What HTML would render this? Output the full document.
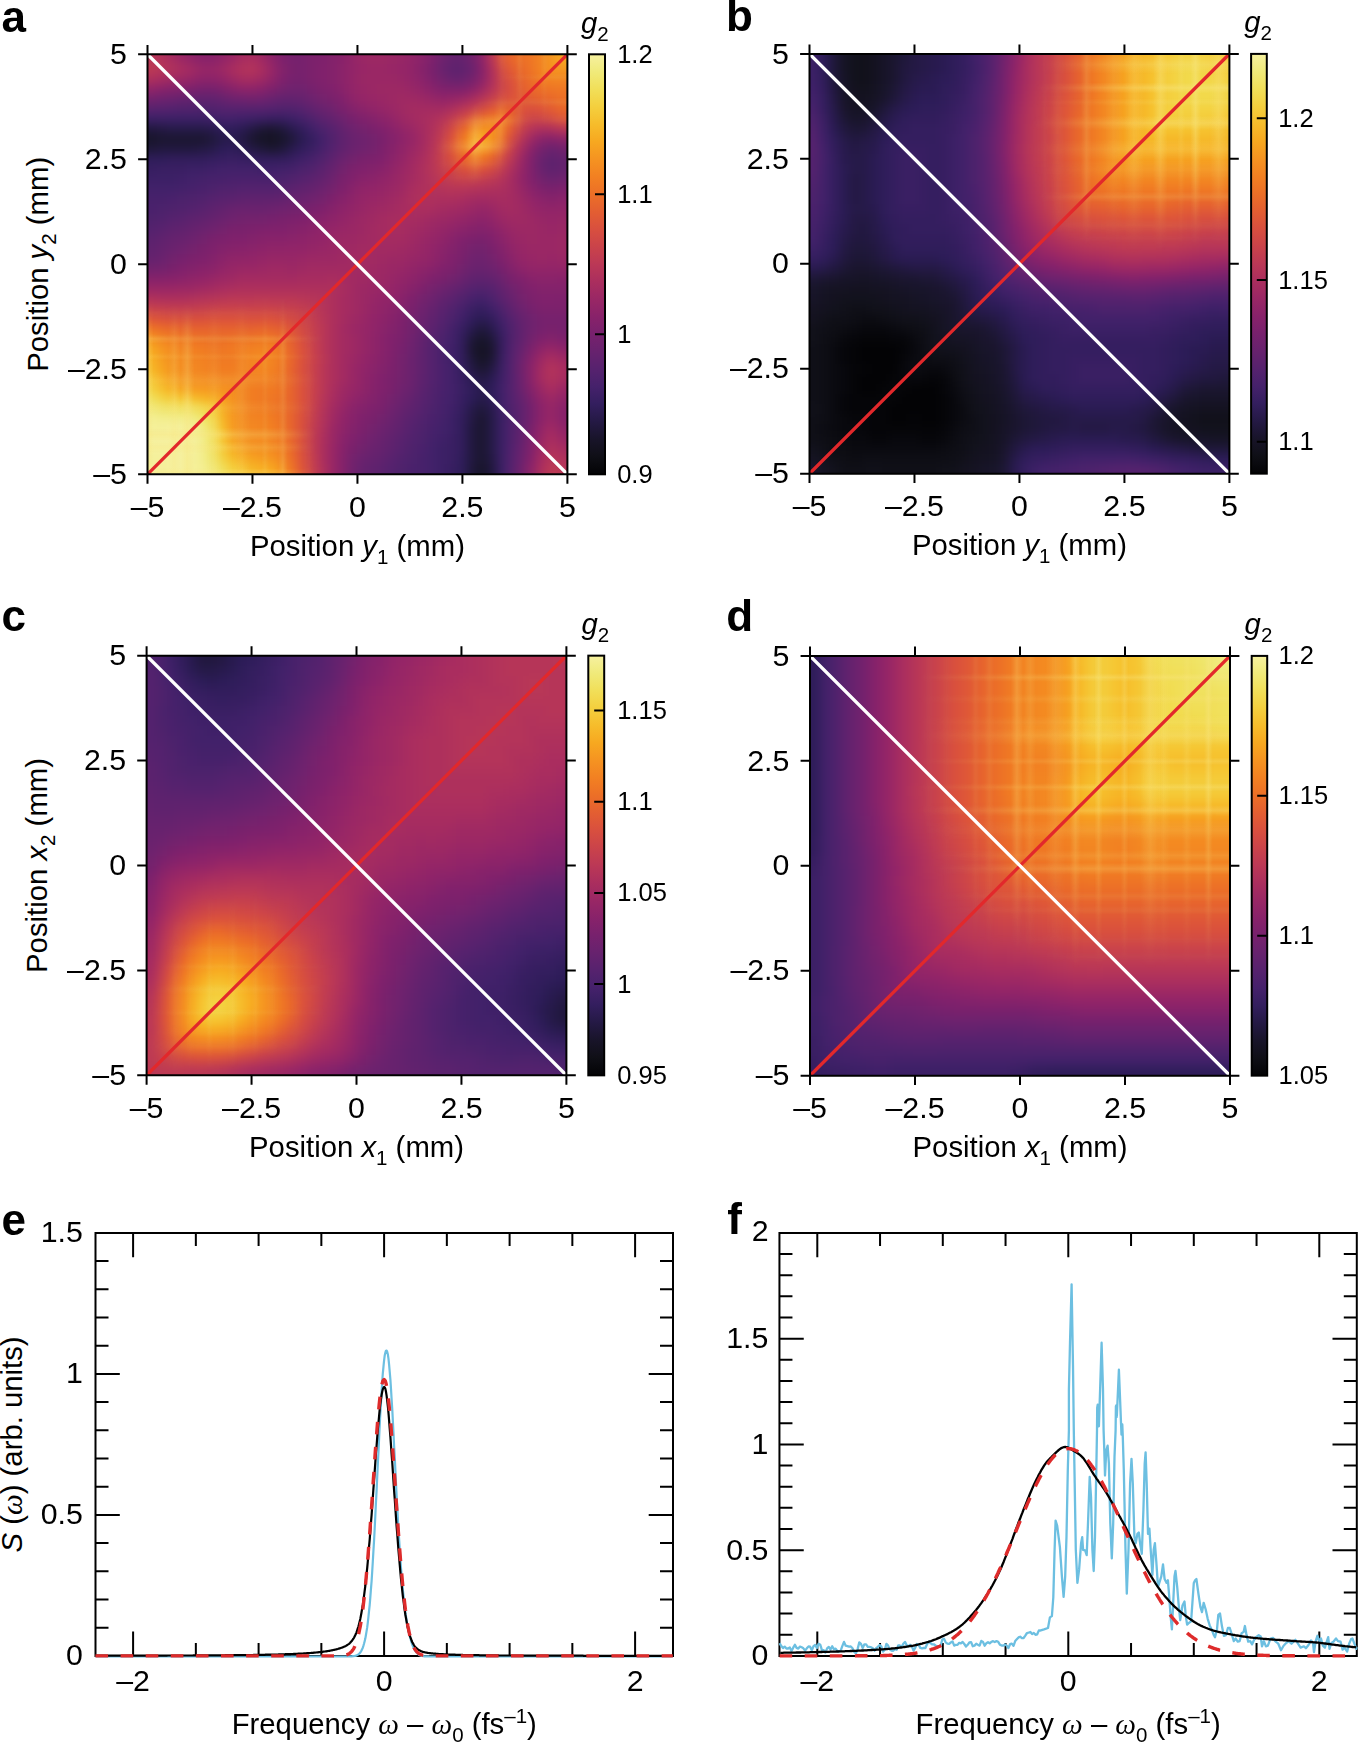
<!DOCTYPE html>
<html lang="en"><head><meta charset="utf-8"><title>Figure</title>
<style>html,body{margin:0;padding:0;background:#fff}body{width:1358px;height:1744px;overflow:hidden}svg{display:block}text{font-family:"Liberation Sans", Arial, Helvetica, sans-serif;fill:#000}.t{font-size:30.3px}.c{font-size:25.5px}.l{font-size:29.3px}.p{font-size:44px;font-weight:bold}.i{font-style:italic}.s{font-size:20.5px}.w{font-family:"Liberation Serif","DejaVu Serif",serif;font-style:italic}</style></head><body>
<svg width="1358" height="1744" viewBox="0 0 1358 1744">
<defs><filter id="bl" x="-10%" y="-10%" width="120%" height="120%" color-interpolation-filters="sRGB"><feGaussianBlur stdDeviation="0.5"/></filter><linearGradient id="cb" x1="0" y1="0" x2="0" y2="1"><stop offset="0.000" stop-color="#f6f1a0"/><stop offset="0.042" stop-color="#f0ea7a"/><stop offset="0.083" stop-color="#f1df59"/><stop offset="0.125" stop-color="#f4cf3e"/><stop offset="0.167" stop-color="#f6bc2b"/><stop offset="0.208" stop-color="#f7a820"/><stop offset="0.250" stop-color="#f59321"/><stop offset="0.292" stop-color="#f28022"/><stop offset="0.333" stop-color="#ec6f27"/><stop offset="0.375" stop-color="#e35e32"/><stop offset="0.417" stop-color="#d84f3f"/><stop offset="0.458" stop-color="#ca434a"/><stop offset="0.500" stop-color="#bb3856"/><stop offset="0.542" stop-color="#aa2e5e"/><stop offset="0.583" stop-color="#992765"/><stop offset="0.625" stop-color="#88226a"/><stop offset="0.667" stop-color="#77216d"/><stop offset="0.708" stop-color="#67226e"/><stop offset="0.750" stop-color="#56226e"/><stop offset="0.792" stop-color="#45216b"/><stop offset="0.833" stop-color="#331e5e"/><stop offset="0.875" stop-color="#241944"/><stop offset="0.917" stop-color="#181429"/><stop offset="0.958" stop-color="#0f0f16"/><stop offset="1.000" stop-color="#030305"/></linearGradient><filter id="mkf" x="0" y="0" width="100%" height="100%" color-interpolation-filters="sRGB"><feColorMatrix type="matrix" values="0 1.7 0 0 -0.36  0 1.7 0 0 -0.36  0 1.7 0 0 -0.36  0 0 0 1 0"/></filter><linearGradient id="bv" x1="0" y1="0" x2="1" y2="0"><stop offset="0" stop-color="#f8e682" stop-opacity="0"/><stop offset=".5" stop-color="#f8e682"/><stop offset="1" stop-color="#f8e682" stop-opacity="0"/></linearGradient><linearGradient id="bh" x1="0" y1="0" x2="0" y2="1"><stop offset="0" stop-color="#f8e682" stop-opacity="0"/><stop offset=".5" stop-color="#f8e682"/><stop offset="1" stop-color="#f8e682" stop-opacity="0"/></linearGradient><clipPath id="cpa"><rect x="147.5" y="54.3" width="419.9" height="420"/></clipPath><mask id="mka" maskUnits="userSpaceOnUse" x="147.5" y="54.3" width="419.9" height="420"><g filter="url(#mkf)"><use href="#hma"/></g></mask><clipPath id="cpb"><rect x="809.5" y="53.9" width="419.9" height="419.75"/></clipPath><mask id="mkb" maskUnits="userSpaceOnUse" x="809.5" y="53.9" width="419.9" height="419.75"><g filter="url(#mkf)"><use href="#hmb"/></g></mask><clipPath id="cpc"><rect x="146.6" y="655.65" width="419.8" height="419.7"/></clipPath><mask id="mkc" maskUnits="userSpaceOnUse" x="146.6" y="655.65" width="419.8" height="419.7"><g filter="url(#mkf)"><use href="#hmc"/></g></mask><clipPath id="cpd"><rect x="810" y="655.9" width="420" height="419.75"/></clipPath><mask id="mkd" maskUnits="userSpaceOnUse" x="810" y="655.9" width="420" height="419.75"><g filter="url(#mkf)"><use href="#hmd"/></g></mask><clipPath id="cpe"><rect x="94.7" y="1230.9" width="579.1" height="427"/></clipPath><clipPath id="cpf"><rect x="778.65" y="1230.9" width="578.95" height="427"/></clipPath></defs>
<rect width="1358" height="1744" fill="#fff"/>
<g clip-path="url(#cpa)"><g id="hma" filter="url(#bl)" shape-rendering="crispEdges" transform="translate(147.5,54.3) scale(9.9976,10.0000)">
<path fill="#151322" d="M12 8h1v1h-1zM33 29h1v1h-1z"/>
<path fill="#161425" d="M11 8h1v1h-1zM33 30h1v1h-1z"/>
<path fill="#18152a" d="M-2 8h3v1h-3zM13 8h1v1h-1zM33 28h1v1h-1zM33 41h1v1h-1zM33 42h1v1h-1zM33 43h1v1h-1z"/>
<path fill="#1b1630" d="M12 7h1v1h-1zM1 8h5v1h-5zM10 8h1v1h-1zM12 9h1v1h-1zM32 29h1v1h-1zM34 29h1v1h-1zM33 31h1v1h-1zM33 36h1v1h-1zM33 37h1v1h-1zM33 38h1v1h-1zM33 39h1v1h-1zM33 40h1v1h-1z"/>
<path fill="#1d1735" d="M11 7h1v1h-1zM34 30h1v1h-1z"/>
<path fill="#1f183a" d="M13 7h1v1h-1zM6 8h1v1h-1zM14 8h1v1h-1zM-2 9h3v1h-3zM11 9h1v1h-1zM13 9h1v1h-1zM33 27h1v1h-1zM32 28h1v1h-1zM34 28h1v1h-1zM32 30h1v1h-1zM33 35h1v1h-1zM32 41h1v1h-1zM32 42h1v1h-1zM32 43h1v1h-1z"/>
<path fill="#21183f" d="M-2 7h3v1h-3zM1 9h4v1h-4zM32 37h1v1h-1zM32 38h1v1h-1zM32 39h1v1h-1zM32 40h1v1h-1zM34 41h1v1h-1zM34 42h1v1h-1zM34 43h1v1h-1z"/>
<path fill="#241944" d="M1 7h1v1h-1zM10 7h1v1h-1zM9 8h1v1h-1zM5 9h1v1h-1zM10 9h1v1h-1zM32 31h1v1h-1zM34 31h1v1h-1zM33 32h1v1h-1zM32 36h1v1h-1zM34 40h1v1h-1z"/>
<path fill="#261a49" d="M2 7h4v1h-4zM7 8h1v1h-1zM6 9h1v1h-1zM33 34h1v1h-1zM32 35h1v1h-1zM34 36h1v1h-1zM34 37h1v1h-1zM34 38h1v1h-1zM34 39h1v1h-1z"/>
<path fill="#281a4e" d="M6 7h1v1h-1zM14 7h1v1h-1zM8 8h1v1h-1zM14 9h1v1h-1zM32 27h1v1h-1zM34 27h1v1h-1zM33 33h1v1h-1zM34 35h1v1h-1z"/>
<path fill="#2a1b53" d="M9 7h1v1h-1zM15 8h1v1h-1zM9 9h1v1h-1zM33 26h1v1h-1zM32 32h1v1h-1zM34 32h1v1h-1z"/>
<path fill="#2c1c58" d="M7 7h1v1h-1zM7 9h1v1h-1zM32 34h1v1h-1zM34 34h1v1h-1z"/>
<path fill="#2f1d5a" d="M8 7h1v1h-1zM8 9h1v1h-1zM-2 10h4v1h-4zM32 33h1v1h-1zM34 33h1v1h-1zM31 40h1v1h-1zM31 41h1v1h-1zM31 42h1v1h-1zM31 43h1v1h-1z"/>
<path fill="#321d5c" d="M15 7h1v1h-1zM15 9h1v1h-1zM2 10h4v1h-4zM11 10h3v1h-3zM32 26h1v1h-1zM34 26h1v1h-1zM31 28h1v1h-1zM31 29h1v1h-1zM31 30h1v1h-1zM31 36h1v1h-1zM31 37h1v1h-1zM31 38h1v1h-1zM31 39h1v1h-1z"/>
<path fill="#341e5f" d="M16 8h1v1h-1zM6 10h1v1h-1zM10 10h1v1h-1zM33 25h1v1h-1zM31 31h1v1h-1zM31 35h1v1h-1z"/>
<path fill="#371e61" d="M12 6h2v1h-2zM7 10h1v1h-1zM9 10h1v1h-1zM14 10h1v1h-1zM-2 11h3v1h-3zM31 27h1v1h-1zM35 28h1v1h-1zM35 29h1v1h-1zM31 32h1v1h-1zM31 34h1v1h-1zM30 41h1v1h-1zM30 42h1v1h-1zM30 43h1v1h-1z"/>
<path fill="#3a1f63" d="M11 6h1v1h-1zM16 9h1v1h-1zM8 10h1v1h-1zM1 11h3v1h-3zM32 25h1v1h-1zM35 30h1v1h-1zM31 33h1v1h-1zM30 38h1v1h-1zM30 39h1v1h-1zM30 40h1v1h-1z"/>
<path fill="#3c2066" d="M-2 6h8v1h-8zM10 6h1v1h-1zM14 6h1v1h-1zM4 11h2v1h-2zM-2 12h5v1h-5zM35 27h1v1h-1zM35 31h1v1h-1zM30 36h1v1h-1zM35 36h1v1h-1zM30 37h1v1h-1zM35 37h1v1h-1zM35 38h1v1h-1zM29 39h1v1h-1zM35 39h1v1h-1zM29 40h1v1h-1zM35 40h1v1h-1zM29 41h1v1h-1zM35 41h1v1h-1zM29 42h1v1h-1zM35 42h1v1h-1zM29 43h1v1h-1zM35 43h1v1h-1z"/>
<path fill="#3f2068" d="M6 6h1v1h-1zM9 6h1v1h-1zM16 7h1v1h-1zM15 10h1v1h-1zM6 11h1v1h-1zM11 11h2v1h-2zM3 12h1v1h-1zM34 25h1v1h-1zM31 26h1v1h-1zM30 29h1v1h-1zM30 30h1v1h-1zM35 32h1v1h-1zM30 35h1v1h-1zM35 35h1v1h-1zM29 38h1v1h-1z"/>
<path fill="#42216a" d="M7 6h2v1h-2zM17 8h1v1h-1zM7 11h4v1h-4zM13 11h1v1h-1zM4 12h1v1h-1zM-2 13h5v1h-5zM33 24h1v1h-1zM30 28h1v1h-1zM30 31h1v1h-1zM30 32h1v1h-1zM30 33h1v1h-1zM35 33h1v1h-1zM30 34h1v1h-1zM35 34h1v1h-1zM29 37h1v1h-1zM28 39h1v1h-1zM28 40h1v1h-1zM28 41h1v1h-1zM28 42h1v1h-1zM28 43h1v1h-1z"/>
<path fill="#44216a" d="M15 6h1v1h-1zM14 11h1v1h-1zM5 12h1v1h-1zM3 13h1v1h-1zM35 26h1v1h-1zM30 27h1v1h-1zM29 36h1v1h-1zM28 38h1v1h-1z"/>
<path fill="#47216b" d="M17 9h1v1h-1zM16 10h1v1h-1zM6 12h2v1h-2zM4 13h1v1h-1zM-2 14h4v1h-4zM32 24h1v1h-1zM31 25h1v1h-1zM29 34h1v1h-1zM29 35h1v1h-1zM28 37h1v1h-1zM27 40h1v1h-1zM27 41h1v1h-1zM27 42h1v1h-1zM27 43h1v1h-1z"/>
<path fill="#4a216c" d="M8 12h5v1h-5zM5 13h1v1h-1zM2 14h1v1h-1zM-2 15h3v1h-3zM29 29h1v1h-1zM29 30h1v1h-1zM29 31h1v1h-1zM29 32h1v1h-1zM29 33h1v1h-1zM28 36h1v1h-1zM27 39h1v1h-1zM26 41h1v1h-1zM26 42h1v1h-1zM26 43h1v1h-1z"/>
<path fill="#4c226c" d="M17 7h1v1h-1zM15 11h1v1h-1zM13 12h1v1h-1zM6 13h1v1h-1zM3 14h1v1h-1zM1 15h1v1h-1zM34 24h1v1h-1zM30 26h1v1h-1zM29 28h1v1h-1zM28 35h1v1h-1zM27 38h1v1h-1zM26 40h1v1h-1z"/>
<path fill="#4e226c" d="M5 5h1v1h-1zM16 6h1v1h-1zM4 14h1v1h-1zM2 15h1v1h-1zM-2 16h3v1h-3zM35 25h1v1h-1zM36 36h1v1h-1zM27 37h1v1h-1zM26 39h1v1h-1zM25 41h1v1h-1zM25 42h1v1h-1zM25 43h1v1h-1z"/>
<path fill="#51226d" d="M3 5h2v1h-2zM6 5h1v1h-1zM13 5h2v1h-2zM18 8h1v1h-1zM17 10h1v1h-1zM16 11h1v1h-1zM14 12h1v1h-1zM7 13h2v1h-2zM5 14h1v1h-1zM3 15h1v1h-1zM1 16h1v1h-1zM33 23h1v1h-1zM31 24h1v1h-1zM30 25h1v1h-1zM29 27h1v1h-1zM36 27h1v1h-1zM36 28h1v1h-1zM28 33h1v1h-1zM28 34h1v1h-1zM36 35h1v1h-1zM27 36h1v1h-1zM36 37h1v1h-1zM26 38h1v1h-1zM36 38h1v1h-1zM25 40h1v1h-1z"/>
<path fill="#54226e" d="M2 5h1v1h-1zM7 5h1v1h-1zM12 5h1v1h-1zM18 9h1v1h-1zM9 13h4v1h-4zM4 15h1v1h-1zM-2 17h3v1h-3zM32 23h1v1h-1zM28 29h1v1h-1zM36 29h1v1h-1zM28 30h1v1h-1zM28 31h1v1h-1zM28 32h1v1h-1zM36 34h1v1h-1zM26 37h1v1h-1zM36 39h1v1h-1zM24 41h1v1h-1zM24 42h1v1h-1zM24 43h1v1h-1z"/>
<path fill="#56226e" d="M1 5h1v1h-1zM8 5h4v1h-4zM15 5h1v1h-1zM18 7h1v1h-1zM15 12h1v1h-1zM13 13h1v1h-1zM6 14h1v1h-1zM2 16h1v1h-1zM34 23h1v1h-1zM29 26h1v1h-1zM36 26h1v1h-1zM28 28h1v1h-1zM36 30h1v1h-1zM36 31h1v1h-1zM36 32h1v1h-1zM36 33h1v1h-1zM27 35h1v1h-1zM25 39h1v1h-1zM36 40h1v1h-1z"/>
<path fill="#58226e" d="M-2 5h3v1h-3zM7 14h1v1h-1zM5 15h1v1h-1zM3 16h1v1h-1zM1 17h1v1h-1zM27 34h1v1h-1zM26 36h1v1h-1zM25 38h1v1h-1zM24 40h1v1h-1zM36 41h1v1h-1zM36 42h1v1h-1zM36 43h1v1h-1z"/>
<path fill="#5b226e" d="M17 6h1v1h-1zM17 11h1v1h-1zM16 12h1v1h-1zM14 13h1v1h-1zM8 14h1v1h-1zM-2 18h3v1h-3zM30 24h1v1h-1zM35 24h1v1h-1zM29 25h1v1h-1zM28 27h1v1h-1zM27 33h1v1h-1zM23 41h1v1h-1zM23 42h1v1h-1zM23 43h1v1h-1z"/>
<path fill="#5e226e" d="M30 1h2v1h-2zM19 8h1v1h-1zM18 10h1v1h-1zM40 10h1v1h-1zM40 11h1v1h-1zM9 14h1v1h-1zM6 15h1v1h-1zM4 16h1v1h-1zM2 17h1v1h-1zM33 22h1v1h-1zM31 23h1v1h-1zM27 32h1v1h-1zM26 35h1v1h-1zM25 37h1v1h-1zM24 39h1v1h-1z"/>
<path fill="#60226e" d="M5 4h2v1h-2zM16 5h1v1h-1zM19 9h1v1h-1zM15 13h1v1h-1zM10 14h3v1h-3zM5 16h1v1h-1zM3 17h1v1h-1zM1 18h1v1h-1zM-2 19h3v1h-3zM32 22h1v1h-1zM36 25h1v1h-1zM28 26h1v1h-1zM27 29h1v1h-1zM27 30h1v1h-1zM27 31h1v1h-1zM37 35h1v1h-1zM25 36h1v1h-1zM37 36h1v1h-1zM24 38h1v1h-1zM23 40h1v1h-1zM22 41h1v1h-1zM22 42h1v1h-1zM22 43h1v1h-1z"/>
<path fill="#62226e" d="M4 4h1v1h-1zM13 4h2v1h-2zM18 6h1v1h-1zM19 7h1v1h-1zM17 12h1v1h-1zM13 14h1v1h-1zM7 15h1v1h-1zM34 22h1v1h-1zM35 23h1v1h-1zM29 24h1v1h-1zM37 27h1v1h-1zM27 28h1v1h-1zM37 28h1v1h-1zM26 34h1v1h-1zM37 37h1v1h-1z"/>
<path fill="#65226e" d="M30 -2h2v1h-2zM30 -1h2v1h-2zM30 0h2v1h-2zM3 4h1v1h-1zM7 4h1v1h-1zM15 4h1v1h-1zM41 10h3v1h-3zM18 11h1v1h-1zM41 11h3v1h-3zM16 13h1v1h-1zM6 16h1v1h-1zM4 17h1v1h-1zM2 18h1v1h-1zM1 19h1v1h-1zM-2 20h3v1h-3zM30 23h1v1h-1zM28 25h1v1h-1zM37 26h1v1h-1zM37 34h1v1h-1zM25 35h1v1h-1zM24 37h1v1h-1zM37 38h1v1h-1zM23 39h1v1h-1zM22 40h1v1h-1zM21 41h1v1h-1zM21 42h1v1h-1zM21 43h1v1h-1z"/>
<path fill="#68226e" d="M30 2h2v1h-2zM12 4h1v1h-1zM17 5h1v1h-1zM20 8h1v1h-1zM39 10h1v1h-1zM39 11h1v1h-1zM14 14h1v1h-1zM8 15h1v1h-1zM3 18h1v1h-1zM33 21h1v1h-1zM36 24h1v1h-1zM27 27h1v1h-1zM37 29h1v1h-1zM26 33h1v1h-1zM23 38h1v1h-1z"/>
<path fill="#6a226e" d="M29 1h1v1h-1zM32 1h1v1h-1zM2 4h1v1h-1zM20 9h1v1h-1zM40 9h1v1h-1zM19 10h1v1h-1zM40 12h1v1h-1zM15 14h1v1h-1zM9 15h3v1h-3zM7 16h1v1h-1zM5 17h1v1h-1zM2 19h1v1h-1zM1 20h1v1h-1zM32 21h1v1h-1zM31 22h1v1h-1zM27 26h1v1h-1zM26 30h1v1h-1zM26 31h1v1h-1zM26 32h1v1h-1zM25 34h1v1h-1zM24 36h1v1h-1zM22 39h1v1h-1zM37 39h1v1h-1zM21 40h1v1h-1z"/>
<path fill="#6d226e" d="M1 4h1v1h-1zM8 4h1v1h-1zM16 4h1v1h-1zM19 6h1v1h-1zM20 7h1v1h-1zM21 8h1v1h-1zM18 12h1v1h-1zM17 13h1v1h-1zM12 15h1v1h-1zM4 18h1v1h-1zM33 20h1v1h-1zM34 21h1v1h-1zM35 22h1v1h-1zM29 23h1v1h-1zM28 24h1v1h-1zM37 25h1v1h-1zM26 29h1v1h-1zM37 33h1v1h-1zM23 37h1v1h-1zM37 40h1v1h-1z"/>
<path fill="#6f226e" d="M29 -2h1v1h-1zM29 -1h1v1h-1zM29 0h1v1h-1zM14 3h2v1h-2zM9 4h1v1h-1zM11 4h1v1h-1zM18 5h1v1h-1zM21 9h1v1h-1zM41 12h3v1h-3zM16 14h1v1h-1zM13 15h1v1h-1zM8 16h1v1h-1zM6 17h1v1h-1zM3 19h1v1h-1zM32 20h1v1h-1zM36 23h1v1h-1zM27 25h1v1h-1zM38 26h1v1h-1zM38 27h1v1h-1zM26 28h1v1h-1zM37 30h1v1h-1zM37 32h1v1h-1zM25 33h1v1h-1zM24 35h1v1h-1zM22 38h1v1h-1z"/>
<path fill="#72226d" d="M32 -2h1v1h-1zM32 -1h1v1h-1zM32 0h1v1h-1zM29 2h1v1h-1zM-2 4h3v1h-3zM10 4h1v1h-1zM22 8h1v1h-1zM41 9h3v1h-3zM20 10h1v1h-1zM19 11h1v1h-1zM39 12h1v1h-1zM14 15h1v1h-1zM9 16h1v1h-1zM5 18h1v1h-1zM33 19h1v1h-1zM2 20h1v1h-1zM-2 21h3v1h-3zM31 21h1v1h-1zM30 22h1v1h-1zM26 27h1v1h-1zM37 31h1v1h-1zM25 32h1v1h-1zM23 36h1v1h-1zM21 39h1v1h-1zM20 41h1v1h-1zM37 41h1v1h-1zM20 42h1v1h-1zM37 42h1v1h-1zM20 43h1v1h-1zM37 43h1v1h-1z"/>
<path fill="#74226d" d="M32 2h1v1h-1zM13 3h1v1h-1zM17 4h1v1h-1zM21 7h1v1h-1zM22 9h1v1h-1zM39 9h1v1h-1zM18 13h1v1h-1zM17 14h1v1h-1zM15 15h1v1h-1zM10 16h2v1h-2zM7 17h1v1h-1zM4 19h1v1h-1zM32 19h1v1h-1zM34 20h1v1h-1zM1 21h1v1h-1zM28 23h1v1h-1zM27 24h1v1h-1zM37 24h1v1h-1zM26 26h1v1h-1zM38 28h1v1h-1zM25 30h1v1h-1zM25 31h1v1h-1zM24 34h1v1h-1zM22 37h1v1h-1zM20 40h1v1h-1z"/>
<path fill="#76216d" d="M14 -2h2v1h-2zM14 -1h2v1h-2zM14 0h2v1h-2zM15 1h1v1h-1zM14 2h2v1h-2zM5 3h2v1h-2zM16 3h1v1h-1zM20 6h1v1h-1zM12 16h1v1h-1zM3 20h1v1h-1zM35 21h1v1h-1zM38 25h1v1h-1zM39 26h5v1h-5zM39 27h1v1h-1zM41 27h3v1h-3zM25 29h1v1h-1zM38 35h1v1h-1zM38 36h1v1h-1zM21 38h1v1h-1z"/>
<path fill="#79216c" d="M14 1h1v1h-1zM28 1h1v1h-1zM18 4h1v1h-1zM19 5h1v1h-1zM22 7h1v1h-1zM23 8h1v1h-1zM21 10h1v1h-1zM19 12h1v1h-1zM40 13h1v1h-1zM16 15h1v1h-1zM13 16h1v1h-1zM8 17h2v1h-2zM6 18h1v1h-1zM33 18h1v1h-1zM5 19h1v1h-1zM34 19h1v1h-1zM31 20h1v1h-1zM2 21h1v1h-1zM29 22h1v1h-1zM36 22h1v1h-1zM37 23h1v1h-1zM26 25h1v1h-1zM40 27h1v1h-1zM25 28h1v1h-1zM24 32h1v1h-1zM24 33h1v1h-1zM23 35h1v1h-1zM22 36h1v1h-1zM20 39h1v1h-1z"/>
<path fill="#7c216c" d="M16 -2h1v1h-1zM16 -1h1v1h-1zM16 0h1v1h-1zM16 1h1v1h-1zM16 2h1v1h-1zM4 3h1v1h-1zM7 3h1v1h-1zM17 3h1v1h-1zM23 9h1v1h-1zM22 10h1v1h-1zM20 11h1v1h-1zM14 16h1v1h-1zM10 17h1v1h-1zM7 18h1v1h-1zM32 18h1v1h-1zM31 19h1v1h-1zM4 20h1v1h-1zM30 21h1v1h-1zM38 24h1v1h-1zM39 25h5v1h-5zM25 27h1v1h-1zM24 31h1v1h-1zM23 34h1v1h-1zM38 34h1v1h-1zM21 37h1v1h-1zM38 37h1v1h-1z"/>
<path fill="#7e216c" d="M13 -2h1v1h-1zM17 -2h1v1h-1zM28 -2h1v1h-1zM13 -1h1v1h-1zM17 -1h1v1h-1zM28 -1h1v1h-1zM13 0h1v1h-1zM17 0h1v1h-1zM28 0h1v1h-1zM28 2h1v1h-1zM12 3h1v1h-1zM30 3h2v1h-2zM21 6h1v1h-1zM38 10h1v1h-1zM38 11h1v1h-1zM19 13h1v1h-1zM39 13h1v1h-1zM41 13h3v1h-3zM18 14h1v1h-1zM17 15h1v1h-1zM15 16h1v1h-1zM11 17h1v1h-1zM6 19h1v1h-1zM5 20h1v1h-1zM35 20h1v1h-1zM28 22h1v1h-1zM27 23h1v1h-1zM26 24h1v1h-1zM41 24h3v1h-3zM25 26h1v1h-1zM41 28h3v1h-3zM38 29h1v1h-1zM24 30h1v1h-1zM22 35h1v1h-1zM21 36h1v1h-1z"/>
<path fill="#80216c" d="M17 1h1v1h-1zM13 2h1v1h-1zM17 2h1v1h-1zM3 3h1v1h-1zM18 3h1v1h-1zM29 3h1v1h-1zM19 4h1v1h-1zM23 7h1v1h-1zM23 10h1v1h-1zM21 11h1v1h-1zM20 12h1v1h-1zM38 12h1v1h-1zM12 17h2v1h-2zM8 18h2v1h-2zM31 18h1v1h-1zM34 18h1v1h-1zM30 20h1v1h-1zM3 21h1v1h-1zM29 21h1v1h-1zM37 22h1v1h-1zM38 23h1v1h-1zM39 24h2v1h-2zM24 28h1v1h-1zM39 28h1v1h-1zM24 29h1v1h-1zM23 32h1v1h-1zM23 33h1v1h-1zM20 38h1v1h-1zM38 38h1v1h-1z"/>
<path fill="#83226b" d="M18 -2h1v1h-1zM18 -1h1v1h-1zM18 0h1v1h-1zM13 1h1v1h-1zM18 1h1v1h-1zM18 2h1v1h-1zM2 3h1v1h-1zM20 5h1v1h-1zM22 6h1v1h-1zM24 8h1v1h-1zM22 11h1v1h-1zM16 16h1v1h-1zM14 17h1v1h-1zM33 17h1v1h-1zM10 18h1v1h-1zM7 19h1v1h-1zM30 19h1v1h-1zM35 19h1v1h-1zM6 20h1v1h-1zM4 21h1v1h-1zM36 21h1v1h-1zM39 23h5v1h-5zM25 25h1v1h-1zM24 27h1v1h-1zM40 28h1v1h-1zM23 31h1v1h-1zM22 34h1v1h-1zM21 35h1v1h-1zM20 37h1v1h-1zM38 39h1v1h-1z"/>
<path fill="#86226a" d="M27 1h1v1h-1zM33 1h1v1h-1zM8 3h1v1h-1zM40 8h1v1h-1zM24 9h1v1h-1zM19 14h1v1h-1zM40 14h1v1h-1zM18 15h1v1h-1zM15 17h1v1h-1zM32 17h1v1h-1zM11 18h1v1h-1zM8 19h1v1h-1zM-2 22h4v1h-4zM27 22h1v1h-1zM26 23h1v1h-1zM24 26h1v1h-1zM23 30h1v1h-1zM22 33h1v1h-1zM38 33h1v1h-1zM19 40h1v1h-1zM19 41h1v1h-1zM19 42h1v1h-1zM19 43h1v1h-1z"/>
<path fill="#88226a" d="M5 -2h2v1h-2zM19 -2h1v1h-1zM5 -1h2v1h-2zM19 -1h1v1h-1zM5 0h2v1h-2zM19 0h1v1h-1zM1 3h1v1h-1zM11 3h1v1h-1zM19 3h1v1h-1zM28 3h1v1h-1zM32 3h1v1h-1zM24 7h1v1h-1zM38 9h1v1h-1zM23 11h1v1h-1zM21 12h1v1h-1zM20 13h1v1h-1zM38 13h1v1h-1zM17 16h1v1h-1zM34 17h1v1h-1zM12 18h2v1h-2zM30 18h1v1h-1zM9 19h1v1h-1zM29 20h1v1h-1zM5 21h1v1h-1zM28 21h1v1h-1zM2 22h1v1h-1zM38 22h1v1h-1zM41 22h3v1h-3zM25 24h1v1h-1zM23 28h1v1h-1zM23 29h1v1h-1zM38 30h1v1h-1zM22 32h1v1h-1zM41 35h3v1h-3zM20 36h1v1h-1zM41 36h3v1h-3zM19 39h1v1h-1zM38 40h1v1h-1z"/>
<path fill="#8a236a" d="M27 -2h1v1h-1zM27 -1h1v1h-1zM27 0h1v1h-1zM19 1h1v1h-1zM19 2h1v1h-1zM27 2h1v1h-1zM33 2h1v1h-1zM21 5h1v1h-1zM23 6h1v1h-1zM39 8h1v1h-1zM24 10h1v1h-1zM22 12h1v1h-1zM39 14h1v1h-1zM41 14h3v1h-3zM16 17h1v1h-1zM31 17h1v1h-1zM14 18h1v1h-1zM35 18h1v1h-1zM10 19h1v1h-1zM29 19h1v1h-1zM7 20h1v1h-1zM36 20h1v1h-1zM6 21h1v1h-1zM3 22h1v1h-1zM39 22h2v1h-2zM24 25h1v1h-1zM23 27h1v1h-1zM22 31h1v1h-1zM21 34h1v1h-1zM20 35h1v1h-1zM19 38h1v1h-1z"/>
<path fill="#8d2369" d="M12 -2h1v1h-1zM33 -2h1v1h-1zM12 -1h1v1h-1zM33 -1h1v1h-1zM12 0h1v1h-1zM33 0h1v1h-1zM5 2h2v1h-2zM9 3h2v1h-2zM20 4h1v1h-1zM25 8h1v1h-1zM41 8h3v1h-3zM20 14h1v1h-1zM19 15h1v1h-1zM18 16h1v1h-1zM33 16h1v1h-1zM15 18h1v1h-1zM11 19h1v1h-1zM27 21h1v1h-1zM37 21h1v1h-1zM26 22h1v1h-1zM25 23h1v1h-1zM23 26h1v1h-1zM41 29h3v1h-3zM22 30h1v1h-1zM38 31h1v1h-1zM38 32h1v1h-1zM39 35h1v1h-1zM39 36h1v1h-1z"/>
<path fill="#902468" d="M4 -2h1v1h-1zM7 -2h1v1h-1zM4 -1h1v1h-1zM7 -1h1v1h-1zM4 0h1v1h-1zM7 0h1v1h-1zM26 1h1v1h-1zM12 2h1v1h-1zM-2 3h3v1h-3zM22 5h1v1h-1zM25 9h1v1h-1zM24 11h1v1h-1zM23 12h1v1h-1zM21 13h1v1h-1zM40 15h1v1h-1zM32 16h1v1h-1zM17 17h1v1h-1zM30 17h1v1h-1zM16 18h1v1h-1zM29 18h1v1h-1zM12 19h2v1h-2zM36 19h1v1h-1zM8 20h2v1h-2zM28 20h1v1h-1zM4 22h1v1h-1zM24 24h1v1h-1zM23 25h1v1h-1zM22 28h1v1h-1zM22 29h1v1h-1zM39 29h1v1h-1zM21 32h1v1h-1zM21 33h1v1h-1zM41 34h3v1h-3zM19 37h1v1h-1zM41 37h3v1h-3zM38 41h1v1h-1zM38 42h1v1h-1zM38 43h1v1h-1z"/>
<path fill="#922468" d="M20 -2h1v1h-1zM26 -2h1v1h-1zM20 -1h1v1h-1zM26 -1h1v1h-1zM20 0h1v1h-1zM26 0h1v1h-1zM20 1h1v1h-1zM7 2h1v1h-1zM20 2h1v1h-1zM26 2h1v1h-1zM20 3h1v1h-1zM27 3h1v1h-1zM29 4h1v1h-1zM24 6h1v1h-1zM25 7h1v1h-1zM37 12h1v1h-1zM22 13h1v1h-1zM38 14h1v1h-1zM20 15h1v1h-1zM39 15h1v1h-1zM41 15h3v1h-3zM19 16h1v1h-1zM34 16h1v1h-1zM35 17h1v1h-1zM17 18h1v1h-1zM14 19h2v1h-2zM28 19h1v1h-1zM10 20h1v1h-1zM7 21h1v1h-1zM26 21h1v1h-1zM38 21h6v1h-6zM5 22h1v1h-1zM25 22h1v1h-1zM23 24h1v1h-1zM22 26h1v1h-1zM22 27h1v1h-1zM21 31h1v1h-1zM20 34h1v1h-1zM39 34h1v1h-1zM19 36h1v1h-1z"/>
<path fill="#952567" d="M25 1h1v1h-1zM4 2h1v1h-1zM21 4h1v1h-1zM30 4h1v1h-1zM23 5h1v1h-1zM26 8h1v1h-1zM25 10h1v1h-1zM37 11h1v1h-1zM24 12h1v1h-1zM23 13h1v1h-1zM21 14h1v1h-1zM33 15h1v1h-1zM31 16h1v1h-1zM40 16h1v1h-1zM18 17h1v1h-1zM29 17h1v1h-1zM28 18h1v1h-1zM36 18h1v1h-1zM16 19h1v1h-1zM11 20h1v1h-1zM27 20h1v1h-1zM37 20h1v1h-1zM24 23h1v1h-1zM22 25h1v1h-1zM21 30h1v1h-1zM39 37h1v1h-1z"/>
<path fill="#972666" d="M25 -2h1v1h-1zM25 -1h1v1h-1zM25 0h1v1h-1zM5 1h2v1h-2zM12 1h1v1h-1zM21 1h1v1h-1zM24 1h1v1h-1zM25 2h1v1h-1zM21 3h1v1h-1zM26 3h1v1h-1zM22 4h1v1h-1zM28 4h1v1h-1zM37 13h1v1h-1zM22 14h1v1h-1zM21 15h1v1h-1zM38 15h1v1h-1zM20 16h1v1h-1zM39 16h1v1h-1zM41 16h3v1h-3zM19 17h1v1h-1zM40 17h1v1h-1zM18 18h1v1h-1zM17 19h1v1h-1zM27 19h1v1h-1zM37 19h1v1h-1zM12 20h3v1h-3zM26 20h1v1h-1zM38 20h1v1h-1zM40 20h1v1h-1zM8 21h1v1h-1zM25 21h1v1h-1zM6 22h1v1h-1zM24 22h1v1h-1zM23 23h1v1h-1zM22 24h1v1h-1zM21 27h1v1h-1zM21 28h1v1h-1zM21 29h1v1h-1zM40 29h1v1h-1zM20 33h1v1h-1zM19 35h1v1h-1zM40 35h1v1h-1zM40 36h1v1h-1z"/>
<path fill="#9a2765" d="M3 -2h1v1h-1zM8 -2h1v1h-1zM21 -2h1v1h-1zM24 -2h1v1h-1zM3 -1h1v1h-1zM8 -1h1v1h-1zM21 -1h1v1h-1zM24 -1h1v1h-1zM3 0h1v1h-1zM8 0h1v1h-1zM21 0h1v1h-1zM24 0h1v1h-1zM22 1h2v1h-2zM21 2h4v1h-4zM22 3h1v1h-1zM23 4h1v1h-1zM31 4h1v1h-1zM24 5h1v1h-1zM26 7h1v1h-1zM26 9h1v1h-1zM37 10h1v1h-1zM25 11h1v1h-1zM24 13h1v1h-1zM23 14h1v1h-1zM32 15h1v1h-1zM34 15h1v1h-1zM30 16h1v1h-1zM20 17h1v1h-1zM28 17h1v1h-1zM36 17h1v1h-1zM39 17h1v1h-1zM41 17h3v1h-3zM27 18h1v1h-1zM37 18h1v1h-1zM39 18h2v1h-2zM18 19h1v1h-1zM38 19h3v1h-3zM15 20h1v1h-1zM39 20h1v1h-1zM41 20h3v1h-3zM9 21h2v1h-2zM24 21h1v1h-1zM-2 23h5v1h-5zM22 23h1v1h-1zM21 26h1v1h-1zM20 31h1v1h-1zM20 32h1v1h-1zM41 33h3v1h-3zM41 38h3v1h-3zM18 39h1v1h-1zM18 40h1v1h-1zM18 41h1v1h-1zM18 42h1v1h-1zM18 43h1v1h-1z"/>
<path fill="#9c2864" d="M22 -2h2v1h-2zM22 -1h2v1h-2zM22 0h2v1h-2zM7 1h1v1h-1zM3 2h1v1h-1zM8 2h1v1h-1zM23 3h3v1h-3zM33 3h1v1h-1zM24 4h1v1h-1zM27 4h1v1h-1zM25 6h1v1h-1zM38 8h1v1h-1zM25 12h1v1h-1zM37 14h1v1h-1zM22 15h1v1h-1zM21 16h1v1h-1zM29 16h1v1h-1zM35 16h1v1h-1zM38 16h1v1h-1zM21 17h1v1h-1zM37 17h2v1h-2zM19 18h2v1h-2zM38 18h1v1h-1zM41 18h3v1h-3zM19 19h1v1h-1zM26 19h1v1h-1zM41 19h3v1h-3zM16 20h3v1h-3zM24 20h2v1h-2zM11 21h1v1h-1zM14 21h1v1h-1zM23 21h1v1h-1zM7 22h1v1h-1zM22 22h2v1h-2zM3 23h2v1h-2zM21 23h1v1h-1zM21 24h1v1h-1zM21 25h1v1h-1zM20 27h1v1h-1zM20 30h1v1h-1zM39 33h1v1h-1zM19 34h1v1h-1zM40 34h1v1h-1zM18 37h1v1h-1zM18 38h1v1h-1zM39 38h1v1h-1z"/>
<path fill="#9f2963" d="M11 -2h1v1h-1zM11 -1h1v1h-1zM11 0h1v1h-1zM2 2h1v1h-1zM11 2h1v1h-1zM25 4h2v1h-2zM25 5h1v1h-1zM26 10h1v1h-1zM25 13h1v1h-1zM24 14h1v1h-1zM23 15h1v1h-1zM31 15h1v1h-1zM37 15h1v1h-1zM22 16h1v1h-1zM28 16h1v1h-1zM36 16h2v1h-2zM27 17h1v1h-1zM21 18h1v1h-1zM26 18h1v1h-1zM20 19h1v1h-1zM25 19h1v1h-1zM19 20h1v1h-1zM23 20h1v1h-1zM12 21h2v1h-2zM15 21h1v1h-1zM22 21h1v1h-1zM8 22h1v1h-1zM21 22h1v1h-1zM20 26h1v1h-1zM20 28h1v1h-1zM20 29h1v1h-1zM39 30h1v1h-1zM41 30h3v1h-3zM19 33h1v1h-1zM39 39h1v1h-1z"/>
<path fill="#a22a62" d="M4 1h1v1h-1zM26 6h1v1h-1zM27 8h1v1h-1zM26 11h1v1h-1zM33 14h1v1h-1zM24 15h1v1h-1zM30 15h1v1h-1zM35 15h1v1h-1zM22 17h1v1h-1zM26 17h1v1h-1zM22 18h1v1h-1zM21 19h4v1h-4zM20 20h3v1h-3zM16 21h6v1h-6zM20 22h1v1h-1zM5 23h1v1h-1zM20 23h1v1h-1zM20 24h1v1h-1zM20 25h1v1h-1zM18 36h1v1h-1zM40 37h1v1h-1z"/>
<path fill="#a42b61" d="M26 5h4v1h-4zM27 7h1v1h-1zM27 9h1v1h-1zM26 12h1v1h-1zM36 12h1v1h-1zM36 13h1v1h-1zM25 14h1v1h-1zM32 14h1v1h-1zM34 14h1v1h-1zM36 14h1v1h-1zM29 15h1v1h-1zM36 15h1v1h-1zM23 16h1v1h-1zM27 16h1v1h-1zM23 17h1v1h-1zM23 18h3v1h-3zM9 22h6v1h-6zM6 23h1v1h-1zM19 27h1v1h-1zM19 28h1v1h-1zM19 29h1v1h-1zM19 30h1v1h-1zM19 31h1v1h-1zM19 32h1v1h-1zM18 35h1v1h-1z"/>
<path fill="#a72c60" d="M2 -2h1v1h-1zM9 -2h1v1h-1zM2 -1h1v1h-1zM9 -1h1v1h-1zM2 0h1v1h-1zM9 0h1v1h-1zM1 2h1v1h-1zM9 2h2v1h-2zM32 4h1v1h-1zM27 6h1v1h-1zM37 9h1v1h-1zM35 14h1v1h-1zM25 15h1v1h-1zM24 16h3v1h-3zM24 17h2v1h-2zM15 22h3v1h-3zM19 22h1v1h-1zM19 24h1v1h-1zM19 25h1v1h-1zM19 26h1v1h-1zM39 31h1v1h-1zM39 32h1v1h-1zM41 32h3v1h-3zM41 39h3v1h-3zM39 40h1v1h-1z"/>
<path fill="#aa2d5f" d="M10 -2h1v1h-1zM10 -1h1v1h-1zM10 0h1v1h-1zM3 1h1v1h-1zM8 1h1v1h-1zM11 1h1v1h-1zM27 10h1v1h-1zM26 13h1v1h-1zM31 14h1v1h-1zM26 15h1v1h-1zM28 15h1v1h-1zM18 22h1v1h-1zM7 23h1v1h-1zM19 23h1v1h-1zM40 30h1v1h-1zM41 31h3v1h-3zM40 33h1v1h-1zM18 34h1v1h-1zM40 38h1v1h-1z"/>
<path fill="#ac2f5e" d="M34 2h1v1h-1zM30 5h1v1h-1zM28 6h1v1h-1zM39 7h1v1h-1zM27 11h1v1h-1zM36 11h1v1h-1zM27 12h1v1h-1zM35 13h1v1h-1zM26 14h1v1h-1zM29 14h2v1h-2zM27 15h1v1h-1zM8 23h1v1h-1zM18 33h1v1h-1z"/>
<path fill="#ae305c" d="M34 1h1v1h-1zM-2 2h3v1h-3zM28 7h1v1h-1zM40 7h1v1h-1zM27 13h1v1h-1zM34 13h1v1h-1zM27 14h2v1h-2zM9 23h10v1h-10zM1 24h3v1h-3zM18 24h1v1h-1zM18 25h1v1h-1zM18 26h1v1h-1zM18 27h1v1h-1zM18 28h1v1h-1zM18 29h1v1h-1zM18 30h1v1h-1zM18 31h1v1h-1zM18 32h1v1h-1zM17 38h1v1h-1zM17 39h1v1h-1zM17 40h1v1h-1zM39 41h1v1h-1zM39 42h1v1h-1zM39 43h1v1h-1z"/>
<path fill="#b1325b" d="M1 -2h1v1h-1zM1 -1h1v1h-1zM1 0h1v1h-1zM2 1h1v1h-1zM9 1h1v1h-1zM28 8h1v1h-1zM28 13h1v1h-1zM33 13h1v1h-1zM-2 24h3v1h-3zM4 24h1v1h-1zM40 32h1v1h-1zM17 37h1v1h-1zM40 39h1v1h-1zM41 40h3v1h-3zM17 41h1v1h-1zM17 42h1v1h-1zM17 43h1v1h-1z"/>
<path fill="#b4345a" d="M10 1h1v1h-1zM34 3h1v1h-1zM29 6h1v1h-1zM38 7h1v1h-1zM28 9h1v1h-1zM28 12h1v1h-1zM35 12h1v1h-1zM29 13h1v1h-1zM32 13h1v1h-1zM5 24h1v1h-1zM17 24h1v1h-1zM40 31h1v1h-1zM17 36h1v1h-1z"/>
<path fill="#b63558" d="M1 1h1v1h-1zM33 4h1v1h-1zM37 8h1v1h-1zM28 10h1v1h-1zM28 11h1v1h-1zM30 13h2v1h-2zM6 24h1v1h-1zM16 24h1v1h-1zM17 25h1v1h-1zM17 35h1v1h-1zM40 40h1v1h-1z"/>
<path fill="#b83757" d="M-2 -2h3v1h-3zM34 -2h1v1h-1zM-2 -1h3v1h-3zM34 -1h1v1h-1zM-2 0h3v1h-3zM34 0h1v1h-1zM31 5h1v1h-1zM41 7h3v1h-3zM36 10h1v1h-1zM7 24h1v1h-1zM15 24h1v1h-1zM17 26h1v1h-1zM17 34h1v1h-1zM41 41h3v1h-3zM41 42h3v1h-3zM41 43h3v1h-3z"/>
<path fill="#bb3856" d="M8 24h3v1h-3zM12 24h3v1h-3zM17 27h1v1h-1zM17 28h1v1h-1zM17 29h1v1h-1zM17 31h1v1h-1zM17 32h1v1h-1zM17 33h1v1h-1z"/>
<path fill="#bd3a54" d="M-2 1h3v1h-3zM29 7h1v1h-1zM29 12h1v1h-1zM34 12h1v1h-1zM11 24h1v1h-1zM17 30h1v1h-1zM40 41h1v1h-1zM40 42h1v1h-1zM40 43h1v1h-1z"/>
<path fill="#bf3b53" d="M16 25h1v1h-1z"/>
<path fill="#c23d51" d="M30 6h1v1h-1zM35 11h1v1h-1z"/>
<path fill="#c43e4f" d="M32 5h1v1h-1zM29 8h1v1h-1zM36 9h1v1h-1zM29 11h1v1h-1zM30 12h1v1h-1zM33 12h1v1h-1zM2 25h3v1h-3zM15 25h1v1h-1zM16 26h1v1h-1zM16 37h1v1h-1zM16 38h1v1h-1zM16 39h1v1h-1z"/>
<path fill="#c6404d" d="M34 4h1v1h-1zM37 7h1v1h-1zM1 25h1v1h-1zM5 25h1v1h-1zM14 25h1v1h-1zM16 27h1v1h-1zM16 36h1v1h-1zM16 40h1v1h-1z"/>
<path fill="#c8424c" d="M29 9h1v1h-1zM29 10h1v1h-1zM31 12h2v1h-2zM-2 25h3v1h-3zM6 25h1v1h-1zM13 25h1v1h-1zM16 28h1v1h-1zM16 35h1v1h-1zM16 41h1v1h-1zM16 42h1v1h-1zM16 43h1v1h-1z"/>
<path fill="#cb434a" d="M35 3h1v1h-1zM38 6h1v1h-1zM7 25h6v1h-6zM16 29h1v1h-1zM16 30h1v1h-1zM16 31h1v1h-1zM16 32h1v1h-1zM16 33h1v1h-1zM16 34h1v1h-1z"/>
<path fill="#cd4548" d="M35 2h1v1h-1zM39 6h1v1h-1zM15 26h1v1h-1z"/>
<path fill="#cf4746" d="M30 11h1v1h-1z"/>
<path fill="#d14945" d="M31 6h1v1h-1zM35 10h1v1h-1z"/>
<path fill="#d34b43" d="M35 1h1v1h-1zM33 5h1v1h-1zM40 6h1v1h-1zM30 7h1v1h-1zM36 8h1v1h-1zM34 11h1v1h-1zM14 26h1v1h-1zM15 27h1v1h-1z"/>
<path fill="#d54c41" d="M35 4h1v1h-1zM37 6h1v1h-1z"/>
<path fill="#d74e3f" d="M13 26h1v1h-1zM15 28h1v1h-1z"/>
<path fill="#d9503d" d="M36 3h1v1h-1zM38 5h1v1h-1zM30 10h1v1h-1zM31 11h1v1h-1zM2 26h4v1h-4zM10 26h1v1h-1zM15 31h1v1h-1zM15 36h1v1h-1zM15 37h1v1h-1zM15 38h1v1h-1zM15 39h1v1h-1z"/>
<path fill="#db523c" d="M1 26h1v1h-1zM6 26h4v1h-4zM11 26h2v1h-2zM15 29h1v1h-1zM15 30h1v1h-1zM15 32h1v1h-1zM15 33h1v1h-1zM15 34h1v1h-1zM15 35h1v1h-1zM15 40h1v1h-1z"/>
<path fill="#dd543a" d="M35 -2h1v1h-1zM35 -1h1v1h-1zM35 0h1v1h-1zM36 2h1v1h-1zM36 4h1v1h-1zM37 5h1v1h-1zM39 5h1v1h-1zM41 6h3v1h-3zM30 8h1v1h-1zM33 11h1v1h-1zM14 27h1v1h-1z"/>
<path fill="#de5638" d="M30 9h1v1h-1zM32 11h1v1h-1zM-2 26h3v1h-3zM15 41h1v1h-1zM15 42h1v1h-1zM15 43h1v1h-1z"/>
<path fill="#e05936" d="M37 4h1v1h-1zM34 5h1v1h-1zM36 7h1v1h-1z"/>
<path fill="#e25c34" d="M32 6h1v1h-1zM35 9h1v1h-1z"/>
<path fill="#e35e32" d="M36 1h1v1h-1zM37 3h1v1h-1zM38 4h1v1h-1zM40 5h1v1h-1zM13 27h1v1h-1zM14 28h1v1h-1z"/>
<path fill="#e46030" d="M36 5h1v1h-1z"/>
<path fill="#e6632e" d="M37 2h1v1h-1zM39 4h1v1h-1zM31 7h1v1h-1zM31 10h1v1h-1zM34 10h1v1h-1zM4 27h7v1h-7zM12 27h1v1h-1zM14 29h1v1h-1zM14 31h1v1h-1zM14 32h1v1h-1zM14 33h1v1h-1zM14 34h1v1h-1zM14 35h1v1h-1zM14 36h1v1h-1zM14 37h1v1h-1z"/>
<path fill="#e8662c" d="M35 5h1v1h-1zM36 6h1v1h-1zM3 27h1v1h-1zM11 27h1v1h-1zM14 30h1v1h-1zM14 38h1v1h-1z"/>
<path fill="#e9682a" d="M36 -2h1v1h-1zM36 -1h1v1h-1zM36 0h1v1h-1zM37 1h1v1h-1zM38 3h1v1h-1zM40 4h1v1h-1zM41 5h3v1h-3zM2 27h1v1h-1zM14 39h1v1h-1z"/>
<path fill="#eb6d28" d="M1 27h1v1h-1zM13 28h1v1h-1zM14 40h1v1h-1z"/>
<path fill="#ec6f27" d="M37 -2h1v1h-1zM37 -1h1v1h-1zM37 0h1v1h-1zM38 2h1v1h-1zM39 3h1v1h-1zM41 4h3v1h-3zM33 6h1v1h-1zM35 8h1v1h-1zM6 28h2v1h-2zM13 34h1v1h-1zM13 35h1v1h-1z"/>
<path fill="#ed7226" d="M31 9h1v1h-1zM32 10h1v1h-1zM5 28h1v1h-1zM8 28h2v1h-2zM13 32h1v1h-1zM13 33h1v1h-1zM13 36h1v1h-1z"/>
<path fill="#ee7525" d="M38 1h1v1h-1zM40 3h1v1h-1zM31 8h1v1h-1zM33 10h1v1h-1zM-2 27h3v1h-3zM4 28h1v1h-1zM10 28h1v1h-1zM13 31h1v1h-1zM13 37h1v1h-1zM14 41h1v1h-1zM14 42h1v1h-1zM14 43h1v1h-1z"/>
<path fill="#ef7724" d="M38 -2h1v1h-1zM38 -1h1v1h-1zM38 0h1v1h-1zM41 3h3v1h-3zM3 28h1v1h-1zM11 28h2v1h-2zM6 29h2v1h-2zM13 29h1v1h-1zM13 30h1v1h-1zM12 34h1v1h-1zM12 35h1v1h-1zM13 38h1v1h-1z"/>
<path fill="#f07a23" d="M34 6h2v1h-2zM35 7h1v1h-1zM8 29h1v1h-1zM7 30h2v1h-2zM11 33h2v1h-2zM11 34h1v1h-1z"/>
<path fill="#f17c22" d="M39 2h1v1h-1zM2 28h1v1h-1zM5 29h1v1h-1zM9 29h1v1h-1zM6 30h1v1h-1zM7 31h2v1h-2zM12 32h1v1h-1zM10 33h1v1h-1zM10 34h1v1h-1zM11 35h1v1h-1zM12 36h1v1h-1zM13 39h1v1h-1z"/>
<path fill="#f27f22" d="M4 29h1v1h-1zM9 30h1v1h-1zM6 31h1v1h-1zM11 32h1v1h-1zM10 35h1v1h-1zM12 37h1v1h-1z"/>
<path fill="#f28222" d="M32 7h1v1h-1zM34 9h1v1h-1zM10 29h1v1h-1zM12 29h1v1h-1zM5 30h1v1h-1zM9 31h1v1h-1zM12 31h1v1h-1zM9 32h2v1h-2zM11 36h1v1h-1z"/>
<path fill="#f28522" d="M39 -2h1v1h-1zM39 -1h1v1h-1zM39 0h1v1h-1zM39 1h1v1h-1zM40 2h4v1h-4zM1 28h1v1h-1zM3 29h1v1h-1zM11 29h1v1h-1zM4 30h1v1h-1zM12 30h1v1h-1zM5 31h1v1h-1zM10 31h1v1h-1zM7 32h2v1h-2zM9 33h1v1h-1zM9 34h1v1h-1zM10 36h1v1h-1zM11 37h1v1h-1zM12 38h1v1h-1zM13 40h1v1h-1z"/>
<path fill="#f38822" d="M10 30h1v1h-1zM4 31h1v1h-1zM11 31h1v1h-1zM6 32h1v1h-1zM9 35h1v1h-1zM10 37h1v1h-1z"/>
<path fill="#f48a21" d="M2 29h1v1h-1zM3 30h1v1h-1zM11 30h1v1h-1zM5 32h1v1h-1zM9 36h1v1h-1zM11 38h1v1h-1zM12 39h1v1h-1z"/>
<path fill="#f48d21" d="M3 31h1v1h-1zM4 32h1v1h-1zM8 33h1v1h-1zM9 37h1v1h-1zM10 38h1v1h-1z"/>
<path fill="#f49021" d="M32 9h1v1h-1zM2 30h1v1h-1zM11 39h1v1h-1z"/>
<path fill="#f59321" d="M40 1h1v1h-1zM34 7h1v1h-1zM-2 28h3v1h-3zM2 31h1v1h-1zM3 32h1v1h-1zM7 33h1v1h-1zM8 34h1v1h-1zM9 38h1v1h-1zM10 39h1v1h-1zM13 41h1v1h-1zM13 42h1v1h-1zM13 43h1v1h-1z"/>
<path fill="#f59621" d="M40 -2h1v1h-1zM40 -1h1v1h-1zM40 0h1v1h-1zM41 1h3v1h-3zM33 7h1v1h-1zM34 8h1v1h-1zM1 29h1v1h-1zM6 33h1v1h-1zM8 35h1v1h-1zM12 40h1v1h-1z"/>
<path fill="#f69921" d="M32 8h1v1h-1zM33 9h1v1h-1zM5 33h1v1h-1zM8 36h1v1h-1z"/>
<path fill="#f69c21" d="M1 30h1v1h-1zM2 32h1v1h-1zM4 33h1v1h-1zM8 37h1v1h-1zM9 39h1v1h-1zM11 40h1v1h-1z"/>
<path fill="#f6a020" d="M7 34h1v1h-1z"/>
<path fill="#f6a320" d="M1 31h1v1h-1zM3 33h1v1h-1zM8 38h1v1h-1zM10 40h1v1h-1z"/>
<path fill="#f7a920" d="M41 -2h3v1h-3zM41 -1h3v1h-3zM41 0h3v1h-3zM-2 29h3v1h-3zM12 41h1v1h-1zM12 42h1v1h-1zM12 43h1v1h-1z"/>
<path fill="#f7ac20" d="M33 8h1v1h-1zM1 32h1v1h-1zM9 40h1v1h-1z"/>
<path fill="#f7af22" d="M2 33h1v1h-1zM6 34h1v1h-1zM7 35h1v1h-1zM8 39h1v1h-1z"/>
<path fill="#f7b224" d="M-2 30h3v1h-3zM11 41h1v1h-1zM11 42h1v1h-1zM11 43h1v1h-1z"/>
<path fill="#f6b828" d="M-2 31h3v1h-3zM5 34h1v1h-1zM7 36h1v1h-1zM10 41h1v1h-1zM10 42h1v1h-1zM10 43h1v1h-1z"/>
<path fill="#f6be2c" d="M1 33h1v1h-1zM8 40h1v1h-1z"/>
<path fill="#f6c12e" d="M4 34h1v1h-1zM7 37h1v1h-1z"/>
<path fill="#f6c430" d="M-2 32h3v1h-3zM9 41h1v1h-1zM9 42h1v1h-1zM9 43h1v1h-1z"/>
<path fill="#f6c733" d="M3 34h1v1h-1zM7 38h1v1h-1z"/>
<path fill="#f5ca37" d="M6 35h1v1h-1z"/>
<path fill="#f4cc3b" d="M2 34h1v1h-1zM7 39h1v1h-1z"/>
<path fill="#f4d241" d="M-2 33h3v1h-3zM8 41h1v1h-1zM8 42h1v1h-1zM8 43h1v1h-1z"/>
<path fill="#f3d445" d="M1 34h1v1h-1zM7 40h1v1h-1z"/>
<path fill="#f2da4c" d="M5 35h1v1h-1zM6 36h1v1h-1z"/>
<path fill="#f0e15f" d="M-2 34h3v1h-3zM4 35h1v1h-1zM6 37h1v1h-1zM7 41h1v1h-1zM7 42h1v1h-1zM7 43h1v1h-1z"/>
<path fill="#f0e364" d="M3 35h1v1h-1zM6 38h1v1h-1z"/>
<path fill="#f0e469" d="M2 35h1v1h-1zM6 39h1v1h-1z"/>
<path fill="#efe66d" d="M1 35h1v1h-1zM6 40h1v1h-1z"/>
<path fill="#efe872" d="M5 36h1v1h-1z"/>
<path fill="#f1ea7e" d="M-2 35h3v1h-3zM6 41h1v1h-1zM6 42h1v1h-1zM6 43h1v1h-1z"/>
<path fill="#f2ec89" d="M4 36h1v1h-1zM5 37h1v1h-1z"/>
<path fill="#f3ee8f" d="M1 36h3v1h-3zM5 38h1v1h-1zM5 39h1v1h-1zM5 40h1v1h-1z"/>
<path fill="#f4ef95" d="M-2 36h3v1h-3zM5 41h1v1h-1zM5 42h1v1h-1zM5 43h1v1h-1z"/>
<path fill="#f5f09a" d="M-2 37h4v1h-4zM4 37h1v1h-1zM-2 40h4v1h-4zM4 40h1v1h-1zM1 41h1v1h-1zM4 41h1v1h-1zM1 42h1v1h-1zM4 42h1v1h-1zM1 43h1v1h-1zM4 43h1v1h-1z"/>
<path fill="#f6f1a0" d="M2 37h2v1h-2zM-2 38h7v1h-7zM-2 39h7v1h-7zM2 40h2v1h-2zM-2 41h3v1h-3zM2 41h2v1h-2zM-2 42h3v1h-3zM2 42h2v1h-2zM-2 43h3v1h-3zM2 43h2v1h-2z"/>
</g>
<g mask="url(#mka)">
<rect x="145.86" y="54.3" width="7.82" height="420" fill="url(#bv)" opacity="0.26"/>
<rect x="147.5" y="468.12" width="419.9" height="7.82" fill="url(#bh)" opacity="0.26"/>
<rect x="167.94" y="54.3" width="13.2" height="420" fill="url(#bv)" opacity="0.27"/>
<rect x="147.5" y="440.65" width="419.9" height="13.2" fill="url(#bh)" opacity="0.27"/>
<rect x="180.3" y="54.3" width="14.11" height="420" fill="url(#bv)" opacity="0.40"/>
<rect x="147.5" y="427.38" width="419.9" height="14.11" fill="url(#bh)" opacity="0.40"/>
<rect x="205.56" y="54.3" width="17.37" height="420" fill="url(#bv)" opacity="0.16"/>
<rect x="147.5" y="398.86" width="419.9" height="17.37" fill="url(#bh)" opacity="0.16"/>
<rect x="232.32" y="54.3" width="19.08" height="420" fill="url(#bv)" opacity="0.17"/>
<rect x="147.5" y="370.39" width="419.9" height="19.08" fill="url(#bh)" opacity="0.17"/>
<rect x="261.15" y="54.3" width="7.83" height="420" fill="url(#bv)" opacity="0.16"/>
<rect x="147.5" y="352.78" width="419.9" height="7.83" fill="url(#bh)" opacity="0.16"/>
<rect x="278.14" y="54.3" width="9.68" height="420" fill="url(#bv)" opacity="0.35"/>
<rect x="147.5" y="333.95" width="419.9" height="9.68" fill="url(#bh)" opacity="0.35"/>
<rect x="303.23" y="54.3" width="12.19" height="420" fill="url(#bv)" opacity="0.22"/>
<rect x="147.5" y="306.34" width="419.9" height="12.19" fill="url(#bh)" opacity="0.22"/>
<rect x="319.45" y="54.3" width="8.69" height="420" fill="url(#bv)" opacity="0.34"/>
<rect x="147.5" y="293.62" width="419.9" height="8.69" fill="url(#bh)" opacity="0.34"/>
<rect x="342.31" y="54.3" width="8.31" height="420" fill="url(#bv)" opacity="0.27"/>
<rect x="147.5" y="271.14" width="419.9" height="8.31" fill="url(#bh)" opacity="0.27"/>
<rect x="356.33" y="54.3" width="18.95" height="420" fill="url(#bv)" opacity="0.34"/>
<rect x="147.5" y="246.47" width="419.9" height="18.95" fill="url(#bh)" opacity="0.34"/>
<rect x="381.02" y="54.3" width="14.98" height="420" fill="url(#bv)" opacity="0.41"/>
<rect x="147.5" y="225.74" width="419.9" height="14.98" fill="url(#bh)" opacity="0.41"/>
<rect x="411.63" y="54.3" width="12.1" height="420" fill="url(#bv)" opacity="0.20"/>
<rect x="147.5" y="198" width="419.9" height="12.1" fill="url(#bh)" opacity="0.20"/>
<rect x="439.45" y="54.3" width="8.41" height="420" fill="url(#bv)" opacity="0.23"/>
<rect x="147.5" y="173.86" width="419.9" height="8.41" fill="url(#bh)" opacity="0.23"/>
<rect x="451.51" y="54.3" width="11.85" height="420" fill="url(#bv)" opacity="0.15"/>
<rect x="147.5" y="158.37" width="419.9" height="11.85" fill="url(#bh)" opacity="0.15"/>
<rect x="465.82" y="54.3" width="18.17" height="420" fill="url(#bv)" opacity="0.39"/>
<rect x="147.5" y="137.73" width="419.9" height="18.17" fill="url(#bh)" opacity="0.39"/>
<rect x="493.26" y="54.3" width="15.11" height="420" fill="url(#bv)" opacity="0.31"/>
<rect x="147.5" y="113.35" width="419.9" height="15.11" fill="url(#bh)" opacity="0.31"/>
<rect x="514.57" y="54.3" width="9.83" height="420" fill="url(#bv)" opacity="0.25"/>
<rect x="147.5" y="97.32" width="419.9" height="9.83" fill="url(#bh)" opacity="0.25"/>
<rect x="540.19" y="54.3" width="8.4" height="420" fill="url(#bv)" opacity="0.13"/>
<rect x="147.5" y="73.12" width="419.9" height="8.4" fill="url(#bh)" opacity="0.13"/>
</g>
</g>
<g clip-path="url(#cpa)" stroke-width="3.3" stroke-linecap="square"><line x1="147.5" y1="474.3" x2="567.4" y2="54.3" stroke="#e2282b"/><line x1="147.5" y1="54.3" x2="567.4" y2="474.3" stroke="#fff"/></g>
<path d="M147.5 54.3H567.4V474.3H147.5ZM147.5 474.3v9.4M147.5 54.3v-9.4M147.5 54.3h-9.4M567.4 54.3h9.4M252.47 474.3v9.4M252.47 54.3v-9.4M147.5 159.3h-9.4M567.4 159.3h9.4M357.45 474.3v9.4M357.45 54.3v-9.4M147.5 264.3h-9.4M567.4 264.3h9.4M462.42 474.3v9.4M462.42 54.3v-9.4M147.5 369.3h-9.4M567.4 369.3h9.4M567.4 474.3v9.4M567.4 54.3v-9.4M147.5 474.3h-9.4M567.4 474.3h9.4" fill="none" stroke="#000" stroke-width="2"/>
<text class="t" x="147.5" y="516.8" text-anchor="middle">–5</text>
<text class="t" x="126.9" y="484" text-anchor="end">–5</text>
<text class="t" x="252.47" y="516.8" text-anchor="middle">–2.5</text>
<text class="t" x="126.9" y="379" text-anchor="end">–2.5</text>
<text class="t" x="357.45" y="516.8" text-anchor="middle">0</text>
<text class="t" x="126.9" y="274" text-anchor="end">0</text>
<text class="t" x="462.42" y="516.8" text-anchor="middle">2.5</text>
<text class="t" x="126.9" y="169" text-anchor="end">2.5</text>
<text class="t" x="567.4" y="516.8" text-anchor="middle">5</text>
<text class="t" x="126.9" y="64" text-anchor="end">5</text>
<text class="l" x="357.45" y="555.9" text-anchor="middle">Position <tspan class="i">y</tspan><tspan class="s" dy="8">1</tspan><tspan dy="-8"> (mm)</tspan></text>
<text class="l" transform="translate(47.5,264.3) rotate(-90)" text-anchor="middle">Position <tspan class="i">y</tspan><tspan class="s" dy="8">2</tspan><tspan dy="-8"> (mm)</tspan></text>
<rect x="589" y="54.3" width="16" height="420" fill="url(#cb)" stroke="#000" stroke-width="2"/>
<text class="c" x="617.2" y="62.8">1.2</text>
<text class="c" x="617.2" y="202.8">1.1</text>
<text class="c" x="617.2" y="342.8">1</text>
<text class="c" x="617.2" y="482.8">0.9</text>
<path d="M605 194.3h-10M605 334.3h-10" fill="none" stroke="#000" stroke-width="2"/>
<text class="l i" x="581" y="32.8">g<tspan class="s" dy="8" font-style="normal">2</tspan></text>
<text class="p" x="1.5" y="31.6">a</text>
<g clip-path="url(#cpb)"><g id="hmb" filter="url(#bl)" shape-rendering="crispEdges" transform="translate(809.5,53.9) scale(9.9976,9.9940)">
<path fill="#030305" d="M5 29h4v1h-4zM5 30h4v1h-4zM6 31h3v1h-3zM5 32h3v1h-3zM5 33h2v1h-2zM10 33h3v1h-3zM9 34h4v1h-4zM8 35h5v1h-5zM8 36h2v1h-2zM11 36h2v1h-2z"/>
<path fill="#050508" d="M5 28h3v1h-3zM4 29h1v1h-1zM9 29h1v1h-1zM4 30h1v1h-1zM4 31h2v1h-2zM4 32h1v1h-1zM8 32h1v1h-1zM12 32h1v1h-1zM4 33h1v1h-1zM7 33h1v1h-1zM9 33h1v1h-1zM4 34h5v1h-5zM13 34h1v1h-1zM4 35h4v1h-4zM13 35h1v1h-1zM6 36h2v1h-2zM10 36h1v1h-1zM13 36h1v1h-1zM6 37h7v1h-7z"/>
<path fill="#06060a" d="M4 28h1v1h-1zM8 28h2v1h-2zM3 29h1v1h-1zM3 30h1v1h-1zM9 30h1v1h-1zM9 32h1v1h-1zM11 32h1v1h-1zM13 32h1v1h-1zM8 33h1v1h-1zM13 33h1v1h-1zM3 34h1v1h-1zM3 35h1v1h-1zM4 36h2v1h-2zM5 37h1v1h-1zM13 37h1v1h-1zM6 38h2v1h-2zM11 38h2v1h-2z"/>
<path fill="#08080d" d="M5 27h3v1h-3zM3 28h1v1h-1zM10 29h1v1h-1zM3 31h1v1h-1zM9 31h1v1h-1zM12 31h1v1h-1zM3 32h1v1h-1zM10 32h1v1h-1zM3 33h1v1h-1zM14 34h1v1h-1zM14 35h1v1h-1zM3 36h1v1h-1zM14 36h1v1h-1zM3 37h2v1h-2zM4 38h2v1h-2zM8 38h3v1h-3zM13 38h1v1h-1z"/>
<path fill="#0a0a10" d="M4 27h1v1h-1zM8 27h1v1h-1zM10 28h1v1h-1zM2 29h1v1h-1zM2 30h1v1h-1zM10 30h1v1h-1zM2 31h1v1h-1zM11 31h1v1h-1zM13 31h1v1h-1zM2 32h1v1h-1zM2 33h1v1h-1zM14 33h1v1h-1zM2 34h1v1h-1zM2 35h1v1h-1zM2 36h1v1h-1zM2 37h1v1h-1zM14 37h1v1h-1zM3 38h1v1h-1zM4 39h9v1h-9z"/>
<path fill="#0c0c12" d="M5 26h2v1h-2zM3 27h1v1h-1zM9 27h1v1h-1zM2 28h1v1h-1zM11 30h1v1h-1zM10 31h1v1h-1zM14 32h1v1h-1zM15 35h1v1h-1zM15 36h1v1h-1zM1 37h1v1h-1zM2 38h1v1h-1zM14 38h1v1h-1zM2 39h2v1h-2zM13 39h1v1h-1zM4 40h1v1h-1z"/>
<path fill="#0e0e15" d="M4 26h1v1h-1zM7 26h1v1h-1zM2 27h1v1h-1zM10 27h1v1h-1zM1 28h1v1h-1zM11 28h1v1h-1zM1 29h1v1h-1zM11 29h1v1h-1zM1 30h1v1h-1zM12 30h2v1h-2zM1 31h1v1h-1zM14 31h1v1h-1zM1 32h1v1h-1zM1 33h1v1h-1zM1 34h1v1h-1zM15 34h1v1h-1zM1 35h1v1h-1zM1 36h1v1h-1zM15 37h1v1h-1zM1 38h1v1h-1zM14 39h1v1h-1zM3 40h1v1h-1zM5 40h9v1h-9z"/>
<path fill="#0f0f17" d="M4 25h2v1h-2zM2 26h2v1h-2zM8 26h1v1h-1zM1 27h1v1h-1zM11 27h1v1h-1zM-2 29h3v1h-3zM-2 30h3v1h-3zM14 30h1v1h-1zM-2 31h3v1h-3zM-2 32h3v1h-3zM-2 33h3v1h-3zM15 33h1v1h-1zM-2 34h3v1h-3zM-2 36h3v1h-3zM16 36h1v1h-1zM-2 37h3v1h-3zM16 37h1v1h-1zM-2 38h3v1h-3zM15 38h1v1h-1zM1 39h1v1h-1zM15 39h1v1h-1zM2 40h1v1h-1zM14 40h1v1h-1zM3 41h3v1h-3zM7 41h6v1h-6zM3 42h3v1h-3zM7 42h6v1h-6zM3 43h3v1h-3zM7 43h6v1h-6z"/>
<path fill="#11111a" d="M5 -2h1v1h-1zM5 -1h1v1h-1zM5 0h1v1h-1zM5 1h1v1h-1zM5 2h1v1h-1zM3 25h1v1h-1zM6 25h2v1h-2zM1 26h1v1h-1zM9 26h2v1h-2zM-2 27h3v1h-3zM-2 28h3v1h-3zM12 29h1v1h-1zM15 31h1v1h-1zM15 32h1v1h-1zM16 34h1v1h-1zM-2 35h3v1h-3zM16 35h1v1h-1zM39 36h5v1h-5zM16 38h1v1h-1zM15 40h1v1h-1zM6 41h1v1h-1zM13 41h2v1h-2zM6 42h1v1h-1zM13 42h2v1h-2zM6 43h1v1h-1zM13 43h2v1h-2z"/>
<path fill="#12121d" d="M4 -2h1v1h-1zM4 -1h1v1h-1zM4 0h1v1h-1zM4 1h1v1h-1zM4 2h1v1h-1zM5 3h1v1h-1zM3 24h4v1h-4zM2 25h1v1h-1zM8 25h1v1h-1zM11 26h1v1h-1zM12 27h1v1h-1zM12 28h1v1h-1zM13 29h2v1h-2zM15 30h1v1h-1zM16 33h1v1h-1zM17 35h1v1h-1zM17 36h1v1h-1zM38 36h1v1h-1zM17 37h1v1h-1zM39 37h5v1h-5zM17 38h1v1h-1zM-2 39h3v1h-3zM16 39h1v1h-1zM1 40h1v1h-1zM2 41h1v1h-1zM2 42h1v1h-1zM2 43h1v1h-1z"/>
<path fill="#141220" d="M6 -2h1v1h-1zM6 -1h1v1h-1zM6 0h1v1h-1zM6 1h1v1h-1zM6 2h1v1h-1zM4 3h1v1h-1zM5 4h1v1h-1zM4 23h2v1h-2zM2 24h1v1h-1zM7 24h1v1h-1zM1 25h1v1h-1zM9 25h1v1h-1zM-2 26h3v1h-3zM12 26h1v1h-1zM13 28h1v1h-1zM15 29h1v1h-1zM16 32h1v1h-1zM17 34h1v1h-1zM39 35h5v1h-5zM18 36h1v1h-1zM37 36h1v1h-1zM18 37h1v1h-1zM38 37h1v1h-1zM17 39h1v1h-1zM16 40h1v1h-1zM15 41h1v1h-1zM15 42h1v1h-1zM15 43h1v1h-1z"/>
<path fill="#151322" d="M6 3h1v1h-1zM4 4h1v1h-1zM2 23h2v1h-2zM6 23h2v1h-2zM1 24h1v1h-1zM8 24h2v1h-2zM-2 25h3v1h-3zM10 25h2v1h-2zM16 30h1v1h-1zM16 31h1v1h-1zM17 32h1v1h-1zM17 33h1v1h-1zM18 34h1v1h-1zM18 35h1v1h-1zM38 35h1v1h-1zM37 37h1v1h-1zM18 38h1v1h-1zM18 39h1v1h-1zM-2 40h3v1h-3zM17 40h1v1h-1zM1 41h1v1h-1zM16 41h1v1h-1zM1 42h1v1h-1zM16 42h1v1h-1zM1 43h1v1h-1zM16 43h1v1h-1z"/>
<path fill="#161425" d="M3 -2h1v1h-1zM3 -1h1v1h-1zM3 0h1v1h-1zM3 1h1v1h-1zM6 4h1v1h-1zM4 5h2v1h-2zM5 22h1v1h-1zM1 23h1v1h-1zM8 23h1v1h-1zM10 24h1v1h-1zM12 25h1v1h-1zM13 26h1v1h-1zM13 27h1v1h-1zM14 28h2v1h-2zM16 29h1v1h-1zM17 31h1v1h-1zM18 33h1v1h-1zM37 35h1v1h-1zM19 36h1v1h-1zM36 36h1v1h-1zM36 37h1v1h-1zM40 38h4v1h-4zM18 40h1v1h-1z"/>
<path fill="#171428" d="M7 -2h1v1h-1zM7 -1h1v1h-1zM7 0h1v1h-1zM7 1h1v1h-1zM3 2h1v1h-1zM7 2h1v1h-1zM3 3h1v1h-1zM3 22h2v1h-2zM6 22h1v1h-1zM9 23h1v1h-1zM-2 24h3v1h-3zM11 24h1v1h-1zM13 25h1v1h-1zM16 28h1v1h-1zM17 30h1v1h-1zM18 32h1v1h-1zM39 34h5v1h-5zM19 35h1v1h-1zM19 37h1v1h-1zM19 38h1v1h-1zM38 38h2v1h-2zM17 41h1v1h-1zM17 42h1v1h-1zM17 43h1v1h-1z"/>
<path fill="#18152a" d="M7 3h1v1h-1zM3 4h1v1h-1zM6 5h1v1h-1zM4 6h1v1h-1zM7 22h1v1h-1zM-2 23h3v1h-3zM10 23h2v1h-2zM12 24h1v1h-1zM14 27h1v1h-1zM17 29h1v1h-1zM18 30h1v1h-1zM18 31h1v1h-1zM19 34h1v1h-1zM38 34h1v1h-1zM36 35h1v1h-1zM35 37h1v1h-1zM37 38h1v1h-1zM18 41h1v1h-1zM18 42h1v1h-1zM18 43h1v1h-1z"/>
<path fill="#1a152d" d="M7 4h1v1h-1zM3 5h1v1h-1zM5 6h1v1h-1zM4 21h2v1h-2zM2 22h1v1h-1zM8 22h1v1h-1zM12 23h1v1h-1zM13 24h1v1h-1zM14 25h1v1h-1zM14 26h1v1h-1zM15 27h2v1h-2zM17 28h1v1h-1zM18 29h1v1h-1zM19 33h1v1h-1zM37 34h1v1h-1zM20 36h1v1h-1zM35 36h1v1h-1zM20 37h1v1h-1zM36 38h1v1h-1zM19 39h1v1h-1zM-2 41h3v1h-3zM-2 42h3v1h-3zM-2 43h3v1h-3z"/>
<path fill="#1b1630" d="M8 -2h1v1h-1zM8 -1h1v1h-1zM8 0h1v1h-1zM8 1h1v1h-1zM8 2h1v1h-1zM6 21h1v1h-1zM1 22h1v1h-1zM9 22h2v1h-2zM13 23h1v1h-1zM14 24h1v1h-1zM17 27h1v1h-1zM18 28h1v1h-1zM19 31h1v1h-1zM19 32h1v1h-1zM39 33h5v1h-5zM20 35h1v1h-1zM19 40h1v1h-1z"/>
<path fill="#1d1735" d="M8 3h1v1h-1zM3 6h1v1h-1zM6 6h1v1h-1zM4 7h2v1h-2zM4 20h2v1h-2zM3 21h1v1h-1zM7 21h1v1h-1zM-2 22h3v1h-3zM11 22h2v1h-2zM15 26h1v1h-1zM19 29h1v1h-1zM19 30h1v1h-1zM38 33h1v1h-1zM20 34h1v1h-1zM35 35h1v1h-1zM21 36h1v1h-1zM34 36h1v1h-1zM21 37h1v1h-1zM34 37h1v1h-1zM20 38h1v1h-1zM35 38h1v1h-1zM19 41h1v1h-1zM19 42h1v1h-1zM19 43h1v1h-1z"/>
<path fill="#1f183a" d="M2 -2h1v1h-1zM9 -2h1v1h-1zM2 -1h1v1h-1zM9 -1h1v1h-1zM2 0h1v1h-1zM9 0h1v1h-1zM2 1h1v1h-1zM2 2h1v1h-1zM8 4h1v1h-1zM7 5h1v1h-1zM4 19h2v1h-2zM6 20h1v1h-1zM8 21h1v1h-1zM14 23h1v1h-1zM15 25h1v1h-1zM16 26h1v1h-1zM18 27h1v1h-1zM41 32h3v1h-3zM20 33h1v1h-1zM37 33h1v1h-1zM36 34h1v1h-1zM21 35h1v1h-1zM22 36h1v1h-1zM22 37h1v1h-1zM39 39h5v1h-5z"/>
<path fill="#21183f" d="M9 1h1v1h-1zM9 2h1v1h-1zM2 3h1v1h-1zM3 7h1v1h-1zM4 8h1v1h-1zM5 17h1v1h-1zM4 18h2v1h-2zM6 19h1v1h-1zM3 20h1v1h-1zM2 21h1v1h-1zM9 21h1v1h-1zM13 22h1v1h-1zM15 24h1v1h-1zM17 26h1v1h-1zM19 28h1v1h-1zM20 32h1v1h-1zM39 32h2v1h-2zM22 35h1v1h-1zM23 36h2v1h-2zM23 37h1v1h-1zM33 37h1v1h-1zM21 38h1v1h-1zM34 38h1v1h-1zM20 39h1v1h-1zM38 39h1v1h-1z"/>
<path fill="#241944" d="M10 -2h1v1h-1zM10 -1h1v1h-1zM10 0h1v1h-1zM10 1h1v1h-1zM9 3h1v1h-1zM2 4h1v1h-1zM7 6h1v1h-1zM6 7h1v1h-1zM5 8h1v1h-1zM4 9h1v1h-1zM4 12h1v1h-1zM4 13h1v1h-1zM4 14h1v1h-1zM4 16h2v1h-2zM4 17h1v1h-1zM6 18h1v1h-1zM3 19h1v1h-1zM7 20h1v1h-1zM10 21h3v1h-3zM14 22h1v1h-1zM15 23h1v1h-1zM18 26h1v1h-1zM19 27h1v1h-1zM20 29h1v1h-1zM20 30h1v1h-1zM20 31h1v1h-1zM40 31h4v1h-4zM38 32h1v1h-1zM21 34h1v1h-1zM35 34h1v1h-1zM23 35h1v1h-1zM34 35h1v1h-1zM25 36h1v1h-1zM33 36h1v1h-1zM24 37h2v1h-2zM27 37h3v1h-3zM32 37h1v1h-1zM22 38h1v1h-1zM37 39h1v1h-1z"/>
<path fill="#261a49" d="M11 -2h1v1h-1zM11 -1h1v1h-1zM11 0h1v1h-1zM11 1h1v1h-1zM10 2h1v1h-1zM9 4h1v1h-1zM2 5h1v1h-1zM8 5h1v1h-1zM3 8h1v1h-1zM6 8h1v1h-1zM5 9h1v1h-1zM4 10h2v1h-2zM4 11h2v1h-2zM5 12h1v1h-1zM5 13h1v1h-1zM5 14h1v1h-1zM4 15h2v1h-2zM6 16h1v1h-1zM6 17h1v1h-1zM3 18h1v1h-1zM7 19h1v1h-1zM1 21h1v1h-1zM13 21h1v1h-1zM16 25h1v1h-1zM20 28h1v1h-1zM40 30h4v1h-4zM39 31h1v1h-1zM37 32h1v1h-1zM36 33h1v1h-1zM22 34h1v1h-1zM24 35h2v1h-2zM33 35h1v1h-1zM26 36h7v1h-7zM26 37h1v1h-1zM30 37h2v1h-2zM23 38h1v1h-1zM33 38h1v1h-1zM36 39h1v1h-1zM20 40h1v1h-1z"/>
<path fill="#281a4e" d="M12 -2h1v1h-1zM12 -1h1v1h-1zM12 0h1v1h-1zM12 1h1v1h-1zM11 2h1v1h-1zM10 3h1v1h-1zM2 6h1v1h-1zM7 7h1v1h-1zM3 9h1v1h-1zM6 9h1v1h-1zM3 10h1v1h-1zM6 15h1v1h-1zM3 17h1v1h-1zM7 18h1v1h-1zM2 20h1v1h-1zM8 20h1v1h-1zM-2 21h3v1h-3zM15 22h1v1h-1zM16 24h1v1h-1zM17 25h1v1h-1zM19 26h1v1h-1zM40 29h4v1h-4zM39 30h1v1h-1zM38 31h1v1h-1zM21 33h1v1h-1zM23 34h1v1h-1zM34 34h1v1h-1zM26 35h1v1h-1zM32 35h1v1h-1zM24 38h1v1h-1zM31 38h2v1h-2zM21 39h1v1h-1zM35 39h1v1h-1zM20 41h1v1h-1zM20 42h1v1h-1zM20 43h1v1h-1z"/>
<path fill="#2a1b53" d="M13 -2h1v1h-1zM13 -1h1v1h-1zM13 0h1v1h-1zM13 1h1v1h-1zM12 2h1v1h-1zM11 3h2v1h-2zM10 4h1v1h-1zM9 5h1v1h-1zM8 6h1v1h-1zM2 7h1v1h-1zM6 10h1v1h-1zM3 11h1v1h-1zM6 11h1v1h-1zM3 12h1v1h-1zM6 12h1v1h-1zM3 13h1v1h-1zM6 13h1v1h-1zM3 14h1v1h-1zM6 14h1v1h-1zM3 15h1v1h-1zM3 16h1v1h-1zM7 17h1v1h-1zM8 19h1v1h-1zM9 20h4v1h-4zM14 21h1v1h-1zM16 23h1v1h-1zM18 25h1v1h-1zM20 27h1v1h-1zM40 28h4v1h-4zM21 29h1v1h-1zM38 29h2v1h-2zM21 30h1v1h-1zM38 30h1v1h-1zM21 31h1v1h-1zM37 31h1v1h-1zM21 32h1v1h-1zM36 32h1v1h-1zM22 33h1v1h-1zM35 33h1v1h-1zM24 34h1v1h-1zM27 35h5v1h-5zM25 38h6v1h-6zM34 39h1v1h-1z"/>
<path fill="#2c1c58" d="M1 -2h1v1h-1zM1 -1h1v1h-1zM1 0h1v1h-1zM1 1h1v1h-1zM13 2h1v1h-1zM11 4h2v1h-2zM10 5h1v1h-1zM7 8h1v1h-1zM7 16h1v1h-1zM2 18h1v1h-1zM2 19h1v1h-1zM13 20h1v1h-1zM16 22h1v1h-1zM19 25h1v1h-1zM21 28h1v1h-1zM39 28h1v1h-1zM37 29h1v1h-1zM37 30h1v1h-1zM36 31h1v1h-1zM25 34h1v1h-1zM33 34h1v1h-1zM22 39h2v1h-2zM40 40h4v1h-4z"/>
<path fill="#2f1d5a" d="M14 -2h1v1h-1zM14 -1h1v1h-1zM14 0h1v1h-1zM14 1h1v1h-1zM1 2h1v1h-1zM14 2h1v1h-1zM13 3h1v1h-1zM13 4h1v1h-1zM11 5h2v1h-2zM9 6h1v1h-1zM8 7h1v1h-1zM2 8h1v1h-1zM7 9h1v1h-1zM7 10h1v1h-1zM7 11h1v1h-1zM7 12h1v1h-1zM7 13h1v1h-1zM7 14h1v1h-1zM7 15h1v1h-1zM2 17h1v1h-1zM8 17h1v1h-1zM8 18h1v1h-1zM9 19h5v1h-5zM1 20h1v1h-1zM14 20h1v1h-1zM15 21h1v1h-1zM17 24h1v1h-1zM20 26h1v1h-1zM21 27h1v1h-1zM39 27h5v1h-5zM22 28h1v1h-1zM37 28h2v1h-2zM22 29h1v1h-1zM36 29h1v1h-1zM22 30h1v1h-1zM36 30h1v1h-1zM22 31h1v1h-1zM22 32h1v1h-1zM35 32h1v1h-1zM23 33h2v1h-2zM34 33h1v1h-1zM26 34h7v1h-7zM24 39h1v1h-1zM33 39h1v1h-1zM21 40h1v1h-1zM39 40h1v1h-1z"/>
<path fill="#321d5c" d="M1 3h1v1h-1zM14 3h1v1h-1zM13 5h1v1h-1zM10 6h3v1h-3zM9 7h1v1h-1zM8 8h1v1h-1zM2 9h1v1h-1zM2 16h1v1h-1zM8 16h1v1h-1zM9 17h1v1h-1zM9 18h5v1h-5zM14 19h1v1h-1zM17 23h1v1h-1zM18 24h1v1h-1zM22 27h1v1h-1zM38 27h1v1h-1zM23 28h1v1h-1zM36 28h1v1h-1zM23 29h1v1h-1zM35 29h1v1h-1zM23 30h1v1h-1zM35 30h1v1h-1zM23 31h1v1h-1zM35 31h1v1h-1zM23 32h2v1h-2zM34 32h1v1h-1zM25 33h1v1h-1zM33 33h1v1h-1zM25 39h1v1h-1zM32 39h1v1h-1zM38 40h1v1h-1z"/>
<path fill="#341e5f" d="M15 -2h1v1h-1zM15 -1h1v1h-1zM15 0h1v1h-1zM15 1h1v1h-1zM1 4h1v1h-1zM14 4h1v1h-1zM1 5h1v1h-1zM13 6h1v1h-1zM10 7h3v1h-3zM9 8h4v1h-4zM8 9h1v1h-1zM12 9h1v1h-1zM2 10h1v1h-1zM8 10h1v1h-1zM12 10h1v1h-1zM2 11h1v1h-1zM8 11h1v1h-1zM12 11h1v1h-1zM2 12h1v1h-1zM8 12h1v1h-1zM12 12h1v1h-1zM2 13h1v1h-1zM8 13h1v1h-1zM12 13h1v1h-1zM2 14h1v1h-1zM8 14h1v1h-1zM12 14h1v1h-1zM2 15h1v1h-1zM8 15h1v1h-1zM12 15h1v1h-1zM9 16h4v1h-4zM10 17h4v1h-4zM14 18h1v1h-1zM1 19h1v1h-1zM-2 20h3v1h-3zM15 20h1v1h-1zM16 21h1v1h-1zM20 25h1v1h-1zM21 26h1v1h-1zM40 26h4v1h-4zM23 27h1v1h-1zM37 27h1v1h-1zM24 28h1v1h-1zM35 28h1v1h-1zM24 29h11v1h-11zM24 30h2v1h-2zM33 30h2v1h-2zM24 31h2v1h-2zM33 31h2v1h-2zM25 32h1v1h-1zM33 32h1v1h-1zM26 33h7v1h-7zM26 39h6v1h-6zM22 40h1v1h-1zM36 40h2v1h-2zM21 41h1v1h-1zM21 42h1v1h-1zM21 43h1v1h-1z"/>
<path fill="#371e61" d="M15 2h1v1h-1zM15 3h1v1h-1zM14 5h1v1h-1zM13 7h1v1h-1zM13 8h1v1h-1zM9 9h3v1h-3zM13 9h1v1h-1zM11 10h1v1h-1zM13 10h1v1h-1zM11 11h1v1h-1zM13 11h1v1h-1zM11 12h1v1h-1zM13 12h1v1h-1zM11 13h1v1h-1zM13 13h1v1h-1zM11 14h1v1h-1zM13 14h1v1h-1zM9 15h3v1h-3zM13 15h1v1h-1zM13 16h1v1h-1zM14 17h1v1h-1zM1 18h1v1h-1zM15 19h1v1h-1zM17 22h1v1h-1zM19 24h1v1h-1zM22 26h1v1h-1zM38 26h2v1h-2zM24 27h1v1h-1zM36 27h1v1h-1zM25 28h10v1h-10zM26 30h7v1h-7zM26 31h1v1h-1zM32 31h1v1h-1zM26 32h1v1h-1zM32 32h1v1h-1zM23 40h1v1h-1z"/>
<path fill="#3a1f63" d="M15 4h1v1h-1zM1 6h1v1h-1zM14 6h1v1h-1zM14 7h1v1h-1zM9 10h2v1h-2zM9 11h2v1h-2zM9 12h2v1h-2zM9 13h2v1h-2zM9 14h2v1h-2zM14 16h1v1h-1zM1 17h1v1h-1zM15 18h1v1h-1zM16 20h1v1h-1zM18 23h1v1h-1zM21 25h1v1h-1zM23 26h1v1h-1zM37 26h1v1h-1zM25 27h1v1h-1zM34 27h2v1h-2zM27 31h5v1h-5zM27 32h5v1h-5zM24 40h1v1h-1zM35 40h1v1h-1z"/>
<path fill="#3c2066" d="M-2 -2h3v1h-3zM-2 -1h3v1h-3zM-2 0h3v1h-3zM-2 1h3v1h-3zM16 1h1v1h-1zM-2 2h3v1h-3zM15 5h1v1h-1zM1 7h1v1h-1zM14 8h1v1h-1zM14 9h1v1h-1zM14 10h1v1h-1zM14 11h1v1h-1zM14 12h1v1h-1zM14 13h1v1h-1zM14 14h1v1h-1zM14 15h1v1h-1zM1 16h1v1h-1zM15 16h1v1h-1zM15 17h1v1h-1zM-2 19h3v1h-3zM17 21h1v1h-1zM20 24h1v1h-1zM40 25h1v1h-1zM24 26h2v1h-2zM36 26h1v1h-1zM26 27h8v1h-8zM25 40h1v1h-1zM34 40h1v1h-1zM22 41h1v1h-1zM39 41h5v1h-5zM22 42h1v1h-1zM39 42h5v1h-5zM22 43h1v1h-1zM39 43h5v1h-5z"/>
<path fill="#3f2068" d="M16 -2h1v1h-1zM16 -1h1v1h-1zM16 0h1v1h-1zM16 2h1v1h-1zM-2 3h3v1h-3zM15 6h1v1h-1zM1 8h1v1h-1zM1 15h1v1h-1zM15 15h1v1h-1zM16 18h1v1h-1zM16 19h1v1h-1zM22 25h2v1h-2zM39 25h1v1h-1zM41 25h3v1h-3zM26 26h1v1h-1zM35 26h1v1h-1zM26 40h1v1h-1zM33 40h1v1h-1zM38 41h1v1h-1zM38 42h1v1h-1zM38 43h1v1h-1z"/>
<path fill="#42216a" d="M16 3h1v1h-1zM-2 4h3v1h-3zM15 7h1v1h-1zM15 8h1v1h-1zM1 9h1v1h-1zM15 9h1v1h-1zM15 10h1v1h-1zM1 11h1v1h-1zM15 11h1v1h-1zM1 12h1v1h-1zM15 12h1v1h-1zM1 13h1v1h-1zM15 13h1v1h-1zM1 14h1v1h-1zM15 14h1v1h-1zM16 17h1v1h-1zM-2 18h3v1h-3zM17 20h1v1h-1zM18 22h1v1h-1zM19 23h1v1h-1zM21 24h1v1h-1zM24 25h1v1h-1zM38 25h1v1h-1zM27 26h8v1h-8zM27 40h4v1h-4zM32 40h1v1h-1zM23 41h1v1h-1zM37 41h1v1h-1zM23 42h1v1h-1zM37 42h1v1h-1zM23 43h1v1h-1zM37 43h1v1h-1z"/>
<path fill="#44216a" d="M16 4h1v1h-1zM16 5h1v1h-1zM1 10h1v1h-1zM16 16h1v1h-1zM-2 17h3v1h-3zM25 25h1v1h-1zM36 25h2v1h-2zM31 40h1v1h-1zM24 41h1v1h-1zM24 42h1v1h-1zM24 43h1v1h-1z"/>
<path fill="#47216b" d="M-2 5h3v1h-3zM16 6h1v1h-1zM16 14h1v1h-1zM16 15h1v1h-1zM-2 16h3v1h-3zM17 19h1v1h-1zM18 21h1v1h-1zM20 23h1v1h-1zM22 24h1v1h-1zM26 25h2v1h-2zM35 25h1v1h-1zM25 41h1v1h-1zM36 41h1v1h-1zM25 42h1v1h-1zM36 42h1v1h-1zM25 43h1v1h-1zM36 43h1v1h-1z"/>
<path fill="#4a216c" d="M17 -2h1v1h-1zM17 -1h1v1h-1zM17 0h1v1h-1zM17 1h1v1h-1zM16 7h1v1h-1zM16 13h1v1h-1zM-2 15h3v1h-3zM17 18h1v1h-1zM23 24h1v1h-1zM40 24h4v1h-4zM28 25h1v1h-1zM34 25h1v1h-1zM26 41h1v1h-1zM26 42h1v1h-1zM26 43h1v1h-1z"/>
<path fill="#4c226c" d="M17 2h1v1h-1zM-2 6h3v1h-3zM16 8h1v1h-1zM16 9h1v1h-1zM16 10h1v1h-1zM16 11h1v1h-1zM16 12h1v1h-1zM-2 14h3v1h-3zM17 17h1v1h-1zM18 20h1v1h-1zM19 22h1v1h-1zM21 23h1v1h-1zM24 24h1v1h-1zM39 24h1v1h-1zM29 25h5v1h-5zM27 41h1v1h-1zM35 41h1v1h-1zM27 42h1v1h-1zM35 42h1v1h-1zM27 43h1v1h-1zM35 43h1v1h-1z"/>
<path fill="#4e226c" d="M17 3h1v1h-1zM-2 13h3v1h-3zM17 16h1v1h-1zM25 24h1v1h-1zM38 24h1v1h-1zM28 41h1v1h-1zM28 42h1v1h-1zM28 43h1v1h-1z"/>
<path fill="#51226d" d="M17 4h1v1h-1zM17 5h1v1h-1zM-2 7h3v1h-3zM-2 12h3v1h-3zM17 15h1v1h-1zM18 19h1v1h-1zM22 23h1v1h-1zM26 24h1v1h-1zM36 24h2v1h-2zM29 41h1v1h-1zM34 41h1v1h-1zM29 42h1v1h-1zM34 42h1v1h-1zM29 43h1v1h-1zM34 43h1v1h-1z"/>
<path fill="#54226e" d="M17 6h1v1h-1zM-2 8h3v1h-3zM-2 10h3v1h-3zM-2 11h3v1h-3zM17 13h1v1h-1zM17 14h1v1h-1zM19 21h1v1h-1zM20 22h1v1h-1zM27 24h2v1h-2zM35 24h1v1h-1zM30 41h2v1h-2zM33 41h1v1h-1zM30 42h2v1h-2zM33 42h1v1h-1zM30 43h2v1h-2zM33 43h1v1h-1z"/>
<path fill="#56226e" d="M17 7h1v1h-1zM-2 9h3v1h-3zM17 10h1v1h-1zM17 11h1v1h-1zM17 12h1v1h-1zM18 18h1v1h-1zM23 23h1v1h-1zM29 24h3v1h-3zM34 24h1v1h-1zM32 41h1v1h-1zM32 42h1v1h-1zM32 43h1v1h-1z"/>
<path fill="#58226e" d="M17 8h1v1h-1zM17 9h1v1h-1zM18 17h1v1h-1zM24 23h1v1h-1zM32 24h2v1h-2z"/>
<path fill="#5b226e" d="M18 -2h1v1h-1zM18 -1h1v1h-1zM18 0h1v1h-1zM18 1h1v1h-1zM18 16h1v1h-1zM19 20h1v1h-1zM21 22h1v1h-1zM25 23h1v1h-1zM40 23h4v1h-4z"/>
<path fill="#5e226e" d="M18 2h1v1h-1zM39 23h1v1h-1z"/>
<path fill="#60226e" d="M18 3h1v1h-1zM18 15h1v1h-1zM19 19h1v1h-1zM20 21h1v1h-1zM22 22h1v1h-1zM26 23h1v1h-1zM38 23h1v1h-1z"/>
<path fill="#62226e" d="M18 4h1v1h-1zM18 5h1v1h-1zM18 14h1v1h-1zM27 23h1v1h-1zM36 23h2v1h-2z"/>
<path fill="#65226e" d="M18 6h1v1h-1zM18 12h1v1h-1zM18 13h1v1h-1zM28 23h2v1h-2zM35 23h1v1h-1z"/>
<path fill="#68226e" d="M18 7h1v1h-1zM18 11h1v1h-1zM19 18h1v1h-1zM23 22h1v1h-1zM30 23h1v1h-1zM34 23h1v1h-1z"/>
<path fill="#6a226e" d="M18 8h1v1h-1zM18 9h1v1h-1zM18 10h1v1h-1zM31 23h3v1h-3z"/>
<path fill="#6d226e" d="M19 17h1v1h-1zM20 20h1v1h-1zM21 21h1v1h-1zM24 22h1v1h-1z"/>
<path fill="#6f226e" d="M19 16h1v1h-1zM25 22h1v1h-1z"/>
<path fill="#72226d" d="M19 -2h1v1h-1zM19 -1h1v1h-1zM19 0h1v1h-1zM41 22h3v1h-3z"/>
<path fill="#74226d" d="M19 1h1v1h-1zM19 15h1v1h-1zM20 19h1v1h-1zM22 21h1v1h-1zM26 22h1v1h-1zM40 22h1v1h-1z"/>
<path fill="#76216d" d="M19 2h1v1h-1zM19 3h1v1h-1zM19 14h1v1h-1zM27 22h1v1h-1zM38 22h2v1h-2z"/>
<path fill="#79216c" d="M19 4h1v1h-1zM19 13h1v1h-1zM28 22h1v1h-1zM37 22h1v1h-1z"/>
<path fill="#7c216c" d="M19 5h1v1h-1zM19 12h1v1h-1zM20 18h1v1h-1zM21 20h1v1h-1zM23 21h1v1h-1zM29 22h1v1h-1zM36 22h1v1h-1z"/>
<path fill="#7e216c" d="M19 6h1v1h-1zM19 11h1v1h-1zM30 22h1v1h-1zM35 22h1v1h-1z"/>
<path fill="#80216c" d="M19 7h1v1h-1zM19 8h1v1h-1zM19 10h1v1h-1zM20 17h1v1h-1zM24 21h1v1h-1zM31 22h1v1h-1zM33 22h2v1h-2z"/>
<path fill="#83226b" d="M19 9h1v1h-1zM32 22h1v1h-1z"/>
<path fill="#86226a" d="M20 16h1v1h-1zM21 19h1v1h-1zM22 20h1v1h-1zM25 21h1v1h-1z"/>
<path fill="#8a236a" d="M20 -2h1v1h-1zM20 -1h1v1h-1zM20 0h1v1h-1zM20 15h1v1h-1zM26 21h1v1h-1zM41 21h3v1h-3z"/>
<path fill="#8d2369" d="M20 1h1v1h-1zM21 18h1v1h-1zM23 20h1v1h-1zM40 21h1v1h-1z"/>
<path fill="#902468" d="M20 2h1v1h-1zM20 14h1v1h-1zM27 21h1v1h-1zM39 21h1v1h-1z"/>
<path fill="#922468" d="M20 3h1v1h-1zM20 13h1v1h-1zM21 17h1v1h-1zM22 19h1v1h-1zM24 20h1v1h-1zM28 21h1v1h-1zM38 21h1v1h-1z"/>
<path fill="#952567" d="M20 4h1v1h-1zM20 12h1v1h-1zM29 21h1v1h-1zM37 21h1v1h-1z"/>
<path fill="#972666" d="M20 5h1v1h-1zM36 21h1v1h-1z"/>
<path fill="#9a2765" d="M20 6h1v1h-1zM20 7h1v1h-1zM20 11h1v1h-1zM21 16h1v1h-1zM25 20h1v1h-1zM30 21h1v1h-1zM34 21h2v1h-2z"/>
<path fill="#9c2864" d="M20 8h1v1h-1zM20 9h1v1h-1zM20 10h1v1h-1zM22 18h1v1h-1zM23 19h1v1h-1zM31 21h3v1h-3z"/>
<path fill="#9f2963" d="M21 15h1v1h-1zM26 20h1v1h-1z"/>
<path fill="#a22a62" d="M21 -2h1v1h-1zM21 -1h1v1h-1zM21 0h1v1h-1zM22 17h1v1h-1zM24 19h1v1h-1zM41 20h3v1h-3z"/>
<path fill="#a42b61" d="M21 1h1v1h-1zM21 2h1v1h-1zM21 14h1v1h-1zM27 20h1v1h-1zM39 20h2v1h-2z"/>
<path fill="#a72c60" d="M21 3h1v1h-1zM21 13h1v1h-1zM23 18h1v1h-1zM28 20h1v1h-1zM38 20h1v1h-1z"/>
<path fill="#aa2d5f" d="M21 4h1v1h-1zM21 12h1v1h-1zM22 16h1v1h-1zM25 19h1v1h-1zM29 20h1v1h-1zM37 20h1v1h-1z"/>
<path fill="#ac2f5e" d="M21 5h1v1h-1zM36 20h1v1h-1z"/>
<path fill="#ae305c" d="M21 6h1v1h-1zM21 7h1v1h-1zM21 8h1v1h-1zM21 10h1v1h-1zM21 11h1v1h-1zM22 15h1v1h-1zM23 17h1v1h-1zM24 18h1v1h-1zM26 19h1v1h-1zM30 20h2v1h-2zM33 20h3v1h-3z"/>
<path fill="#b1325b" d="M21 9h1v1h-1zM32 20h1v1h-1z"/>
<path fill="#b4345a" d="M22 -2h1v1h-1zM22 -1h1v1h-1zM22 0h1v1h-1zM22 1h1v1h-1zM22 2h1v1h-1zM22 14h1v1h-1zM27 19h1v1h-1zM39 19h5v1h-5z"/>
<path fill="#b63558" d="M22 3h1v1h-1zM22 13h1v1h-1zM23 16h1v1h-1zM25 18h1v1h-1zM28 19h1v1h-1zM38 19h1v1h-1z"/>
<path fill="#b83757" d="M22 4h1v1h-1zM22 12h1v1h-1zM29 19h1v1h-1zM37 19h1v1h-1z"/>
<path fill="#bb3856" d="M22 5h1v1h-1zM22 6h1v1h-1zM22 11h1v1h-1zM24 17h1v1h-1zM30 19h1v1h-1zM35 19h2v1h-2z"/>
<path fill="#bd3a54" d="M22 7h1v1h-1zM22 8h1v1h-1zM22 9h1v1h-1zM22 10h1v1h-1zM23 15h1v1h-1zM26 18h1v1h-1zM31 19h4v1h-4z"/>
<path fill="#bf3b53" d="M23 -2h1v1h-1zM23 -1h1v1h-1zM23 0h1v1h-1zM23 1h1v1h-1zM23 2h1v1h-1zM23 14h1v1h-1zM27 18h1v1h-1zM39 18h5v1h-5z"/>
<path fill="#c23d51" d="M23 3h1v1h-1zM23 13h1v1h-1zM28 18h1v1h-1zM38 18h1v1h-1z"/>
<path fill="#c43e4f" d="M23 4h1v1h-1zM23 11h1v1h-1zM23 12h1v1h-1zM24 16h1v1h-1zM25 17h1v1h-1zM29 18h2v1h-2zM37 18h1v1h-1z"/>
<path fill="#c6404d" d="M23 5h1v1h-1zM23 6h1v1h-1zM23 7h1v1h-1zM23 8h1v1h-1zM23 9h1v1h-1zM23 10h1v1h-1zM31 18h6v1h-6z"/>
<path fill="#c8424c" d="M24 15h1v1h-1zM26 17h1v1h-1z"/>
<path fill="#cb434a" d="M24 -2h1v1h-1zM24 -1h1v1h-1zM24 0h1v1h-1zM24 1h1v1h-1zM40 17h4v1h-4z"/>
<path fill="#cd4548" d="M24 2h1v1h-1zM24 3h1v1h-1zM24 13h1v1h-1zM24 14h1v1h-1zM27 17h2v1h-2zM38 17h2v1h-2z"/>
<path fill="#cf4746" d="M24 4h1v1h-1zM24 12h1v1h-1zM25 16h1v1h-1zM29 17h1v1h-1zM37 17h1v1h-1z"/>
<path fill="#d14945" d="M24 5h1v1h-1zM24 8h1v1h-1zM24 10h1v1h-1zM24 11h1v1h-1zM30 17h2v1h-2zM33 17h1v1h-1zM36 17h1v1h-1z"/>
<path fill="#d34b43" d="M24 6h1v1h-1zM24 7h1v1h-1zM24 9h1v1h-1zM25 15h1v1h-1zM26 16h1v1h-1zM32 17h1v1h-1zM34 17h2v1h-2z"/>
<path fill="#d74e3f" d="M25 -2h1v1h-1zM25 -1h1v1h-1zM25 0h1v1h-1zM25 1h1v1h-1zM25 2h1v1h-1zM25 14h1v1h-1zM27 16h1v1h-1zM39 16h5v1h-5z"/>
<path fill="#d9503d" d="M25 3h1v1h-1zM25 13h1v1h-1zM28 16h1v1h-1zM38 16h1v1h-1z"/>
<path fill="#db523c" d="M25 4h1v1h-1zM25 11h1v1h-1zM25 12h1v1h-1zM29 16h2v1h-2zM37 16h1v1h-1z"/>
<path fill="#dd543a" d="M25 5h1v1h-1zM25 6h1v1h-1zM25 7h1v1h-1zM25 8h1v1h-1zM25 9h1v1h-1zM25 10h1v1h-1zM26 15h1v1h-1zM31 16h6v1h-6z"/>
<path fill="#e05936" d="M26 14h1v1h-1zM27 15h1v1h-1z"/>
<path fill="#e25c34" d="M26 -2h1v1h-1zM26 -1h1v1h-1zM26 0h1v1h-1zM26 1h1v1h-1zM26 2h1v1h-1zM26 3h1v1h-1zM26 13h1v1h-1zM28 15h1v1h-1zM38 15h6v1h-6z"/>
<path fill="#e35e32" d="M26 4h1v1h-1zM26 12h1v1h-1zM29 15h1v1h-1zM37 15h1v1h-1z"/>
<path fill="#e46030" d="M26 5h1v1h-1zM26 11h1v1h-1zM30 15h1v1h-1zM36 15h1v1h-1z"/>
<path fill="#e6632e" d="M26 6h1v1h-1zM26 7h1v1h-1zM26 8h1v1h-1zM26 9h1v1h-1zM26 10h1v1h-1zM27 14h1v1h-1zM31 15h5v1h-5z"/>
<path fill="#e9682a" d="M27 13h1v1h-1zM28 14h1v1h-1z"/>
<path fill="#ea6a29" d="M27 -2h1v1h-1zM27 -1h1v1h-1zM27 0h1v1h-1zM27 1h1v1h-1zM27 2h1v1h-1zM27 3h1v1h-1zM27 4h1v1h-1zM27 12h1v1h-1zM29 14h1v1h-1zM37 14h7v1h-7z"/>
<path fill="#eb6d28" d="M27 5h1v1h-1zM27 11h1v1h-1zM30 14h1v1h-1zM36 14h1v1h-1z"/>
<path fill="#ec6f27" d="M27 6h1v1h-1zM27 7h1v1h-1zM27 8h1v1h-1zM27 9h1v1h-1zM27 10h1v1h-1zM28 13h1v1h-1zM31 14h5v1h-5z"/>
<path fill="#ee7525" d="M28 12h1v1h-1zM29 13h1v1h-1z"/>
<path fill="#ef7724" d="M28 3h1v1h-1zM38 13h1v1h-1z"/>
<path fill="#f07a23" d="M28 -2h1v1h-1zM28 -1h1v1h-1zM28 0h1v1h-1zM28 1h1v1h-1zM28 2h1v1h-1zM28 4h1v1h-1zM28 5h1v1h-1zM28 6h1v1h-1zM28 7h1v1h-1zM28 8h1v1h-1zM28 9h1v1h-1zM28 10h1v1h-1zM28 11h1v1h-1zM30 13h8v1h-8zM39 13h5v1h-5z"/>
<path fill="#f27f22" d="M29 12h1v1h-1z"/>
<path fill="#f28522" d="M29 11h1v1h-1zM30 12h1v1h-1z"/>
<path fill="#f38822" d="M29 -2h1v1h-1zM29 -1h1v1h-1zM29 0h1v1h-1zM29 1h1v1h-1zM29 2h1v1h-1zM29 3h1v1h-1zM29 4h1v1h-1zM29 5h1v1h-1zM29 6h1v1h-1zM29 7h1v1h-1zM29 8h1v1h-1zM29 9h1v1h-1zM29 10h1v1h-1zM31 12h13v1h-13z"/>
<path fill="#f48d21" d="M30 11h1v1h-1z"/>
<path fill="#f59321" d="M30 -2h1v1h-1zM30 -1h1v1h-1zM30 0h1v1h-1zM30 1h1v1h-1zM30 2h1v1h-1zM30 3h1v1h-1zM30 4h1v1h-1zM30 5h1v1h-1zM30 6h1v1h-1zM30 7h1v1h-1zM30 8h1v1h-1zM30 10h1v1h-1zM31 11h1v1h-1zM33 11h11v1h-11z"/>
<path fill="#f59621" d="M30 9h1v1h-1zM32 11h1v1h-1z"/>
<path fill="#f69c21" d="M31 10h1v1h-1z"/>
<path fill="#f6a320" d="M31 -2h1v1h-1zM31 -1h1v1h-1zM31 0h1v1h-1zM31 1h1v1h-1zM31 2h1v1h-1zM31 3h1v1h-1zM31 4h1v1h-1zM31 5h1v1h-1zM31 6h1v1h-1zM31 7h1v1h-1zM31 8h1v1h-1zM31 9h1v1h-1zM32 10h12v1h-12z"/>
<path fill="#f7a920" d="M32 9h1v1h-1z"/>
<path fill="#f7ac20" d="M32 -2h1v1h-1zM32 -1h1v1h-1zM32 0h1v1h-1zM32 8h1v1h-1zM33 9h1v1h-1zM41 9h3v1h-3z"/>
<path fill="#f7af22" d="M32 1h1v1h-1zM32 2h1v1h-1zM32 3h1v1h-1zM32 4h1v1h-1zM32 5h1v1h-1zM32 6h1v1h-1zM32 7h1v1h-1zM34 9h7v1h-7z"/>
<path fill="#f7b526" d="M33 8h1v1h-1z"/>
<path fill="#f6b828" d="M33 -2h1v1h-1zM33 -1h1v1h-1zM33 0h1v1h-1zM33 1h1v1h-1zM33 3h1v1h-1zM33 4h1v1h-1zM33 5h1v1h-1zM33 6h1v1h-1zM33 7h1v1h-1zM34 8h5v1h-5zM40 8h4v1h-4z"/>
<path fill="#f6bb2a" d="M33 2h1v1h-1zM39 8h1v1h-1z"/>
<path fill="#f6be2c" d="M34 -2h1v1h-1zM34 -1h1v1h-1zM34 0h1v1h-1zM41 7h3v1h-3z"/>
<path fill="#f6c12e" d="M34 1h1v1h-1zM34 7h1v1h-1zM40 7h1v1h-1z"/>
<path fill="#f6c430" d="M34 2h1v1h-1zM34 3h1v1h-1zM34 4h1v1h-1zM34 5h1v1h-1zM34 6h1v1h-1zM35 7h5v1h-5z"/>
<path fill="#f6c733" d="M35 -2h1v1h-1zM35 -1h1v1h-1zM35 0h1v1h-1zM41 6h3v1h-3z"/>
<path fill="#f5ca37" d="M41 -2h3v1h-3zM41 -1h3v1h-3zM41 0h3v1h-3zM35 1h1v1h-1zM40 6h1v1h-1z"/>
<path fill="#f4cc3b" d="M35 2h1v1h-1zM35 3h1v1h-1zM35 4h1v1h-1zM35 5h1v1h-1zM35 6h5v1h-5z"/>
<path fill="#f4cf3e" d="M36 -2h1v1h-1zM40 -2h1v1h-1zM36 -1h1v1h-1zM40 -1h1v1h-1zM36 0h1v1h-1zM40 0h1v1h-1zM40 1h4v1h-4zM41 5h3v1h-3z"/>
<path fill="#f4d241" d="M39 -2h1v1h-1zM39 -1h1v1h-1zM39 0h1v1h-1zM36 1h1v1h-1zM36 2h1v1h-1zM41 2h3v1h-3zM36 3h1v1h-1zM36 4h1v1h-1zM36 5h5v1h-5z"/>
<path fill="#f3d445" d="M37 -2h2v1h-2zM37 -1h2v1h-2zM37 0h2v1h-2zM39 1h1v1h-1zM40 2h1v1h-1zM41 3h3v1h-3zM37 4h1v1h-1zM41 4h3v1h-3z"/>
<path fill="#f2d749" d="M37 1h1v1h-1zM39 2h1v1h-1zM37 3h1v1h-1zM38 4h1v1h-1zM40 4h1v1h-1z"/>
<path fill="#f2da4c" d="M38 1h1v1h-1zM37 2h2v1h-2zM38 3h3v1h-3zM39 4h1v1h-1z"/>
</g>
<g mask="url(#mkb)">
<rect x="802.67" y="53.9" width="19.26" height="419.75" fill="url(#bv)" opacity="0.20"/>
<rect x="809.5" y="461.23" width="419.9" height="19.26" fill="url(#bh)" opacity="0.20"/>
<rect x="833.26" y="53.9" width="14.12" height="419.75" fill="url(#bv)" opacity="0.33"/>
<rect x="809.5" y="435.78" width="419.9" height="14.12" fill="url(#bh)" opacity="0.33"/>
<rect x="858.52" y="53.9" width="14.52" height="419.75" fill="url(#bv)" opacity="0.23"/>
<rect x="809.5" y="410.12" width="419.9" height="14.52" fill="url(#bh)" opacity="0.23"/>
<rect x="877.21" y="53.9" width="8.64" height="419.75" fill="url(#bv)" opacity="0.38"/>
<rect x="809.5" y="397.32" width="419.9" height="8.64" fill="url(#bh)" opacity="0.38"/>
<rect x="896.7" y="53.9" width="9.69" height="419.75" fill="url(#bv)" opacity="0.42"/>
<rect x="809.5" y="376.8" width="419.9" height="9.69" fill="url(#bh)" opacity="0.42"/>
<rect x="912.18" y="53.9" width="13.12" height="419.75" fill="url(#bv)" opacity="0.23"/>
<rect x="809.5" y="357.88" width="419.9" height="13.12" fill="url(#bh)" opacity="0.23"/>
<rect x="934.23" y="53.9" width="15.35" height="419.75" fill="url(#bv)" opacity="0.33"/>
<rect x="809.5" y="333.62" width="419.9" height="15.35" fill="url(#bh)" opacity="0.33"/>
<rect x="953.27" y="53.9" width="11.38" height="419.75" fill="url(#bv)" opacity="0.22"/>
<rect x="809.5" y="318.55" width="419.9" height="11.38" fill="url(#bh)" opacity="0.22"/>
<rect x="972.31" y="53.9" width="9.5" height="419.75" fill="url(#bv)" opacity="0.19"/>
<rect x="809.5" y="301.4" width="419.9" height="9.5" fill="url(#bh)" opacity="0.19"/>
<rect x="995.62" y="53.9" width="20.46" height="419.75" fill="url(#bv)" opacity="0.20"/>
<rect x="809.5" y="267.14" width="419.9" height="20.46" fill="url(#bh)" opacity="0.20"/>
<rect x="1013.7" y="53.9" width="10.31" height="419.75" fill="url(#bv)" opacity="0.36"/>
<rect x="809.5" y="259.22" width="419.9" height="10.31" fill="url(#bh)" opacity="0.36"/>
<rect x="1040.61" y="53.9" width="7.87" height="419.75" fill="url(#bv)" opacity="0.32"/>
<rect x="809.5" y="234.76" width="419.9" height="7.87" fill="url(#bh)" opacity="0.32"/>
<rect x="1049.93" y="53.9" width="14.48" height="419.75" fill="url(#bv)" opacity="0.34"/>
<rect x="809.5" y="218.83" width="419.9" height="14.48" fill="url(#bh)" opacity="0.34"/>
<rect x="1080.8" y="53.9" width="11.04" height="419.75" fill="url(#bv)" opacity="0.40"/>
<rect x="809.5" y="191.41" width="419.9" height="11.04" fill="url(#bh)" opacity="0.40"/>
<rect x="1103.56" y="53.9" width="19.96" height="419.75" fill="url(#bv)" opacity="0.14"/>
<rect x="809.5" y="159.74" width="419.9" height="19.96" fill="url(#bh)" opacity="0.14"/>
<rect x="1123.65" y="53.9" width="20.75" height="419.75" fill="url(#bv)" opacity="0.27"/>
<rect x="809.5" y="138.87" width="419.9" height="20.75" fill="url(#bh)" opacity="0.27"/>
<rect x="1152.83" y="53.9" width="14.9" height="419.75" fill="url(#bv)" opacity="0.39"/>
<rect x="809.5" y="115.54" width="419.9" height="14.9" fill="url(#bh)" opacity="0.39"/>
<rect x="1177.05" y="53.9" width="7.95" height="419.75" fill="url(#bv)" opacity="0.17"/>
<rect x="809.5" y="98.28" width="419.9" height="7.95" fill="url(#bh)" opacity="0.17"/>
<rect x="1190.03" y="53.9" width="10.93" height="419.75" fill="url(#bv)" opacity="0.45"/>
<rect x="809.5" y="82.33" width="419.9" height="10.93" fill="url(#bh)" opacity="0.45"/>
<rect x="1209.44" y="53.9" width="18.53" height="419.75" fill="url(#bv)" opacity="0.32"/>
<rect x="809.5" y="55.33" width="419.9" height="18.53" fill="url(#bh)" opacity="0.32"/>
</g>
</g>
<g clip-path="url(#cpb)" stroke-width="3.3" stroke-linecap="square"><line x1="809.5" y1="473.65" x2="1229.4" y2="53.9" stroke="#e2282b"/><line x1="809.5" y1="53.9" x2="1229.4" y2="473.65" stroke="#fff"/></g>
<path d="M809.5 53.9H1229.4V473.65H809.5ZM809.5 473.65v9.4M809.5 53.9v-9.4M809.5 53.9h-9.4M1229.4 53.9h9.4M914.48 473.65v9.4M914.48 53.9v-9.4M809.5 158.84h-9.4M1229.4 158.84h9.4M1019.45 473.65v9.4M1019.45 53.9v-9.4M809.5 263.77h-9.4M1229.4 263.77h9.4M1124.43 473.65v9.4M1124.43 53.9v-9.4M809.5 368.71h-9.4M1229.4 368.71h9.4M1229.4 473.65v9.4M1229.4 53.9v-9.4M809.5 473.65h-9.4M1229.4 473.65h9.4" fill="none" stroke="#000" stroke-width="2"/>
<text class="t" x="809.5" y="516.15" text-anchor="middle">–5</text>
<text class="t" x="788.9" y="483.35" text-anchor="end">–5</text>
<text class="t" x="914.48" y="516.15" text-anchor="middle">–2.5</text>
<text class="t" x="788.9" y="378.41" text-anchor="end">–2.5</text>
<text class="t" x="1019.45" y="516.15" text-anchor="middle">0</text>
<text class="t" x="788.9" y="273.47" text-anchor="end">0</text>
<text class="t" x="1124.43" y="516.15" text-anchor="middle">2.5</text>
<text class="t" x="788.9" y="168.54" text-anchor="end">2.5</text>
<text class="t" x="1229.4" y="516.15" text-anchor="middle">5</text>
<text class="t" x="788.9" y="63.6" text-anchor="end">5</text>
<text class="l" x="1019.45" y="555.25" text-anchor="middle">Position <tspan class="i">y</tspan><tspan class="s" dy="8">1</tspan><tspan dy="-8"> (mm)</tspan></text>
<rect x="1251.1" y="53.9" width="15.7" height="419.75" fill="url(#cb)" stroke="#000" stroke-width="2"/>
<text class="c" x="1278.2" y="126.7">1.2</text>
<text class="c" x="1278.2" y="288.5">1.15</text>
<text class="c" x="1278.2" y="450.3">1.1</text>
<path d="M1266.8 118.2h-10M1266.8 280h-10M1266.8 441.8h-10" fill="none" stroke="#000" stroke-width="2"/>
<text class="l i" x="1244.2" y="32.4">g<tspan class="s" dy="8" font-style="normal">2</tspan></text>
<text class="p" x="726" y="31.4">b</text>
<g clip-path="url(#cpc)"><g id="hmc" filter="url(#bl)" shape-rendering="crispEdges" transform="translate(146.6,655.65) scale(9.9952,9.9929)">
<path fill="#21183f" d="M5 -2h2v1h-2zM5 -1h2v1h-2zM5 0h2v1h-2zM41 35h3v1h-3zM41 36h3v1h-3z"/>
<path fill="#241944" d="M7 -2h1v1h-1zM7 -1h1v1h-1zM7 0h1v1h-1zM41 34h3v1h-3z"/>
<path fill="#261a49" d="M5 1h2v1h-2zM40 35h1v1h-1zM40 36h1v1h-1z"/>
<path fill="#281a4e" d="M4 -2h1v1h-1zM8 -2h1v1h-1zM4 -1h1v1h-1zM8 -1h1v1h-1zM4 0h1v1h-1zM8 0h1v1h-1zM7 1h1v1h-1zM41 33h3v1h-3zM40 34h1v1h-1zM41 37h3v1h-3z"/>
<path fill="#2a1b53" d="M4 1h1v1h-1zM8 1h1v1h-1zM6 2h1v1h-1zM40 33h1v1h-1zM39 35h1v1h-1zM40 37h1v1h-1z"/>
<path fill="#2c1c58" d="M9 -2h1v1h-1zM9 -1h1v1h-1zM9 0h1v1h-1zM5 2h1v1h-1zM7 2h1v1h-1zM41 32h3v1h-3zM39 34h1v1h-1zM39 36h1v1h-1z"/>
<path fill="#2f1d5a" d="M10 -2h1v1h-1zM10 -1h1v1h-1zM10 0h1v1h-1zM9 1h1v1h-1zM8 2h1v1h-1zM41 31h3v1h-3zM40 32h1v1h-1zM39 33h1v1h-1z"/>
<path fill="#321d5c" d="M3 -2h1v1h-1zM3 -1h1v1h-1zM3 0h1v1h-1zM4 2h1v1h-1zM9 2h1v1h-1zM6 3h3v1h-3zM39 32h1v1h-1zM38 33h1v1h-1zM38 34h1v1h-1zM38 35h1v1h-1zM39 37h1v1h-1zM41 38h3v1h-3z"/>
<path fill="#341e5f" d="M11 -2h1v1h-1zM11 -1h1v1h-1zM11 0h1v1h-1zM3 1h1v1h-1zM10 1h1v1h-1zM10 2h1v1h-1zM5 3h1v1h-1zM9 3h1v1h-1zM7 4h1v1h-1zM41 30h3v1h-3zM39 31h2v1h-2zM38 32h1v1h-1zM37 34h1v1h-1zM38 36h1v1h-1zM40 38h1v1h-1z"/>
<path fill="#371e61" d="M11 1h1v1h-1zM4 3h1v1h-1zM10 3h1v1h-1zM6 4h1v1h-1zM8 4h2v1h-2zM40 30h1v1h-1zM38 31h1v1h-1zM37 32h1v1h-1zM37 33h1v1h-1zM37 35h1v1h-1zM38 37h1v1h-1z"/>
<path fill="#3a1f63" d="M12 -2h1v1h-1zM12 -1h1v1h-1zM12 0h1v1h-1zM3 2h1v1h-1zM11 2h1v1h-1zM11 3h1v1h-1zM5 4h1v1h-1zM10 4h1v1h-1zM6 5h3v1h-3zM41 29h3v1h-3zM38 30h2v1h-2zM37 31h1v1h-1zM36 33h1v1h-1zM36 34h1v1h-1zM36 35h1v1h-1zM37 36h1v1h-1zM39 38h1v1h-1z"/>
<path fill="#3c2066" d="M2 -2h1v1h-1zM2 -1h1v1h-1zM2 0h1v1h-1zM12 1h1v1h-1zM12 2h1v1h-1zM4 4h1v1h-1zM5 5h1v1h-1zM9 5h1v1h-1zM7 6h1v1h-1zM39 29h2v1h-2zM36 32h1v1h-1zM35 34h1v1h-1zM36 36h1v1h-1zM37 37h1v1h-1zM41 39h3v1h-3z"/>
<path fill="#3f2068" d="M13 -2h1v1h-1zM13 -1h1v1h-1zM13 0h1v1h-1zM2 1h1v1h-1zM3 3h1v1h-1zM12 3h1v1h-1zM11 4h1v1h-1zM4 5h1v1h-1zM10 5h1v1h-1zM5 6h2v1h-2zM8 6h2v1h-2zM6 7h3v1h-3zM41 28h3v1h-3zM38 29h1v1h-1zM37 30h1v1h-1zM36 31h1v1h-1zM35 32h1v1h-1zM34 33h2v1h-2zM34 34h1v1h-1zM34 35h2v1h-2zM35 36h1v1h-1zM36 37h1v1h-1zM38 38h1v1h-1zM40 39h1v1h-1z"/>
<path fill="#42216a" d="M13 1h1v1h-1zM2 2h1v1h-1zM3 4h1v1h-1zM12 4h1v1h-1zM11 5h1v1h-1zM4 6h1v1h-1zM10 6h1v1h-1zM5 7h1v1h-1zM9 7h1v1h-1zM5 8h4v1h-4zM40 28h1v1h-1zM37 29h1v1h-1zM36 30h1v1h-1zM35 31h1v1h-1zM34 32h1v1h-1zM33 33h1v1h-1zM33 34h1v1h-1zM33 35h1v1h-1zM33 36h2v1h-2zM35 37h1v1h-1zM37 38h1v1h-1zM39 39h1v1h-1z"/>
<path fill="#44216a" d="M13 2h1v1h-1zM13 3h1v1h-1zM3 5h1v1h-1zM3 6h1v1h-1zM4 7h1v1h-1zM10 7h1v1h-1zM4 8h1v1h-1zM9 8h1v1h-1zM5 9h4v1h-4zM38 28h2v1h-2zM34 31h1v1h-1zM33 32h1v1h-1zM32 33h1v1h-1zM32 34h1v1h-1zM32 35h1v1h-1zM32 36h1v1h-1zM33 37h2v1h-2zM35 38h2v1h-2z"/>
<path fill="#47216b" d="M14 -2h1v1h-1zM14 -1h1v1h-1zM14 0h1v1h-1zM14 1h1v1h-1zM2 3h1v1h-1zM2 4h1v1h-1zM13 4h1v1h-1zM2 5h1v1h-1zM12 5h1v1h-1zM11 6h1v1h-1zM3 7h1v1h-1zM10 8h1v1h-1zM4 9h1v1h-1zM9 9h1v1h-1zM5 10h3v1h-3zM40 27h4v1h-4zM37 28h1v1h-1zM36 29h1v1h-1zM35 30h1v1h-1zM33 31h1v1h-1zM32 32h1v1h-1zM31 34h1v1h-1zM31 35h1v1h-1zM31 36h1v1h-1zM32 37h1v1h-1zM34 38h1v1h-1zM36 39h3v1h-3z"/>
<path fill="#4a216c" d="M1 -2h1v1h-1zM1 -1h1v1h-1zM1 0h1v1h-1zM1 1h1v1h-1zM14 2h1v1h-1zM2 6h1v1h-1zM12 6h1v1h-1zM2 7h1v1h-1zM11 7h1v1h-1zM3 8h1v1h-1zM3 9h1v1h-1zM10 9h1v1h-1zM4 10h1v1h-1zM8 10h1v1h-1zM39 27h1v1h-1zM35 29h1v1h-1zM34 30h1v1h-1zM32 31h1v1h-1zM31 33h1v1h-1zM31 37h1v1h-1zM32 38h2v1h-2zM34 39h2v1h-2zM40 40h4v1h-4z"/>
<path fill="#4c226c" d="M15 -2h1v1h-1zM15 -1h1v1h-1zM15 0h1v1h-1zM1 2h1v1h-1zM14 3h1v1h-1zM1 5h1v1h-1zM13 5h1v1h-1zM1 6h1v1h-1zM2 8h1v1h-1zM11 8h1v1h-1zM3 10h1v1h-1zM9 10h1v1h-1zM4 11h3v1h-3zM41 26h3v1h-3zM38 27h1v1h-1zM36 28h1v1h-1zM33 30h1v1h-1zM31 32h1v1h-1zM30 35h1v1h-1zM30 36h1v1h-1zM30 37h1v1h-1zM31 38h1v1h-1zM33 39h1v1h-1zM35 40h2v1h-2zM39 40h1v1h-1z"/>
<path fill="#4e226c" d="M-2 -2h3v1h-3zM-2 -1h3v1h-3zM-2 0h3v1h-3zM15 1h1v1h-1zM15 2h1v1h-1zM1 3h1v1h-1zM1 4h1v1h-1zM14 4h1v1h-1zM13 6h1v1h-1zM1 7h1v1h-1zM12 7h1v1h-1zM2 9h1v1h-1zM11 9h1v1h-1zM10 10h1v1h-1zM3 11h1v1h-1zM7 11h1v1h-1zM39 26h2v1h-2zM37 27h1v1h-1zM35 28h1v1h-1zM34 29h1v1h-1zM32 30h1v1h-1zM31 31h1v1h-1zM30 34h1v1h-1zM30 38h1v1h-1zM32 39h1v1h-1zM34 40h1v1h-1zM37 40h2v1h-2zM41 41h3v1h-3zM41 42h3v1h-3zM41 43h3v1h-3z"/>
<path fill="#51226d" d="M16 -2h1v1h-1zM16 -1h1v1h-1zM16 0h1v1h-1zM15 3h1v1h-1zM14 5h1v1h-1zM1 8h1v1h-1zM12 8h1v1h-1zM2 10h1v1h-1zM2 11h1v1h-1zM8 11h2v1h-2zM4 12h3v1h-3zM41 25h3v1h-3zM38 26h1v1h-1zM36 27h1v1h-1zM33 29h1v1h-1zM30 32h1v1h-1zM30 33h1v1h-1zM29 35h1v1h-1zM29 36h1v1h-1zM29 37h1v1h-1zM30 39h2v1h-2zM33 40h1v1h-1z"/>
<path fill="#54226e" d="M-2 1h3v1h-3zM16 1h1v1h-1zM-2 2h3v1h-3zM-2 3h3v1h-3zM-2 4h3v1h-3zM-2 5h3v1h-3zM-2 6h3v1h-3zM-2 7h3v1h-3zM13 7h1v1h-1zM-2 8h3v1h-3zM1 9h1v1h-1zM1 10h1v1h-1zM11 10h1v1h-1zM10 11h1v1h-1zM2 12h2v1h-2zM7 12h1v1h-1zM40 25h1v1h-1zM34 28h1v1h-1zM31 30h1v1h-1zM30 31h1v1h-1zM29 34h1v1h-1zM29 38h1v1h-1zM29 39h1v1h-1zM31 40h2v1h-2zM33 41h8v1h-8zM33 42h8v1h-8zM33 43h8v1h-8z"/>
<path fill="#56226e" d="M17 -2h1v1h-1zM17 -1h1v1h-1zM17 0h1v1h-1zM16 2h1v1h-1zM15 4h1v1h-1zM14 6h1v1h-1zM-2 9h3v1h-3zM12 9h1v1h-1zM1 11h1v1h-1zM8 12h1v1h-1zM4 13h3v1h-3zM41 24h3v1h-3zM39 25h1v1h-1zM37 26h1v1h-1zM35 27h1v1h-1zM32 29h1v1h-1zM29 33h1v1h-1zM28 35h1v1h-1zM28 36h1v1h-1zM28 37h1v1h-1zM30 40h1v1h-1zM32 41h1v1h-1zM32 42h1v1h-1zM32 43h1v1h-1z"/>
<path fill="#58226e" d="M17 1h1v1h-1zM16 3h1v1h-1zM15 5h1v1h-1zM14 7h1v1h-1zM13 8h1v1h-1zM-2 10h3v1h-3zM12 10h1v1h-1zM11 11h1v1h-1zM1 12h1v1h-1zM9 12h2v1h-2zM2 13h2v1h-2zM7 13h1v1h-1zM40 24h1v1h-1zM38 25h1v1h-1zM36 26h1v1h-1zM34 27h1v1h-1zM33 28h1v1h-1zM31 29h1v1h-1zM30 30h1v1h-1zM29 31h1v1h-1zM29 32h1v1h-1zM28 34h1v1h-1zM28 38h1v1h-1zM28 39h1v1h-1zM29 40h1v1h-1zM31 41h1v1h-1zM31 42h1v1h-1zM31 43h1v1h-1z"/>
<path fill="#5b226e" d="M17 2h1v1h-1zM13 9h1v1h-1zM-2 11h3v1h-3zM-2 12h3v1h-3zM1 13h1v1h-1zM8 13h1v1h-1zM39 24h1v1h-1zM32 28h1v1h-1zM28 33h1v1h-1zM28 40h1v1h-1zM29 41h2v1h-2zM29 42h2v1h-2zM29 43h2v1h-2z"/>
<path fill="#5e226e" d="M16 4h1v1h-1zM15 6h1v1h-1zM14 8h1v1h-1zM12 11h1v1h-1zM11 12h1v1h-1zM-2 13h3v1h-3zM9 13h1v1h-1zM1 14h6v1h-6zM37 25h1v1h-1zM35 26h1v1h-1zM33 27h1v1h-1zM30 29h1v1h-1zM29 30h1v1h-1zM28 32h1v1h-1zM27 35h1v1h-1zM27 36h1v1h-1zM27 37h1v1h-1zM27 38h1v1h-1zM27 39h1v1h-1zM27 40h1v1h-1zM28 41h1v1h-1zM28 42h1v1h-1zM28 43h1v1h-1z"/>
<path fill="#60226e" d="M18 -2h1v1h-1zM18 -1h1v1h-1zM18 0h1v1h-1zM18 1h1v1h-1zM17 3h1v1h-1zM16 5h1v1h-1zM15 7h1v1h-1zM14 9h1v1h-1zM13 10h1v1h-1zM12 12h1v1h-1zM10 13h1v1h-1zM-2 14h3v1h-3zM7 14h2v1h-2zM1 15h2v1h-2zM40 23h4v1h-4zM38 24h1v1h-1zM36 25h1v1h-1zM34 26h1v1h-1zM32 27h1v1h-1zM31 28h1v1h-1zM29 29h1v1h-1zM28 31h1v1h-1zM27 33h1v1h-1zM27 34h1v1h-1zM26 39h1v1h-1zM26 40h1v1h-1zM27 41h1v1h-1zM27 42h1v1h-1zM27 43h1v1h-1z"/>
<path fill="#62226e" d="M18 2h1v1h-1zM13 11h1v1h-1zM11 13h1v1h-1zM9 14h1v1h-1zM-2 15h3v1h-3zM3 15h3v1h-3zM39 23h1v1h-1zM30 28h1v1h-1zM28 30h1v1h-1zM27 32h1v1h-1zM26 36h1v1h-1zM26 37h1v1h-1zM26 38h1v1h-1zM26 41h1v1h-1zM26 42h1v1h-1zM26 43h1v1h-1z"/>
<path fill="#65226e" d="M17 4h1v1h-1zM16 6h1v1h-1zM15 8h1v1h-1zM14 10h1v1h-1zM10 14h1v1h-1zM6 15h2v1h-2zM-2 16h5v1h-5zM37 24h1v1h-1zM35 25h1v1h-1zM33 26h1v1h-1zM31 27h1v1h-1zM27 31h1v1h-1zM26 34h1v1h-1zM26 35h1v1h-1zM25 39h1v1h-1zM25 40h1v1h-1zM25 41h1v1h-1zM25 42h1v1h-1zM25 43h1v1h-1z"/>
<path fill="#68226e" d="M19 -2h1v1h-1zM19 -1h1v1h-1zM19 0h1v1h-1zM18 3h1v1h-1zM17 5h1v1h-1zM16 7h1v1h-1zM15 9h1v1h-1zM14 11h1v1h-1zM13 12h1v1h-1zM12 13h1v1h-1zM11 14h1v1h-1zM8 15h1v1h-1zM3 16h2v1h-2zM-2 17h4v1h-4zM41 22h3v1h-3zM38 23h1v1h-1zM36 24h1v1h-1zM34 25h1v1h-1zM32 26h1v1h-1zM30 27h1v1h-1zM29 28h1v1h-1zM28 29h1v1h-1zM27 30h1v1h-1zM26 33h1v1h-1zM25 37h1v1h-1zM25 38h1v1h-1zM24 40h1v1h-1zM24 41h1v1h-1zM24 42h1v1h-1zM24 43h1v1h-1z"/>
<path fill="#6a226e" d="M19 1h1v1h-1zM13 13h1v1h-1zM9 15h1v1h-1zM5 16h1v1h-1zM2 17h1v1h-1zM-2 18h3v1h-3zM40 22h1v1h-1zM28 28h1v1h-1zM26 32h1v1h-1zM25 36h1v1h-1zM24 39h1v1h-1zM23 41h1v1h-1zM23 42h1v1h-1zM23 43h1v1h-1z"/>
<path fill="#6d226e" d="M19 2h1v1h-1zM18 4h1v1h-1zM17 6h1v1h-1zM16 8h1v1h-1zM15 10h1v1h-1zM14 12h1v1h-1zM12 14h1v1h-1zM10 15h1v1h-1zM6 16h1v1h-1zM3 17h1v1h-1zM1 18h1v1h-1zM-2 19h3v1h-3zM39 22h1v1h-1zM37 23h1v1h-1zM35 24h1v1h-1zM33 25h1v1h-1zM31 26h1v1h-1zM29 27h1v1h-1zM27 29h1v1h-1zM26 31h1v1h-1zM25 35h1v1h-1zM24 38h1v1h-1zM23 40h1v1h-1zM22 41h1v1h-1zM22 42h1v1h-1zM22 43h1v1h-1z"/>
<path fill="#6f226e" d="M18 5h1v1h-1zM17 7h1v1h-1zM15 11h1v1h-1zM14 13h1v1h-1zM13 14h1v1h-1zM11 15h1v1h-1zM7 16h2v1h-2zM4 17h1v1h-1zM36 23h1v1h-1zM34 24h1v1h-1zM30 26h1v1h-1zM28 27h1v1h-1zM27 28h1v1h-1zM26 30h1v1h-1zM25 33h1v1h-1zM25 34h1v1h-1zM24 37h1v1h-1z"/>
<path fill="#72226d" d="M20 -2h1v1h-1zM20 -1h1v1h-1zM20 0h1v1h-1zM19 3h1v1h-1zM16 9h1v1h-1zM15 12h1v1h-1zM12 15h1v1h-1zM9 16h1v1h-1zM5 17h1v1h-1zM2 18h1v1h-1zM-2 20h3v1h-3zM41 21h3v1h-3zM38 22h1v1h-1zM32 25h1v1h-1zM29 26h1v1h-1zM26 29h1v1h-1zM25 32h1v1h-1zM24 36h1v1h-1zM23 39h1v1h-1zM21 41h1v1h-1zM21 42h1v1h-1zM21 43h1v1h-1z"/>
<path fill="#74226d" d="M19 4h1v1h-1zM18 6h1v1h-1zM17 8h1v1h-1zM16 10h1v1h-1zM14 14h1v1h-1zM10 16h1v1h-1zM6 17h2v1h-2zM3 18h1v1h-1zM1 19h1v1h-1zM37 22h1v1h-1zM35 23h1v1h-1zM33 24h1v1h-1zM31 25h1v1h-1zM27 27h1v1h-1zM25 31h1v1h-1zM24 34h1v1h-1zM24 35h1v1h-1zM23 38h1v1h-1zM22 40h1v1h-1z"/>
<path fill="#76216d" d="M20 1h1v1h-1zM17 9h1v1h-1zM16 11h1v1h-1zM15 13h1v1h-1zM13 15h1v1h-1zM11 16h1v1h-1zM8 17h1v1h-1zM4 18h1v1h-1zM-2 21h3v1h-3zM40 21h1v1h-1zM32 24h1v1h-1zM30 25h1v1h-1zM28 26h1v1h-1zM26 28h1v1h-1zM25 30h1v1h-1zM24 33h1v1h-1zM23 37h1v1h-1zM20 41h1v1h-1zM20 42h1v1h-1zM20 43h1v1h-1z"/>
<path fill="#79216c" d="M20 2h1v1h-1zM19 5h1v1h-1zM18 7h1v1h-1zM16 12h1v1h-1zM15 14h1v1h-1zM14 15h1v1h-1zM12 16h1v1h-1zM9 17h1v1h-1zM5 18h1v1h-1zM2 19h1v1h-1zM39 21h1v1h-1zM36 22h1v1h-1zM34 23h1v1h-1zM29 25h1v1h-1zM27 26h1v1h-1zM26 27h1v1h-1zM25 29h1v1h-1zM24 32h1v1h-1zM23 36h1v1h-1zM22 39h1v1h-1z"/>
<path fill="#7c216c" d="M21 -2h1v1h-1zM21 -1h1v1h-1zM21 0h1v1h-1zM20 3h1v1h-1zM19 6h1v1h-1zM18 8h1v1h-1zM17 10h1v1h-1zM17 11h1v1h-1zM16 13h1v1h-1zM13 16h1v1h-1zM10 17h2v1h-2zM6 18h2v1h-2zM1 20h1v1h-1zM41 20h3v1h-3zM38 21h1v1h-1zM35 22h1v1h-1zM33 23h1v1h-1zM30 24h2v1h-2zM28 25h1v1h-1zM25 28h1v1h-1zM24 30h1v1h-1zM24 31h1v1h-1zM23 34h1v1h-1zM23 35h1v1h-1zM21 40h1v1h-1z"/>
<path fill="#7e216c" d="M21 1h1v1h-1zM20 4h1v1h-1zM18 9h1v1h-1zM17 12h1v1h-1zM15 15h1v1h-1zM12 17h1v1h-1zM8 18h1v1h-1zM3 19h1v1h-1zM40 20h1v1h-1zM37 21h1v1h-1zM-2 22h3v1h-3zM32 23h1v1h-1zM29 24h1v1h-1zM26 26h1v1h-1zM24 29h1v1h-1zM23 33h1v1h-1zM22 38h1v1h-1zM19 41h1v1h-1zM19 42h1v1h-1zM19 43h1v1h-1z"/>
<path fill="#80216c" d="M21 2h1v1h-1zM20 5h1v1h-1zM19 7h1v1h-1zM18 10h1v1h-1zM18 11h1v1h-1zM17 13h1v1h-1zM16 14h1v1h-1zM14 16h1v1h-1zM13 17h1v1h-1zM9 18h1v1h-1zM4 19h1v1h-1zM39 20h1v1h-1zM36 21h1v1h-1zM34 22h1v1h-1zM30 23h2v1h-2zM28 24h1v1h-1zM27 25h1v1h-1zM25 27h1v1h-1zM24 28h1v1h-1zM23 32h1v1h-1zM22 37h1v1h-1z"/>
<path fill="#83226b" d="M22 -2h1v1h-1zM22 -1h1v1h-1zM22 0h1v1h-1zM19 8h1v1h-1zM18 12h1v1h-1zM16 15h1v1h-1zM15 16h1v1h-1zM10 18h1v1h-1zM5 19h1v1h-1zM41 19h3v1h-3zM2 20h1v1h-1zM33 22h1v1h-1zM-2 23h3v1h-3zM29 23h1v1h-1zM26 25h1v1h-1zM25 26h1v1h-1zM23 31h1v1h-1zM22 36h1v1h-1zM21 39h1v1h-1zM18 41h1v1h-1zM18 42h1v1h-1zM18 43h1v1h-1z"/>
<path fill="#86226a" d="M22 1h1v1h-1zM21 3h1v1h-1zM20 6h1v1h-1zM20 7h1v1h-1zM19 9h1v1h-1zM19 10h1v1h-1zM17 14h1v1h-1zM14 17h1v1h-1zM11 18h2v1h-2zM6 19h2v1h-2zM40 19h1v1h-1zM38 20h1v1h-1zM1 21h1v1h-1zM34 21h2v1h-2zM31 22h2v1h-2zM27 24h1v1h-1zM24 27h1v1h-1zM23 29h1v1h-1zM23 30h1v1h-1zM22 34h1v1h-1zM22 35h1v1h-1zM20 40h1v1h-1z"/>
<path fill="#88226a" d="M23 -2h1v1h-1zM23 -1h1v1h-1zM23 0h1v1h-1zM22 2h1v1h-1zM21 4h1v1h-1zM20 8h1v1h-1zM19 11h1v1h-1zM18 13h1v1h-1zM17 15h1v1h-1zM16 16h1v1h-1zM15 17h1v1h-1zM13 18h1v1h-1zM41 18h3v1h-3zM8 19h1v1h-1zM39 19h1v1h-1zM3 20h1v1h-1zM37 20h1v1h-1zM33 21h1v1h-1zM30 22h1v1h-1zM28 23h1v1h-1zM-2 24h3v1h-3zM26 24h1v1h-1zM25 25h1v1h-1zM24 26h1v1h-1zM23 28h1v1h-1zM22 33h1v1h-1zM21 38h1v1h-1zM17 41h1v1h-1zM17 42h1v1h-1zM17 43h1v1h-1z"/>
<path fill="#8a236a" d="M23 1h1v1h-1zM21 5h1v1h-1zM20 9h1v1h-1zM19 12h1v1h-1zM18 14h1v1h-1zM17 16h1v1h-1zM16 17h1v1h-1zM14 18h1v1h-1zM40 18h1v1h-1zM9 19h1v1h-1zM4 20h1v1h-1zM36 20h1v1h-1zM32 21h1v1h-1zM29 22h1v1h-1zM27 23h1v1h-1zM25 24h1v1h-1zM-2 25h3v1h-3zM24 25h1v1h-1zM23 27h1v1h-1zM22 32h1v1h-1zM21 37h1v1h-1zM16 41h1v1h-1zM16 42h1v1h-1zM16 43h1v1h-1z"/>
<path fill="#8d2369" d="M23 2h1v1h-1zM22 3h1v1h-1zM21 6h1v1h-1zM21 7h1v1h-1zM20 10h1v1h-1zM19 13h1v1h-1zM18 15h1v1h-1zM15 18h1v1h-1zM39 18h1v1h-1zM10 19h2v1h-2zM38 19h1v1h-1zM5 20h1v1h-1zM34 20h2v1h-2zM31 21h1v1h-1zM28 22h1v1h-1zM26 23h1v1h-1zM23 26h1v1h-1zM22 30h1v1h-1zM22 31h1v1h-1zM21 36h1v1h-1z"/>
<path fill="#902468" d="M24 -2h1v1h-1zM24 -1h1v1h-1zM24 0h1v1h-1zM22 4h1v1h-1zM21 8h1v1h-1zM20 11h1v1h-1zM20 12h1v1h-1zM19 14h1v1h-1zM18 16h1v1h-1zM17 17h1v1h-1zM41 17h3v1h-3zM16 18h1v1h-1zM12 19h1v1h-1zM37 19h1v1h-1zM6 20h1v1h-1zM33 20h1v1h-1zM2 21h1v1h-1zM29 21h2v1h-2zM1 22h1v1h-1zM27 22h1v1h-1zM25 23h1v1h-1zM24 24h1v1h-1zM23 25h1v1h-1zM22 29h1v1h-1zM21 35h1v1h-1zM20 39h1v1h-1zM19 40h1v1h-1z"/>
<path fill="#922468" d="M24 1h1v1h-1zM23 3h1v1h-1zM22 5h1v1h-1zM22 6h1v1h-1zM21 9h1v1h-1zM21 10h1v1h-1zM20 13h1v1h-1zM19 15h1v1h-1zM18 17h1v1h-1zM40 17h1v1h-1zM17 18h1v1h-1zM38 18h1v1h-1zM13 19h2v1h-2zM35 19h2v1h-2zM31 20h2v1h-2zM28 21h1v1h-1zM26 22h1v1h-1zM24 23h1v1h-1zM23 24h1v1h-1zM-2 26h3v1h-3zM22 27h1v1h-1zM22 28h1v1h-1zM15 41h1v1h-1zM15 42h1v1h-1zM15 43h1v1h-1z"/>
<path fill="#952567" d="M25 -2h1v1h-1zM25 -1h1v1h-1zM25 0h1v1h-1zM24 2h1v1h-1zM23 4h1v1h-1zM22 7h1v1h-1zM21 11h1v1h-1zM20 14h1v1h-1zM19 16h1v1h-1zM41 16h3v1h-3zM39 17h1v1h-1zM37 18h1v1h-1zM15 19h2v1h-2zM34 19h1v1h-1zM7 20h2v1h-2zM30 20h1v1h-1zM3 21h1v1h-1zM27 21h1v1h-1zM25 22h1v1h-1zM1 23h1v1h-1zM22 25h1v1h-1zM22 26h1v1h-1zM21 33h1v1h-1zM21 34h1v1h-1zM20 38h1v1h-1zM18 40h1v1h-1z"/>
<path fill="#972666" d="M26 -2h1v1h-1zM26 -1h1v1h-1zM26 0h1v1h-1zM25 1h1v1h-1zM25 2h1v1h-1zM24 3h1v1h-1zM23 5h1v1h-1zM22 8h1v1h-1zM22 9h1v1h-1zM22 10h1v1h-1zM21 12h1v1h-1zM21 13h1v1h-1zM20 15h1v1h-1zM41 15h3v1h-3zM39 16h2v1h-2zM19 17h1v1h-1zM38 17h1v1h-1zM18 18h1v1h-1zM36 18h1v1h-1zM17 19h1v1h-1zM31 19h3v1h-3zM9 20h2v1h-2zM28 20h2v1h-2zM4 21h1v1h-1zM26 21h1v1h-1zM24 22h1v1h-1zM23 23h1v1h-1zM22 24h1v1h-1zM-2 27h3v1h-3zM21 31h1v1h-1zM21 32h1v1h-1zM20 37h1v1h-1zM14 41h1v1h-1zM14 42h1v1h-1zM14 43h1v1h-1z"/>
<path fill="#9a2765" d="M26 1h1v1h-1zM25 3h1v1h-1zM24 4h1v1h-1zM24 5h1v1h-1zM23 6h1v1h-1zM23 7h1v1h-1zM22 11h1v1h-1zM21 14h1v1h-1zM40 15h1v1h-1zM20 16h1v1h-1zM38 16h1v1h-1zM36 17h2v1h-2zM19 18h1v1h-1zM34 18h2v1h-2zM30 19h1v1h-1zM11 20h2v1h-2zM27 20h1v1h-1zM5 21h1v1h-1zM25 21h1v1h-1zM2 22h1v1h-1zM23 22h1v1h-1zM1 24h1v1h-1zM21 29h1v1h-1zM21 30h1v1h-1zM20 36h1v1h-1zM19 39h1v1h-1zM17 40h1v1h-1z"/>
<path fill="#9c2864" d="M27 -2h1v1h-1zM27 -1h1v1h-1zM27 0h1v1h-1zM26 2h1v1h-1zM25 4h1v1h-1zM24 6h1v1h-1zM23 8h1v1h-1zM23 9h1v1h-1zM23 10h1v1h-1zM22 12h1v1h-1zM22 13h1v1h-1zM22 14h1v1h-1zM41 14h3v1h-3zM21 15h1v1h-1zM39 15h1v1h-1zM21 16h1v1h-1zM37 16h1v1h-1zM20 17h1v1h-1zM35 17h1v1h-1zM20 18h1v1h-1zM31 18h3v1h-3zM18 19h1v1h-1zM27 19h3v1h-3zM13 20h3v1h-3zM25 20h2v1h-2zM6 21h1v1h-1zM23 21h2v1h-2zM22 23h1v1h-1zM21 26h1v1h-1zM21 27h1v1h-1zM-2 28h3v1h-3zM21 28h1v1h-1zM20 35h1v1h-1zM13 41h1v1h-1zM13 42h1v1h-1zM13 43h1v1h-1z"/>
<path fill="#9f2963" d="M28 -2h1v1h-1zM28 -1h1v1h-1zM28 0h1v1h-1zM27 1h1v1h-1zM27 2h1v1h-1zM26 3h1v1h-1zM26 4h1v1h-1zM25 5h1v1h-1zM25 6h1v1h-1zM24 7h1v1h-1zM24 8h1v1h-1zM24 9h1v1h-1zM24 10h1v1h-1zM23 11h1v1h-1zM23 12h1v1h-1zM41 13h3v1h-3zM23 14h1v1h-1zM39 14h2v1h-2zM22 15h1v1h-1zM37 15h2v1h-2zM22 16h1v1h-1zM35 16h2v1h-2zM21 17h1v1h-1zM31 17h4v1h-4zM27 18h1v1h-1zM29 18h2v1h-2zM19 19h1v1h-1zM25 19h2v1h-2zM16 20h2v1h-2zM24 20h1v1h-1zM3 22h1v1h-1zM22 22h1v1h-1zM21 24h1v1h-1zM1 25h1v1h-1zM21 25h1v1h-1zM-2 29h3v1h-3zM19 38h1v1h-1zM16 40h1v1h-1zM12 41h1v1h-1zM12 42h1v1h-1zM12 43h1v1h-1z"/>
<path fill="#a22a62" d="M28 1h1v1h-1zM27 3h1v1h-1zM26 5h1v1h-1zM25 7h1v1h-1zM24 11h1v1h-1zM23 13h1v1h-1zM40 13h1v1h-1zM38 14h1v1h-1zM23 15h1v1h-1zM36 15h1v1h-1zM23 16h1v1h-1zM34 16h1v1h-1zM30 17h1v1h-1zM21 18h1v1h-1zM25 18h2v1h-2zM28 18h1v1h-1zM20 19h1v1h-1zM18 20h1v1h-1zM23 20h1v1h-1zM7 21h1v1h-1zM22 21h1v1h-1zM2 23h1v1h-1zM21 23h1v1h-1zM20 34h1v1h-1zM18 39h1v1h-1z"/>
<path fill="#a42b61" d="M29 -2h1v1h-1zM29 -1h1v1h-1zM29 0h1v1h-1zM28 2h1v1h-1zM27 4h1v1h-1zM26 6h1v1h-1zM25 8h1v1h-1zM25 9h1v1h-1zM25 10h1v1h-1zM24 12h1v1h-1zM41 12h3v1h-3zM24 13h1v1h-1zM39 13h1v1h-1zM24 14h1v1h-1zM37 14h1v1h-1zM24 15h1v1h-1zM35 15h1v1h-1zM31 16h3v1h-3zM22 17h2v1h-2zM26 17h4v1h-4zM22 18h1v1h-1zM24 18h1v1h-1zM21 19h1v1h-1zM23 19h2v1h-2zM19 20h1v1h-1zM22 20h1v1h-1zM8 21h4v1h-4zM13 21h3v1h-3zM4 22h1v1h-1zM21 22h1v1h-1zM20 26h1v1h-1zM20 27h1v1h-1zM20 28h1v1h-1zM-2 30h3v1h-3zM20 30h1v1h-1zM20 31h1v1h-1zM20 32h1v1h-1zM20 33h1v1h-1zM19 37h1v1h-1zM11 41h1v1h-1zM11 42h1v1h-1zM11 43h1v1h-1z"/>
<path fill="#a72c60" d="M30 -2h1v1h-1zM30 -1h1v1h-1zM30 0h1v1h-1zM29 1h1v1h-1zM29 2h1v1h-1zM28 3h1v1h-1zM27 5h1v1h-1zM27 6h1v1h-1zM26 7h1v1h-1zM25 11h1v1h-1zM41 11h3v1h-3zM25 12h1v1h-1zM39 12h2v1h-2zM25 13h1v1h-1zM38 13h1v1h-1zM25 14h1v1h-1zM35 14h2v1h-2zM25 15h1v1h-1zM34 15h1v1h-1zM24 16h7v1h-7zM24 17h2v1h-2zM23 18h1v1h-1zM22 19h1v1h-1zM20 20h2v1h-2zM12 21h1v1h-1zM16 21h6v1h-6zM5 22h1v1h-1zM20 22h1v1h-1zM20 23h1v1h-1zM2 24h1v1h-1zM20 24h1v1h-1zM20 25h1v1h-1zM1 26h1v1h-1zM20 29h1v1h-1zM-2 31h3v1h-3zM19 36h1v1h-1zM17 39h1v1h-1zM15 40h1v1h-1zM10 41h1v1h-1zM10 42h1v1h-1zM10 43h1v1h-1z"/>
<path fill="#aa2d5f" d="M31 -2h1v1h-1zM31 -1h1v1h-1zM31 0h1v1h-1zM30 1h2v1h-2zM30 2h1v1h-1zM29 3h1v1h-1zM28 4h1v1h-1zM28 5h1v1h-1zM27 7h1v1h-1zM26 8h1v1h-1zM26 9h1v1h-1zM26 10h1v1h-1zM40 10h4v1h-4zM26 11h1v1h-1zM39 11h2v1h-2zM26 12h1v1h-1zM38 12h1v1h-1zM26 13h1v1h-1zM36 13h2v1h-2zM26 14h1v1h-1zM34 14h1v1h-1zM26 15h8v1h-8zM19 22h1v1h-1zM3 23h1v1h-1zM18 38h1v1h-1z"/>
<path fill="#ac2f5e" d="M32 -2h1v1h-1zM32 -1h1v1h-1zM32 0h1v1h-1zM32 1h1v1h-1zM31 2h1v1h-1zM30 3h1v1h-1zM29 4h1v1h-1zM28 6h1v1h-1zM28 7h1v1h-1zM27 8h1v1h-1zM27 9h1v1h-1zM40 9h4v1h-4zM27 10h1v1h-1zM39 10h1v1h-1zM27 11h1v1h-1zM38 11h1v1h-1zM27 12h1v1h-1zM37 12h1v1h-1zM27 13h2v1h-2zM34 13h2v1h-2zM27 14h7v1h-7zM6 22h2v1h-2zM14 22h5v1h-5zM19 23h1v1h-1zM19 24h1v1h-1zM19 25h1v1h-1zM19 26h1v1h-1zM19 27h1v1h-1zM-2 32h3v1h-3zM19 34h1v1h-1zM19 35h1v1h-1zM9 41h1v1h-1zM9 42h1v1h-1zM9 43h1v1h-1z"/>
<path fill="#ae305c" d="M33 -2h1v1h-1zM33 -1h1v1h-1zM33 0h1v1h-1zM33 1h1v1h-1zM32 2h2v1h-2zM31 3h1v1h-1zM30 4h2v1h-2zM29 5h1v1h-1zM29 6h1v1h-1zM29 7h1v1h-1zM28 8h2v1h-2zM39 8h5v1h-5zM28 9h2v1h-2zM39 9h1v1h-1zM28 10h2v1h-2zM37 10h2v1h-2zM28 11h2v1h-2zM37 11h1v1h-1zM28 12h9v1h-9zM29 13h5v1h-5zM8 22h1v1h-1zM12 22h2v1h-2zM4 23h1v1h-1zM18 23h1v1h-1zM2 25h1v1h-1zM1 27h1v1h-1zM19 28h1v1h-1zM19 29h1v1h-1zM19 33h1v1h-1zM18 37h1v1h-1zM16 39h1v1h-1zM14 40h1v1h-1z"/>
<path fill="#b1325b" d="M34 -2h1v1h-1zM34 -1h1v1h-1zM34 0h1v1h-1zM34 1h1v1h-1zM34 2h1v1h-1zM32 3h4v1h-4zM32 4h1v1h-1zM30 5h3v1h-3zM30 6h1v1h-1zM38 6h1v1h-1zM30 7h1v1h-1zM38 7h6v1h-6zM30 8h1v1h-1zM38 8h1v1h-1zM30 9h1v1h-1zM36 9h3v1h-3zM30 10h1v1h-1zM36 10h1v1h-1zM30 11h7v1h-7zM9 22h3v1h-3zM15 23h3v1h-3zM3 24h1v1h-1zM17 24h2v1h-2zM18 25h1v1h-1zM18 26h1v1h-1zM19 30h1v1h-1zM19 31h1v1h-1zM19 32h1v1h-1zM-2 33h3v1h-3zM17 38h1v1h-1zM8 41h1v1h-1zM8 42h1v1h-1zM8 43h1v1h-1z"/>
<path fill="#b4345a" d="M35 -2h1v1h-1zM35 -1h1v1h-1zM35 0h1v1h-1zM35 1h1v1h-1zM35 2h2v1h-2zM36 3h1v1h-1zM33 4h4v1h-4zM33 5h2v1h-2zM37 5h3v1h-3zM31 6h3v1h-3zM37 6h1v1h-1zM39 6h5v1h-5zM31 7h2v1h-2zM36 7h2v1h-2zM31 8h1v1h-1zM35 8h3v1h-3zM31 9h1v1h-1zM34 9h2v1h-2zM31 10h5v1h-5zM5 23h1v1h-1zM13 23h2v1h-2zM16 24h1v1h-1zM17 25h1v1h-1zM18 27h1v1h-1zM1 28h1v1h-1zM18 28h1v1h-1zM18 36h1v1h-1zM13 40h1v1h-1z"/>
<path fill="#b63558" d="M36 -2h5v1h-5zM36 -1h5v1h-5zM36 0h5v1h-5zM36 1h8v1h-8zM37 2h1v1h-1zM40 2h4v1h-4zM37 3h1v1h-1zM40 3h4v1h-4zM37 4h7v1h-7zM35 5h2v1h-2zM40 5h4v1h-4zM34 6h3v1h-3zM33 7h3v1h-3zM32 8h3v1h-3zM32 9h2v1h-2zM6 23h1v1h-1zM12 23h1v1h-1zM15 24h1v1h-1zM16 25h1v1h-1zM17 26h1v1h-1zM18 29h1v1h-1zM-2 34h3v1h-3zM18 35h1v1h-1zM7 41h1v1h-1zM7 42h1v1h-1zM7 43h1v1h-1z"/>
<path fill="#b83757" d="M41 -2h3v1h-3zM41 -1h3v1h-3zM41 0h3v1h-3zM38 2h2v1h-2zM38 3h2v1h-2zM7 23h1v1h-1zM11 23h1v1h-1zM4 24h1v1h-1zM2 26h1v1h-1zM1 29h1v1h-1zM18 30h1v1h-1zM18 34h1v1h-1zM-2 35h3v1h-3zM17 37h1v1h-1zM15 39h1v1h-1zM12 40h1v1h-1zM6 41h1v1h-1zM6 42h1v1h-1zM6 43h1v1h-1z"/>
<path fill="#bb3856" d="M8 23h3v1h-3zM14 24h1v1h-1zM3 25h1v1h-1zM15 25h1v1h-1zM16 26h1v1h-1zM17 27h1v1h-1zM18 31h1v1h-1zM18 32h1v1h-1zM18 33h1v1h-1zM-2 36h3v1h-3zM-2 37h3v1h-3zM16 38h1v1h-1zM-2 41h3v1h-3zM4 41h2v1h-2zM-2 42h3v1h-3zM4 42h2v1h-2zM-2 43h3v1h-3zM4 43h2v1h-2z"/>
<path fill="#bd3a54" d="M12 24h2v1h-2zM17 28h1v1h-1zM17 29h1v1h-1zM1 30h1v1h-1zM-2 38h3v1h-3zM-2 39h3v1h-3zM-2 40h3v1h-3zM11 40h1v1h-1zM1 41h3v1h-3zM1 42h3v1h-3zM1 43h3v1h-3z"/>
<path fill="#bf3b53" d="M5 24h1v1h-1zM14 25h1v1h-1zM15 26h1v1h-1zM16 27h1v1h-1zM17 36h1v1h-1z"/>
<path fill="#c23d51" d="M6 24h1v1h-1zM11 24h1v1h-1zM2 27h1v1h-1zM17 30h1v1h-1zM17 35h1v1h-1zM14 39h1v1h-1z"/>
<path fill="#c43e4f" d="M7 24h2v1h-2zM10 24h1v1h-1zM4 25h1v1h-1zM13 25h1v1h-1zM14 26h1v1h-1zM15 27h1v1h-1zM16 28h1v1h-1zM1 31h1v1h-1zM17 31h1v1h-1zM17 33h1v1h-1zM17 34h1v1h-1zM16 37h1v1h-1zM10 40h1v1h-1z"/>
<path fill="#c6404d" d="M9 24h1v1h-1zM12 25h1v1h-1zM3 26h1v1h-1zM16 29h1v1h-1zM17 32h1v1h-1zM15 38h1v1h-1zM1 40h1v1h-1z"/>
<path fill="#c8424c" d="M2 28h1v1h-1zM1 32h1v1h-1zM13 39h1v1h-1zM9 40h1v1h-1z"/>
<path fill="#cb434a" d="M5 25h1v1h-1zM11 25h1v1h-1zM13 26h1v1h-1zM14 27h1v1h-1zM15 28h1v1h-1zM16 30h1v1h-1zM16 36h1v1h-1z"/>
<path fill="#cd4548" d="M10 25h1v1h-1zM16 31h1v1h-1zM1 39h1v1h-1zM2 40h1v1h-1z"/>
<path fill="#cf4746" d="M6 25h1v1h-1zM9 25h1v1h-1zM2 29h1v1h-1zM16 32h1v1h-1zM1 33h1v1h-1zM16 35h1v1h-1zM12 39h1v1h-1zM8 40h1v1h-1z"/>
<path fill="#d14945" d="M7 25h2v1h-2zM4 26h1v1h-1zM12 26h1v1h-1zM3 27h1v1h-1zM13 27h1v1h-1zM14 28h1v1h-1zM15 29h1v1h-1zM16 33h1v1h-1zM16 34h1v1h-1zM15 37h1v1h-1zM1 38h1v1h-1zM14 38h1v1h-1zM3 40h1v1h-1z"/>
<path fill="#d34b43" d="M1 34h1v1h-1zM1 37h1v1h-1zM4 40h1v1h-1zM7 40h1v1h-1z"/>
<path fill="#d54c41" d="M11 26h1v1h-1zM2 30h1v1h-1zM15 30h1v1h-1zM1 35h1v1h-1zM1 36h1v1h-1zM11 39h1v1h-1zM5 40h2v1h-2z"/>
<path fill="#d74e3f" d="M5 26h1v1h-1zM10 26h1v1h-1zM15 31h1v1h-1zM15 36h1v1h-1z"/>
<path fill="#d9503d" d="M9 26h1v1h-1zM12 27h1v1h-1zM3 28h1v1h-1zM13 28h1v1h-1zM14 29h1v1h-1zM15 32h1v1h-1zM13 38h1v1h-1zM2 39h1v1h-1z"/>
<path fill="#db523c" d="M6 26h1v1h-1zM8 26h1v1h-1zM4 27h1v1h-1zM15 33h1v1h-1zM15 35h1v1h-1zM14 37h1v1h-1z"/>
<path fill="#dd543a" d="M7 26h1v1h-1zM2 31h1v1h-1zM15 34h1v1h-1zM10 39h1v1h-1z"/>
<path fill="#de5638" d="M11 27h1v1h-1zM14 30h1v1h-1z"/>
<path fill="#e05936" d="M10 27h1v1h-1zM12 28h1v1h-1zM3 29h1v1h-1zM13 29h1v1h-1zM14 31h1v1h-1zM12 38h1v1h-1z"/>
<path fill="#e25c34" d="M2 32h1v1h-1zM2 38h1v1h-1zM3 39h1v1h-1zM9 39h1v1h-1z"/>
<path fill="#e35e32" d="M5 27h1v1h-1zM9 27h1v1h-1zM14 32h1v1h-1zM14 36h1v1h-1z"/>
<path fill="#e46030" d="M8 27h1v1h-1zM4 28h1v1h-1zM11 28h1v1h-1zM12 29h1v1h-1zM13 30h1v1h-1zM14 33h1v1h-1zM13 37h1v1h-1z"/>
<path fill="#e6632e" d="M2 33h1v1h-1zM8 39h1v1h-1z"/>
<path fill="#e8662c" d="M6 27h2v1h-2zM3 30h1v1h-1zM14 34h1v1h-1zM14 35h1v1h-1zM2 37h1v1h-1zM11 38h1v1h-1zM4 39h1v1h-1z"/>
<path fill="#e9682a" d="M10 28h1v1h-1zM13 31h1v1h-1zM2 34h1v1h-1zM2 35h1v1h-1zM2 36h1v1h-1zM5 39h3v1h-3z"/>
<path fill="#ea6a29" d="M11 29h1v1h-1zM12 30h1v1h-1z"/>
<path fill="#eb6d28" d="M9 28h1v1h-1zM13 32h1v1h-1z"/>
<path fill="#ec6f27" d="M5 28h1v1h-1zM4 29h1v1h-1zM3 31h1v1h-1zM13 36h1v1h-1zM12 37h1v1h-1zM10 38h1v1h-1z"/>
<path fill="#ed7226" d="M8 28h1v1h-1zM13 33h1v1h-1zM3 38h1v1h-1z"/>
<path fill="#ef7724" d="M6 28h2v1h-2zM10 29h1v1h-1zM11 30h1v1h-1zM12 31h1v1h-1zM13 34h1v1h-1zM13 35h1v1h-1z"/>
<path fill="#f07a23" d="M3 32h1v1h-1zM9 38h1v1h-1z"/>
<path fill="#f17c22" d="M9 29h1v1h-1zM4 30h1v1h-1zM12 32h1v1h-1zM11 37h1v1h-1z"/>
<path fill="#f27f22" d="M5 29h1v1h-1zM12 36h1v1h-1z"/>
<path fill="#f28222" d="M10 30h1v1h-1zM11 31h1v1h-1zM3 33h1v1h-1zM3 37h1v1h-1zM4 38h1v1h-1zM8 38h1v1h-1z"/>
<path fill="#f28522" d="M8 29h1v1h-1zM12 33h1v1h-1z"/>
<path fill="#f38822" d="M6 29h2v1h-2zM3 34h1v1h-1zM12 34h1v1h-1zM12 35h1v1h-1zM3 36h1v1h-1zM5 38h1v1h-1zM7 38h1v1h-1z"/>
<path fill="#f48a21" d="M4 31h1v1h-1zM3 35h1v1h-1zM10 37h1v1h-1zM6 38h1v1h-1z"/>
<path fill="#f48d21" d="M5 30h1v1h-1zM9 30h1v1h-1zM10 31h1v1h-1zM11 32h1v1h-1zM11 36h1v1h-1z"/>
<path fill="#f59621" d="M8 30h1v1h-1zM4 32h1v1h-1zM11 33h1v1h-1zM9 37h1v1h-1z"/>
<path fill="#f69921" d="M6 30h2v1h-2zM11 34h1v1h-1zM11 35h1v1h-1zM4 37h1v1h-1z"/>
<path fill="#f69c21" d="M5 31h1v1h-1zM9 31h1v1h-1zM10 32h1v1h-1zM10 36h1v1h-1z"/>
<path fill="#f6a320" d="M4 33h1v1h-1zM8 37h1v1h-1z"/>
<path fill="#f6a620" d="M8 31h1v1h-1zM10 33h1v1h-1z"/>
<path fill="#f7a920" d="M6 31h1v1h-1zM4 34h1v1h-1zM10 35h1v1h-1zM4 36h1v1h-1zM5 37h1v1h-1zM7 37h1v1h-1z"/>
<path fill="#f7ac20" d="M7 31h1v1h-1zM5 32h1v1h-1zM9 32h1v1h-1zM10 34h1v1h-1zM4 35h1v1h-1zM9 36h1v1h-1zM6 37h1v1h-1z"/>
<path fill="#f7b526" d="M8 32h1v1h-1zM9 33h1v1h-1z"/>
<path fill="#f6bb2a" d="M6 32h2v1h-2zM5 33h1v1h-1zM9 34h1v1h-1zM9 35h1v1h-1zM8 36h1v1h-1z"/>
<path fill="#f6be2c" d="M5 36h1v1h-1z"/>
<path fill="#f6c430" d="M8 33h1v1h-1zM5 34h1v1h-1zM7 36h1v1h-1z"/>
<path fill="#f6c733" d="M5 35h1v1h-1zM6 36h1v1h-1z"/>
<path fill="#f5ca37" d="M6 33h2v1h-2zM8 34h1v1h-1zM8 35h1v1h-1z"/>
<path fill="#f4d241" d="M6 34h2v1h-2zM7 35h1v1h-1z"/>
<path fill="#f3d445" d="M6 35h1v1h-1z"/>
</g>
<g mask="url(#mkc)">
<rect x="145" y="655.65" width="17.07" height="419.7" fill="url(#bv)" opacity="0.08"/>
<rect x="146.6" y="1059.88" width="419.8" height="17.07" fill="url(#bh)" opacity="0.08"/>
<rect x="164.93" y="655.65" width="19.55" height="419.7" fill="url(#bv)" opacity="0.15"/>
<rect x="146.6" y="1037.47" width="419.8" height="19.55" fill="url(#bh)" opacity="0.15"/>
<rect x="184.24" y="655.65" width="10.34" height="419.7" fill="url(#bv)" opacity="0.05"/>
<rect x="146.6" y="1027.38" width="419.8" height="10.34" fill="url(#bh)" opacity="0.05"/>
<rect x="205.43" y="655.65" width="7.96" height="419.7" fill="url(#bv)" opacity="0.10"/>
<rect x="146.6" y="1008.58" width="419.8" height="7.96" fill="url(#bh)" opacity="0.10"/>
<rect x="227.25" y="655.65" width="11.3" height="419.7" fill="url(#bv)" opacity="0.12"/>
<rect x="146.6" y="983.42" width="419.8" height="11.3" fill="url(#bh)" opacity="0.12"/>
<rect x="251.48" y="655.65" width="7.88" height="419.7" fill="url(#bv)" opacity="0.11"/>
<rect x="146.6" y="962.62" width="419.8" height="7.88" fill="url(#bh)" opacity="0.11"/>
<rect x="265.8" y="655.65" width="13.13" height="419.7" fill="url(#bv)" opacity="0.08"/>
<rect x="146.6" y="943.05" width="419.8" height="13.13" fill="url(#bh)" opacity="0.08"/>
<rect x="289.86" y="655.65" width="13.47" height="419.7" fill="url(#bv)" opacity="0.07"/>
<rect x="146.6" y="918.65" width="419.8" height="13.47" fill="url(#bh)" opacity="0.07"/>
<rect x="309.32" y="655.65" width="18.04" height="419.7" fill="url(#bv)" opacity="0.08"/>
<rect x="146.6" y="894.63" width="419.8" height="18.04" fill="url(#bh)" opacity="0.08"/>
<rect x="328.27" y="655.65" width="12.77" height="419.7" fill="url(#bv)" opacity="0.15"/>
<rect x="146.6" y="880.95" width="419.8" height="12.77" fill="url(#bh)" opacity="0.15"/>
<rect x="355.35" y="655.65" width="16.59" height="419.7" fill="url(#bv)" opacity="0.15"/>
<rect x="146.6" y="850.07" width="419.8" height="16.59" fill="url(#bh)" opacity="0.15"/>
<rect x="384.12" y="655.65" width="12.63" height="419.7" fill="url(#bv)" opacity="0.06"/>
<rect x="146.6" y="825.25" width="419.8" height="12.63" fill="url(#bh)" opacity="0.06"/>
<rect x="406.48" y="655.65" width="15.05" height="419.7" fill="url(#bv)" opacity="0.09"/>
<rect x="146.6" y="800.48" width="419.8" height="15.05" fill="url(#bh)" opacity="0.09"/>
<rect x="423.87" y="655.65" width="13.02" height="419.7" fill="url(#bv)" opacity="0.10"/>
<rect x="146.6" y="785.13" width="419.8" height="13.02" fill="url(#bh)" opacity="0.10"/>
<rect x="441.75" y="655.65" width="11.48" height="419.7" fill="url(#bv)" opacity="0.10"/>
<rect x="146.6" y="768.79" width="419.8" height="11.48" fill="url(#bh)" opacity="0.10"/>
<rect x="466.82" y="655.65" width="15.43" height="419.7" fill="url(#bv)" opacity="0.08"/>
<rect x="146.6" y="739.78" width="419.8" height="15.43" fill="url(#bh)" opacity="0.08"/>
<rect x="484.97" y="655.65" width="13.66" height="419.7" fill="url(#bv)" opacity="0.07"/>
<rect x="146.6" y="723.4" width="419.8" height="13.66" fill="url(#bh)" opacity="0.07"/>
<rect x="500.54" y="655.65" width="14.46" height="419.7" fill="url(#bv)" opacity="0.06"/>
<rect x="146.6" y="707.03" width="419.8" height="14.46" fill="url(#bh)" opacity="0.06"/>
<rect x="522.28" y="655.65" width="12.42" height="419.7" fill="url(#bv)" opacity="0.13"/>
<rect x="146.6" y="687.34" width="419.8" height="12.42" fill="url(#bh)" opacity="0.13"/>
<rect x="545.2" y="655.65" width="16.84" height="419.7" fill="url(#bv)" opacity="0.13"/>
<rect x="146.6" y="660.01" width="419.8" height="16.84" fill="url(#bh)" opacity="0.13"/>
</g>
</g>
<g clip-path="url(#cpc)" stroke-width="3.3" stroke-linecap="square"><line x1="146.6" y1="1075.35" x2="566.4" y2="655.65" stroke="#e2282b"/><line x1="146.6" y1="655.65" x2="566.4" y2="1075.35" stroke="#fff"/></g>
<path d="M146.6 655.65H566.4V1075.35H146.6ZM146.6 1075.35v9.4M146.6 655.65v-9.4M146.6 655.65h-9.4M566.4 655.65h9.4M251.55 1075.35v9.4M251.55 655.65v-9.4M146.6 760.57h-9.4M566.4 760.57h9.4M356.5 1075.35v9.4M356.5 655.65v-9.4M146.6 865.5h-9.4M566.4 865.5h9.4M461.45 1075.35v9.4M461.45 655.65v-9.4M146.6 970.42h-9.4M566.4 970.42h9.4M566.4 1075.35v9.4M566.4 655.65v-9.4M146.6 1075.35h-9.4M566.4 1075.35h9.4" fill="none" stroke="#000" stroke-width="2"/>
<text class="t" x="146.6" y="1117.85" text-anchor="middle">–5</text>
<text class="t" x="126" y="1085.05" text-anchor="end">–5</text>
<text class="t" x="251.55" y="1117.85" text-anchor="middle">–2.5</text>
<text class="t" x="126" y="980.12" text-anchor="end">–2.5</text>
<text class="t" x="356.5" y="1117.85" text-anchor="middle">0</text>
<text class="t" x="126" y="875.2" text-anchor="end">0</text>
<text class="t" x="461.45" y="1117.85" text-anchor="middle">2.5</text>
<text class="t" x="126" y="770.27" text-anchor="end">2.5</text>
<text class="t" x="566.4" y="1117.85" text-anchor="middle">5</text>
<text class="t" x="126" y="665.35" text-anchor="end">5</text>
<text class="l" x="356.5" y="1156.95" text-anchor="middle">Position <tspan class="i">x</tspan><tspan class="s" dy="8">1</tspan><tspan dy="-8"> (mm)</tspan></text>
<text class="l" transform="translate(46.6,865.5) rotate(-90)" text-anchor="middle">Position <tspan class="i">x</tspan><tspan class="s" dy="8">2</tspan><tspan dy="-8"> (mm)</tspan></text>
<rect x="588.3" y="655.65" width="15.9" height="419.7" fill="url(#cb)" stroke="#000" stroke-width="2"/>
<text class="c" x="617.2" y="719">1.15</text>
<text class="c" x="617.2" y="810.2">1.1</text>
<text class="c" x="617.2" y="901.4">1.05</text>
<text class="c" x="617.2" y="992.6">1</text>
<text class="c" x="617.2" y="1083.85">0.95</text>
<path d="M604.2 710.5h-10M604.2 801.7h-10M604.2 892.9h-10M604.2 984.1h-10" fill="none" stroke="#000" stroke-width="2"/>
<text class="l i" x="581.5" y="634.15">g<tspan class="s" dy="8" font-style="normal">2</tspan></text>
<text class="p" x="1.5" y="631.4">c</text>
<g clip-path="url(#cpd)"><g id="hmd" filter="url(#bl)" shape-rendering="crispEdges" transform="translate(810,655.9) scale(10.0000,9.9940)">
<path fill="#2f1d5a" d="M-2 -2h3v1h-3zM-2 -1h3v1h-3zM-2 0h3v1h-3zM-2 1h3v1h-3zM-2 2h3v1h-3zM-2 3h3v1h-3zM-2 4h3v1h-3zM-2 5h3v1h-3zM-2 6h3v1h-3zM-2 7h3v1h-3zM-2 8h3v1h-3zM-2 9h3v1h-3zM-2 10h3v1h-3zM-2 11h3v1h-3zM-2 12h3v1h-3zM-2 13h3v1h-3zM-2 14h3v1h-3zM-2 15h3v1h-3zM-2 16h3v1h-3zM-2 17h3v1h-3zM24 41h20v1h-20zM24 42h20v1h-20zM24 43h20v1h-20z"/>
<path fill="#321d5c" d="M-2 18h3v1h-3zM-2 19h3v1h-3zM22 41h2v1h-2zM22 42h2v1h-2zM22 43h2v1h-2z"/>
<path fill="#341e5f" d="M-2 41h3v1h-3zM-2 42h3v1h-3zM-2 43h3v1h-3z"/>
<path fill="#371e61" d="M-2 20h3v1h-3zM-2 40h3v1h-3zM1 41h1v1h-1zM21 41h1v1h-1zM1 42h1v1h-1zM21 42h1v1h-1zM1 43h1v1h-1zM21 43h1v1h-1z"/>
<path fill="#3a1f63" d="M-2 21h3v1h-3zM-2 38h3v1h-3zM-2 39h3v1h-3zM2 41h2v1h-2zM20 41h1v1h-1zM2 42h2v1h-2zM20 42h1v1h-1zM2 43h2v1h-2zM20 43h1v1h-1z"/>
<path fill="#3c2066" d="M-2 22h3v1h-3zM-2 23h3v1h-3zM-2 24h3v1h-3zM-2 25h3v1h-3zM-2 26h3v1h-3zM-2 27h3v1h-3zM-2 28h3v1h-3zM-2 29h3v1h-3zM-2 30h3v1h-3zM-2 31h3v1h-3zM-2 32h3v1h-3zM-2 33h3v1h-3zM-2 36h3v1h-3zM-2 37h3v1h-3zM4 41h2v1h-2zM8 41h12v1h-12zM4 42h2v1h-2zM8 42h12v1h-12zM4 43h2v1h-2zM8 43h12v1h-12z"/>
<path fill="#3f2068" d="M-2 34h3v1h-3zM-2 35h3v1h-3zM1 39h1v1h-1zM1 40h2v1h-2zM6 41h2v1h-2zM6 42h2v1h-2zM6 43h2v1h-2z"/>
<path fill="#42216a" d="M1 -2h1v1h-1zM1 -1h1v1h-1zM1 0h1v1h-1zM1 1h1v1h-1zM1 2h1v1h-1zM1 3h1v1h-1zM1 4h1v1h-1zM1 5h1v1h-1zM1 6h1v1h-1zM1 7h1v1h-1zM1 8h1v1h-1zM1 9h1v1h-1zM1 10h1v1h-1zM1 11h1v1h-1zM1 12h1v1h-1zM1 13h1v1h-1zM1 14h1v1h-1zM1 15h1v1h-1zM1 16h1v1h-1zM1 17h1v1h-1zM1 18h1v1h-1zM1 19h1v1h-1zM1 37h1v1h-1zM1 38h1v1h-1zM3 40h2v1h-2zM22 40h22v1h-22z"/>
<path fill="#44216a" d="M1 20h1v1h-1zM1 21h1v1h-1zM1 22h1v1h-1zM1 23h1v1h-1zM1 24h1v1h-1zM1 25h1v1h-1zM1 26h1v1h-1zM1 27h1v1h-1zM1 28h1v1h-1zM1 29h1v1h-1zM1 30h1v1h-1zM1 31h1v1h-1zM1 32h1v1h-1zM1 33h1v1h-1zM1 36h1v1h-1zM2 39h1v1h-1zM5 40h1v1h-1zM8 40h14v1h-14z"/>
<path fill="#47216b" d="M1 34h1v1h-1zM1 35h1v1h-1zM2 38h1v1h-1zM3 39h1v1h-1zM6 40h2v1h-2z"/>
<path fill="#4a216c" d="M2 37h1v1h-1zM4 39h1v1h-1z"/>
<path fill="#4c226c" d="M2 33h1v1h-1zM2 34h1v1h-1zM2 35h1v1h-1zM2 36h1v1h-1zM3 38h1v1h-1zM5 39h4v1h-4z"/>
<path fill="#4e226c" d="M2 -2h1v1h-1zM2 -1h1v1h-1zM2 0h1v1h-1zM2 1h1v1h-1zM2 2h1v1h-1zM2 3h1v1h-1zM2 4h1v1h-1zM2 5h1v1h-1zM2 6h1v1h-1zM2 7h1v1h-1zM2 8h1v1h-1zM2 9h1v1h-1zM2 10h1v1h-1zM2 11h1v1h-1zM2 12h1v1h-1zM2 13h1v1h-1zM2 14h1v1h-1zM2 15h1v1h-1zM2 16h1v1h-1zM2 17h1v1h-1zM2 18h1v1h-1zM2 19h1v1h-1zM2 20h1v1h-1zM2 21h1v1h-1zM2 22h1v1h-1zM2 23h1v1h-1zM2 24h1v1h-1zM2 25h1v1h-1zM2 26h1v1h-1zM2 27h1v1h-1zM2 28h1v1h-1zM2 29h1v1h-1zM2 30h1v1h-1zM2 31h1v1h-1zM2 32h1v1h-1zM3 37h1v1h-1zM4 38h1v1h-1zM9 39h35v1h-35z"/>
<path fill="#51226d" d="M3 35h1v1h-1zM3 36h1v1h-1zM5 38h2v1h-2z"/>
<path fill="#54226e" d="M3 34h1v1h-1zM4 37h1v1h-1zM7 38h1v1h-1z"/>
<path fill="#56226e" d="M3 21h1v1h-1zM3 22h1v1h-1zM3 23h1v1h-1zM3 24h1v1h-1zM3 25h1v1h-1zM3 26h1v1h-1zM3 27h1v1h-1zM3 28h1v1h-1zM3 32h1v1h-1zM3 33h1v1h-1zM4 36h1v1h-1zM5 37h1v1h-1zM8 38h2v1h-2zM13 38h8v1h-8z"/>
<path fill="#58226e" d="M3 18h1v1h-1zM3 19h1v1h-1zM3 20h1v1h-1zM3 29h1v1h-1zM3 30h1v1h-1zM3 31h1v1h-1zM4 35h1v1h-1zM6 37h1v1h-1zM10 38h3v1h-3zM21 38h3v1h-3z"/>
<path fill="#5b226e" d="M3 16h1v1h-1zM3 17h1v1h-1zM4 34h1v1h-1zM7 37h1v1h-1zM24 38h2v1h-2z"/>
<path fill="#5e226e" d="M3 -2h1v1h-1zM3 -1h1v1h-1zM3 0h1v1h-1zM3 1h1v1h-1zM3 2h1v1h-1zM3 3h1v1h-1zM3 4h1v1h-1zM3 5h1v1h-1zM3 6h1v1h-1zM3 7h1v1h-1zM3 8h1v1h-1zM3 9h1v1h-1zM3 10h1v1h-1zM3 11h1v1h-1zM3 12h1v1h-1zM3 13h1v1h-1zM3 14h1v1h-1zM3 15h1v1h-1zM4 33h1v1h-1zM5 36h1v1h-1zM8 37h1v1h-1zM26 38h18v1h-18z"/>
<path fill="#60226e" d="M4 21h1v1h-1zM4 22h1v1h-1zM4 23h1v1h-1zM4 24h1v1h-1zM4 28h1v1h-1zM4 29h1v1h-1zM4 30h1v1h-1zM4 31h1v1h-1zM4 32h1v1h-1zM5 35h1v1h-1zM6 36h1v1h-1zM9 37h5v1h-5zM17 37h4v1h-4z"/>
<path fill="#62226e" d="M4 19h1v1h-1zM4 20h1v1h-1zM4 25h1v1h-1zM4 26h1v1h-1zM4 27h1v1h-1zM5 34h1v1h-1zM7 36h1v1h-1zM14 37h3v1h-3zM21 37h2v1h-2z"/>
<path fill="#65226e" d="M4 17h1v1h-1zM4 18h1v1h-1zM5 32h1v1h-1zM5 33h1v1h-1zM8 36h2v1h-2zM23 37h2v1h-2z"/>
<path fill="#68226e" d="M4 16h1v1h-1zM5 31h1v1h-1zM6 35h1v1h-1zM10 36h1v1h-1zM25 37h1v1h-1z"/>
<path fill="#6a226e" d="M4 -2h1v1h-1zM4 -1h1v1h-1zM4 0h1v1h-1zM4 1h1v1h-1zM4 2h1v1h-1zM4 3h1v1h-1zM4 4h1v1h-1zM4 5h1v1h-1zM4 6h1v1h-1zM4 7h1v1h-1zM4 8h1v1h-1zM4 9h1v1h-1zM4 10h1v1h-1zM4 11h1v1h-1zM4 12h1v1h-1zM4 13h1v1h-1zM4 14h1v1h-1zM4 15h1v1h-1zM5 29h1v1h-1zM5 30h1v1h-1zM6 34h1v1h-1zM7 35h1v1h-1zM11 36h2v1h-2zM26 37h18v1h-18z"/>
<path fill="#6d226e" d="M5 20h1v1h-1zM5 21h1v1h-1zM5 22h1v1h-1zM5 23h1v1h-1zM5 24h1v1h-1zM5 25h1v1h-1zM5 26h1v1h-1zM5 27h1v1h-1zM5 28h1v1h-1zM6 32h1v1h-1zM6 33h1v1h-1zM8 35h2v1h-2zM13 36h9v1h-9z"/>
<path fill="#6f226e" d="M5 19h1v1h-1zM6 31h1v1h-1zM10 35h1v1h-1zM22 36h1v1h-1z"/>
<path fill="#72226d" d="M5 17h1v1h-1zM5 18h1v1h-1zM6 30h1v1h-1zM7 34h1v1h-1zM11 35h1v1h-1zM23 36h2v1h-2z"/>
<path fill="#74226d" d="M5 16h1v1h-1zM6 29h1v1h-1zM7 33h1v1h-1zM8 34h1v1h-1zM12 35h1v1h-1zM25 36h1v1h-1z"/>
<path fill="#76216d" d="M5 -2h1v1h-1zM5 -1h1v1h-1zM5 0h1v1h-1zM5 1h1v1h-1zM5 2h1v1h-1zM5 3h1v1h-1zM5 4h1v1h-1zM5 5h1v1h-1zM5 6h1v1h-1zM5 7h1v1h-1zM5 8h1v1h-1zM5 9h1v1h-1zM5 10h1v1h-1zM5 11h1v1h-1zM5 12h1v1h-1zM5 13h1v1h-1zM5 14h1v1h-1zM5 15h1v1h-1zM6 28h1v1h-1zM7 31h1v1h-1zM7 32h1v1h-1zM9 34h2v1h-2zM13 35h1v1h-1zM26 36h18v1h-18z"/>
<path fill="#79216c" d="M6 20h1v1h-1zM6 21h1v1h-1zM6 22h1v1h-1zM6 23h1v1h-1zM6 24h1v1h-1zM6 25h1v1h-1zM6 26h1v1h-1zM6 27h1v1h-1zM7 30h1v1h-1zM11 34h1v1h-1zM14 35h8v1h-8z"/>
<path fill="#7c216c" d="M6 19h1v1h-1zM8 33h1v1h-1zM22 35h1v1h-1z"/>
<path fill="#7e216c" d="M6 18h1v1h-1zM7 29h1v1h-1zM8 31h1v1h-1zM8 32h1v1h-1zM9 33h2v1h-2zM12 34h1v1h-1zM23 35h1v1h-1z"/>
<path fill="#80216c" d="M6 16h1v1h-1zM6 17h1v1h-1zM7 27h1v1h-1zM7 28h1v1h-1zM13 34h2v1h-2zM24 35h2v1h-2z"/>
<path fill="#83226b" d="M6 15h1v1h-1zM7 25h1v1h-1zM7 26h1v1h-1zM8 30h1v1h-1zM11 33h1v1h-1zM15 34h2v1h-2zM26 35h1v1h-1z"/>
<path fill="#86226a" d="M6 -2h1v1h-1zM6 -1h1v1h-1zM6 0h1v1h-1zM6 1h1v1h-1zM6 2h1v1h-1zM6 3h1v1h-1zM6 4h1v1h-1zM6 5h1v1h-1zM6 6h1v1h-1zM6 7h1v1h-1zM6 8h1v1h-1zM6 9h1v1h-1zM6 10h1v1h-1zM6 11h1v1h-1zM6 12h1v1h-1zM6 13h1v1h-1zM6 14h1v1h-1zM7 21h1v1h-1zM7 22h1v1h-1zM7 23h1v1h-1zM7 24h1v1h-1zM8 29h1v1h-1zM9 32h1v1h-1zM12 33h1v1h-1zM17 34h4v1h-4zM27 35h17v1h-17z"/>
<path fill="#88226a" d="M7 19h1v1h-1zM7 20h1v1h-1zM8 28h1v1h-1zM13 33h1v1h-1zM21 34h2v1h-2z"/>
<path fill="#8a236a" d="M7 18h1v1h-1zM8 27h1v1h-1zM9 31h1v1h-1zM10 32h1v1h-1zM14 33h1v1h-1zM23 34h1v1h-1z"/>
<path fill="#8d2369" d="M7 17h1v1h-1zM8 26h1v1h-1zM9 29h1v1h-1zM9 30h1v1h-1zM11 32h2v1h-2zM15 33h1v1h-1zM24 34h1v1h-1z"/>
<path fill="#902468" d="M7 16h1v1h-1zM8 25h1v1h-1zM16 33h1v1h-1zM25 34h1v1h-1z"/>
<path fill="#922468" d="M7 -2h1v1h-1zM7 -1h1v1h-1zM7 0h1v1h-1zM7 1h1v1h-1zM7 2h1v1h-1zM7 3h1v1h-1zM7 4h1v1h-1zM7 5h1v1h-1zM7 6h1v1h-1zM7 7h1v1h-1zM7 8h1v1h-1zM7 9h1v1h-1zM7 10h1v1h-1zM7 11h1v1h-1zM7 12h1v1h-1zM7 13h1v1h-1zM7 14h1v1h-1zM7 15h1v1h-1zM8 21h1v1h-1zM8 23h1v1h-1zM8 24h1v1h-1zM9 28h1v1h-1zM10 31h1v1h-1zM13 32h1v1h-1zM17 33h2v1h-2zM20 33h1v1h-1zM26 34h18v1h-18z"/>
<path fill="#952567" d="M8 20h1v1h-1zM8 22h1v1h-1zM9 27h1v1h-1zM10 30h1v1h-1zM11 31h1v1h-1zM14 32h1v1h-1zM19 33h1v1h-1zM21 33h1v1h-1z"/>
<path fill="#972666" d="M8 18h1v1h-1zM8 19h1v1h-1zM9 26h1v1h-1zM10 29h1v1h-1zM12 31h1v1h-1zM15 32h1v1h-1zM22 33h2v1h-2z"/>
<path fill="#9a2765" d="M8 17h1v1h-1zM9 24h1v1h-1zM9 25h1v1h-1zM10 28h1v1h-1zM11 30h1v1h-1zM13 31h1v1h-1zM16 32h2v1h-2zM24 33h1v1h-1z"/>
<path fill="#9c2864" d="M8 16h1v1h-1zM9 21h1v1h-1zM9 23h1v1h-1zM18 32h1v1h-1zM20 32h1v1h-1zM25 33h1v1h-1z"/>
<path fill="#9f2963" d="M8 -2h1v1h-1zM8 -1h1v1h-1zM8 0h1v1h-1zM8 1h1v1h-1zM8 2h1v1h-1zM8 3h1v1h-1zM8 4h1v1h-1zM8 5h1v1h-1zM8 6h1v1h-1zM8 7h1v1h-1zM8 8h1v1h-1zM8 9h1v1h-1zM8 10h1v1h-1zM8 11h1v1h-1zM8 12h1v1h-1zM8 13h1v1h-1zM8 14h1v1h-1zM8 15h1v1h-1zM9 20h1v1h-1zM9 22h1v1h-1zM10 27h1v1h-1zM11 29h1v1h-1zM12 30h1v1h-1zM14 31h1v1h-1zM19 32h1v1h-1zM21 32h1v1h-1zM26 33h18v1h-18z"/>
<path fill="#a22a62" d="M9 19h1v1h-1zM10 25h1v1h-1zM10 26h1v1h-1zM11 28h1v1h-1zM13 30h1v1h-1zM15 31h2v1h-2zM22 32h1v1h-1z"/>
<path fill="#a42b61" d="M9 18h1v1h-1zM10 24h1v1h-1zM11 27h1v1h-1zM14 30h1v1h-1zM17 31h1v1h-1zM23 32h1v1h-1z"/>
<path fill="#a72c60" d="M9 17h1v1h-1zM10 20h1v1h-1zM10 21h1v1h-1zM10 22h1v1h-1zM10 23h1v1h-1zM11 26h1v1h-1zM12 29h1v1h-1zM15 30h1v1h-1zM18 31h4v1h-4zM24 32h1v1h-1z"/>
<path fill="#aa2d5f" d="M9 16h1v1h-1zM10 19h1v1h-1zM11 25h1v1h-1zM12 27h1v1h-1zM12 28h1v1h-1zM13 29h2v1h-2zM16 30h1v1h-1zM22 31h1v1h-1zM25 32h1v1h-1z"/>
<path fill="#ac2f5e" d="M9 -2h1v1h-1zM9 -1h1v1h-1zM9 0h1v1h-1zM9 1h1v1h-1zM9 2h1v1h-1zM9 3h1v1h-1zM9 4h1v1h-1zM9 5h1v1h-1zM9 6h1v1h-1zM9 7h1v1h-1zM9 8h1v1h-1zM9 9h1v1h-1zM9 10h1v1h-1zM9 11h1v1h-1zM9 12h1v1h-1zM9 13h1v1h-1zM9 14h1v1h-1zM9 15h1v1h-1zM11 24h1v1h-1zM12 26h1v1h-1zM15 29h1v1h-1zM17 30h1v1h-1zM26 32h18v1h-18z"/>
<path fill="#ae305c" d="M10 18h1v1h-1zM11 22h1v1h-1zM11 23h1v1h-1zM13 28h1v1h-1zM18 30h2v1h-2zM23 31h1v1h-1z"/>
<path fill="#b1325b" d="M10 17h1v1h-1zM11 20h1v1h-1zM11 21h1v1h-1zM12 25h1v1h-1zM13 27h1v1h-1zM14 28h1v1h-1zM16 29h1v1h-1zM20 30h2v1h-2zM24 31h1v1h-1z"/>
<path fill="#b4345a" d="M10 16h1v1h-1zM11 19h1v1h-1zM12 24h1v1h-1zM17 29h1v1h-1zM22 30h1v1h-1zM25 31h1v1h-1z"/>
<path fill="#b63558" d="M10 -2h1v1h-1zM10 -1h1v1h-1zM10 0h1v1h-1zM10 1h1v1h-1zM10 2h1v1h-1zM10 3h1v1h-1zM10 4h1v1h-1zM10 5h1v1h-1zM10 6h1v1h-1zM10 7h1v1h-1zM10 8h1v1h-1zM10 9h1v1h-1zM10 10h1v1h-1zM10 11h1v1h-1zM10 12h1v1h-1zM10 14h1v1h-1zM10 15h1v1h-1zM11 18h1v1h-1zM12 22h1v1h-1zM12 23h1v1h-1zM13 26h1v1h-1zM15 28h1v1h-1zM18 29h2v1h-2zM23 30h1v1h-1zM26 31h2v1h-2zM29 31h15v1h-15z"/>
<path fill="#b83757" d="M10 13h1v1h-1zM11 17h1v1h-1zM12 21h1v1h-1zM13 25h1v1h-1zM14 27h1v1h-1zM16 28h1v1h-1zM20 29h1v1h-1zM24 30h1v1h-1zM28 31h1v1h-1z"/>
<path fill="#bb3856" d="M11 16h1v1h-1zM12 20h1v1h-1zM13 24h1v1h-1zM14 26h1v1h-1zM15 27h1v1h-1zM17 28h1v1h-1zM21 29h1v1h-1zM25 30h1v1h-1z"/>
<path fill="#bd3a54" d="M12 19h1v1h-1zM13 23h1v1h-1zM14 25h1v1h-1zM16 27h1v1h-1zM18 28h1v1h-1zM22 29h1v1h-1z"/>
<path fill="#bf3b53" d="M11 -2h1v1h-1zM11 -1h1v1h-1zM11 0h1v1h-1zM11 1h1v1h-1zM11 2h1v1h-1zM11 3h1v1h-1zM11 4h1v1h-1zM11 5h1v1h-1zM11 6h1v1h-1zM11 7h1v1h-1zM11 8h1v1h-1zM11 9h1v1h-1zM11 10h1v1h-1zM11 11h1v1h-1zM11 12h1v1h-1zM11 13h1v1h-1zM11 14h1v1h-1zM11 15h1v1h-1zM12 18h1v1h-1zM13 21h1v1h-1zM13 22h1v1h-1zM14 24h1v1h-1zM15 26h1v1h-1zM17 27h1v1h-1zM19 28h2v1h-2zM23 29h1v1h-1zM26 30h18v1h-18z"/>
<path fill="#c23d51" d="M12 17h1v1h-1zM13 20h1v1h-1zM15 25h1v1h-1zM16 26h1v1h-1zM21 28h1v1h-1zM24 29h1v1h-1z"/>
<path fill="#c43e4f" d="M12 16h1v1h-1zM14 23h1v1h-1zM18 27h1v1h-1zM25 29h1v1h-1z"/>
<path fill="#c6404d" d="M12 15h1v1h-1zM13 19h1v1h-1zM14 21h1v1h-1zM14 22h1v1h-1zM15 24h1v1h-1zM16 25h1v1h-1zM17 26h1v1h-1zM19 27h2v1h-2zM22 28h1v1h-1zM26 29h1v1h-1z"/>
<path fill="#c8424c" d="M12 -2h1v1h-1zM12 -1h1v1h-1zM12 0h1v1h-1zM12 1h1v1h-1zM12 2h1v1h-1zM12 3h1v1h-1zM12 4h1v1h-1zM12 5h1v1h-1zM12 6h1v1h-1zM12 7h1v1h-1zM12 8h1v1h-1zM12 9h1v1h-1zM12 10h1v1h-1zM12 11h1v1h-1zM12 12h1v1h-1zM12 13h1v1h-1zM12 14h1v1h-1zM13 18h1v1h-1zM14 20h1v1h-1zM21 27h1v1h-1zM23 28h1v1h-1zM27 29h17v1h-17z"/>
<path fill="#cb434a" d="M13 17h1v1h-1zM15 23h1v1h-1zM16 24h1v1h-1zM17 25h1v1h-1zM18 26h1v1h-1zM24 28h1v1h-1z"/>
<path fill="#cd4548" d="M13 16h1v1h-1zM14 19h1v1h-1zM15 21h1v1h-1zM15 22h1v1h-1zM19 26h2v1h-2zM22 27h1v1h-1zM25 28h1v1h-1z"/>
<path fill="#cf4746" d="M13 15h1v1h-1zM14 18h1v1h-1zM15 20h1v1h-1zM21 26h1v1h-1zM23 27h1v1h-1zM26 28h1v1h-1z"/>
<path fill="#d14945" d="M13 -2h1v1h-1zM13 -1h1v1h-1zM13 0h1v1h-1zM13 1h1v1h-1zM13 2h1v1h-1zM13 3h1v1h-1zM13 4h1v1h-1zM13 5h1v1h-1zM13 6h1v1h-1zM13 7h1v1h-1zM13 8h1v1h-1zM13 9h1v1h-1zM13 10h1v1h-1zM13 11h1v1h-1zM13 12h1v1h-1zM13 13h1v1h-1zM13 14h1v1h-1zM14 17h1v1h-1zM16 23h1v1h-1zM17 24h1v1h-1zM18 25h1v1h-1zM24 27h1v1h-1zM27 28h17v1h-17z"/>
<path fill="#d34b43" d="M15 19h1v1h-1zM16 22h1v1h-1zM19 25h1v1h-1zM22 26h1v1h-1z"/>
<path fill="#d54c41" d="M14 16h1v1h-1zM15 18h1v1h-1zM16 20h1v1h-1zM16 21h1v1h-1zM17 23h1v1h-1zM18 24h1v1h-1zM20 25h2v1h-2zM23 26h1v1h-1zM25 27h1v1h-1z"/>
<path fill="#d74e3f" d="M14 15h1v1h-1zM15 17h1v1h-1zM24 26h1v1h-1zM26 27h1v1h-1z"/>
<path fill="#d9503d" d="M14 -2h1v1h-1zM14 -1h1v1h-1zM14 0h1v1h-1zM14 1h1v1h-1zM14 2h1v1h-1zM14 3h1v1h-1zM14 4h1v1h-1zM14 5h1v1h-1zM14 6h1v1h-1zM14 7h1v1h-1zM14 8h1v1h-1zM14 9h1v1h-1zM14 10h1v1h-1zM14 11h1v1h-1zM14 12h1v1h-1zM14 13h1v1h-1zM14 14h1v1h-1zM16 19h1v1h-1zM17 21h1v1h-1zM17 22h1v1h-1zM19 24h2v1h-2zM22 25h1v1h-1zM27 27h17v1h-17z"/>
<path fill="#db523c" d="M15 16h1v1h-1zM16 18h1v1h-1zM17 20h1v1h-1zM18 23h1v1h-1zM21 24h1v1h-1zM23 25h1v1h-1zM25 26h1v1h-1z"/>
<path fill="#dd543a" d="M15 15h1v1h-1zM16 17h1v1h-1zM18 22h1v1h-1zM19 23h1v1h-1zM24 25h1v1h-1zM26 26h1v1h-1z"/>
<path fill="#de5638" d="M15 -2h1v1h-1zM15 -1h1v1h-1zM15 0h1v1h-1zM15 1h1v1h-1zM15 2h1v1h-1zM15 3h1v1h-1zM15 4h1v1h-1zM15 5h1v1h-1zM15 6h1v1h-1zM15 7h1v1h-1zM15 8h1v1h-1zM15 9h1v1h-1zM15 10h1v1h-1zM15 11h1v1h-1zM15 12h1v1h-1zM15 13h1v1h-1zM15 14h1v1h-1zM17 19h1v1h-1zM18 21h1v1h-1zM20 23h1v1h-1zM22 24h1v1h-1zM27 26h17v1h-17z"/>
<path fill="#e05936" d="M16 16h1v1h-1zM17 18h1v1h-1zM19 22h1v1h-1zM23 24h1v1h-1zM25 25h1v1h-1z"/>
<path fill="#e25c34" d="M16 15h1v1h-1zM17 17h1v1h-1zM18 20h1v1h-1zM21 23h1v1h-1zM24 24h1v1h-1zM26 25h1v1h-1z"/>
<path fill="#e35e32" d="M16 -2h1v1h-1zM16 -1h1v1h-1zM16 0h1v1h-1zM16 1h1v1h-1zM16 2h1v1h-1zM16 3h1v1h-1zM16 4h1v1h-1zM16 5h1v1h-1zM16 6h1v1h-1zM16 7h1v1h-1zM16 8h1v1h-1zM16 9h1v1h-1zM16 10h1v1h-1zM16 11h1v1h-1zM16 12h1v1h-1zM16 13h1v1h-1zM16 14h1v1h-1zM18 19h1v1h-1zM19 21h1v1h-1zM20 22h1v1h-1zM22 23h1v1h-1zM27 25h17v1h-17z"/>
<path fill="#e46030" d="M17 16h1v1h-1zM18 18h1v1h-1zM23 23h1v1h-1zM25 24h1v1h-1z"/>
<path fill="#e6632e" d="M17 15h1v1h-1zM18 17h1v1h-1zM19 20h1v1h-1zM21 22h1v1h-1zM24 23h1v1h-1zM26 24h1v1h-1z"/>
<path fill="#e8662c" d="M17 -2h1v1h-1zM17 -1h1v1h-1zM17 0h1v1h-1zM17 1h1v1h-1zM17 2h1v1h-1zM17 3h1v1h-1zM17 4h1v1h-1zM17 5h1v1h-1zM17 6h1v1h-1zM17 7h1v1h-1zM17 8h1v1h-1zM17 9h1v1h-1zM17 10h1v1h-1zM17 11h1v1h-1zM17 12h1v1h-1zM17 13h1v1h-1zM17 14h1v1h-1zM19 19h1v1h-1zM20 21h1v1h-1zM22 22h1v1h-1zM27 24h17v1h-17z"/>
<path fill="#e9682a" d="M18 16h1v1h-1zM19 18h1v1h-1zM23 22h1v1h-1zM25 23h1v1h-1z"/>
<path fill="#ea6a29" d="M18 15h1v1h-1zM19 17h1v1h-1zM20 20h1v1h-1zM21 21h1v1h-1zM24 22h1v1h-1zM26 23h1v1h-1z"/>
<path fill="#eb6d28" d="M18 -2h1v1h-1zM18 -1h1v1h-1zM18 0h1v1h-1zM18 1h1v1h-1zM18 2h1v1h-1zM18 3h1v1h-1zM18 4h1v1h-1zM18 5h1v1h-1zM18 6h1v1h-1zM18 7h1v1h-1zM18 8h1v1h-1zM18 9h1v1h-1zM18 10h1v1h-1zM18 11h1v1h-1zM18 12h1v1h-1zM18 13h1v1h-1zM18 14h1v1h-1zM20 19h1v1h-1zM22 21h1v1h-1zM27 23h17v1h-17z"/>
<path fill="#ec6f27" d="M19 16h1v1h-1zM20 18h1v1h-1zM21 20h1v1h-1zM23 21h1v1h-1zM25 22h1v1h-1z"/>
<path fill="#ed7226" d="M19 15h1v1h-1zM20 17h1v1h-1zM21 19h1v1h-1zM22 20h1v1h-1zM24 21h1v1h-1zM26 22h1v1h-1z"/>
<path fill="#ee7525" d="M19 -2h1v1h-1zM19 -1h1v1h-1zM19 0h1v1h-1zM19 1h1v1h-1zM19 2h1v1h-1zM19 3h1v1h-1zM19 4h1v1h-1zM19 5h1v1h-1zM19 6h1v1h-1zM19 7h1v1h-1zM19 8h1v1h-1zM19 9h1v1h-1zM19 10h1v1h-1zM19 11h1v1h-1zM19 12h1v1h-1zM19 14h1v1h-1zM20 16h1v1h-1zM21 18h1v1h-1zM23 20h1v1h-1zM25 21h1v1h-1zM27 22h1v1h-1zM29 22h15v1h-15z"/>
<path fill="#ef7724" d="M19 13h1v1h-1zM21 17h1v1h-1zM22 18h1v1h-1zM22 19h2v1h-2zM24 20h1v1h-1zM28 22h1v1h-1z"/>
<path fill="#f07a23" d="M20 15h1v1h-1zM21 16h1v1h-1zM22 17h1v1h-1zM23 18h1v1h-1zM24 19h1v1h-1zM25 20h1v1h-1zM26 21h1v1h-1z"/>
<path fill="#f17c22" d="M20 9h1v1h-1zM20 10h1v1h-1zM20 11h1v1h-1zM20 12h1v1h-1zM22 16h1v1h-1zM23 17h1v1h-1zM24 18h1v1h-1zM25 19h1v1h-1zM29 21h4v1h-4z"/>
<path fill="#f27f22" d="M20 -2h1v1h-1zM20 -1h1v1h-1zM20 0h1v1h-1zM20 1h1v1h-1zM20 2h1v1h-1zM20 3h1v1h-1zM20 4h1v1h-1zM20 5h1v1h-1zM20 6h1v1h-1zM20 7h1v1h-1zM20 8h1v1h-1zM21 10h2v1h-2zM21 11h1v1h-1zM20 13h1v1h-1zM20 14h1v1h-1zM21 15h1v1h-1zM23 16h1v1h-1zM24 17h1v1h-1zM25 18h1v1h-1zM31 19h1v1h-1zM26 20h1v1h-1zM30 20h2v1h-2zM27 21h2v1h-2zM33 21h11v1h-11z"/>
<path fill="#f28222" d="M21 9h1v1h-1zM23 10h1v1h-1zM22 11h2v1h-2zM21 12h1v1h-1zM21 14h1v1h-1zM22 15h1v1h-1zM24 16h1v1h-1zM25 17h1v1h-1zM30 18h2v1h-2zM26 19h1v1h-1zM30 19h1v1h-1zM27 20h1v1h-1zM29 20h1v1h-1zM32 20h1v1h-1z"/>
<path fill="#f28522" d="M21 -2h1v1h-1zM21 -1h1v1h-1zM21 0h1v1h-1zM21 1h1v1h-1zM21 2h1v1h-1zM21 3h1v1h-1zM21 4h1v1h-1zM21 5h1v1h-1zM21 6h1v1h-1zM21 8h1v1h-1zM22 9h2v1h-2zM22 12h2v1h-2zM21 13h2v1h-2zM22 14h1v1h-1zM23 15h1v1h-1zM26 18h1v1h-1zM29 18h1v1h-1zM32 18h1v1h-1zM27 19h3v1h-3zM32 19h1v1h-1zM28 20h1v1h-1zM33 20h1v1h-1zM35 20h9v1h-9z"/>
<path fill="#f38822" d="M22 -2h1v1h-1zM22 -1h1v1h-1zM22 0h1v1h-1zM22 1h1v1h-1zM22 2h1v1h-1zM22 3h1v1h-1zM22 4h1v1h-1zM22 5h1v1h-1zM22 6h1v1h-1zM21 7h1v1h-1zM22 8h1v1h-1zM24 10h1v1h-1zM24 11h1v1h-1zM23 13h1v1h-1zM23 14h1v1h-1zM24 15h1v1h-1zM26 17h1v1h-1zM30 17h2v1h-2zM27 18h2v1h-2zM33 19h1v1h-1zM35 19h9v1h-9zM34 20h1v1h-1z"/>
<path fill="#f48a21" d="M23 -2h1v1h-1zM23 -1h1v1h-1zM23 0h1v1h-1zM23 1h1v1h-1zM23 2h1v1h-1zM23 3h1v1h-1zM23 4h1v1h-1zM23 5h1v1h-1zM23 6h1v1h-1zM22 7h1v1h-1zM23 8h1v1h-1zM24 9h1v1h-1zM24 12h1v1h-1zM25 16h1v1h-1zM29 17h1v1h-1zM32 17h1v1h-1zM33 18h1v1h-1zM35 18h9v1h-9zM34 19h1v1h-1z"/>
<path fill="#f48d21" d="M23 7h1v1h-1zM24 13h1v1h-1zM24 14h1v1h-1zM27 17h2v1h-2zM34 18h1v1h-1z"/>
<path fill="#f49021" d="M24 -2h1v1h-1zM24 -1h1v1h-1zM24 0h1v1h-1zM24 1h1v1h-1zM24 2h1v1h-1zM24 3h1v1h-1zM24 4h1v1h-1zM24 5h1v1h-1zM24 6h1v1h-1zM24 7h1v1h-1zM24 8h1v1h-1zM33 17h11v1h-11z"/>
<path fill="#f59321" d="M25 10h1v1h-1zM25 11h1v1h-1zM25 15h1v1h-1zM26 16h1v1h-1zM30 16h2v1h-2z"/>
<path fill="#f59621" d="M25 9h1v1h-1zM25 12h1v1h-1zM29 16h1v1h-1zM32 16h1v1h-1z"/>
<path fill="#f69921" d="M25 13h1v1h-1zM25 14h1v1h-1zM27 16h2v1h-2z"/>
<path fill="#f69c21" d="M25 -2h1v1h-1zM25 -1h1v1h-1zM25 0h1v1h-1zM25 1h1v1h-1zM25 2h1v1h-1zM25 3h1v1h-1zM25 4h1v1h-1zM25 5h1v1h-1zM25 6h1v1h-1zM25 7h1v1h-1zM25 8h1v1h-1zM33 16h11v1h-11z"/>
<path fill="#f6a020" d="M26 10h1v1h-1zM26 15h1v1h-1zM31 15h1v1h-1z"/>
<path fill="#f6a320" d="M26 11h1v1h-1zM30 15h1v1h-1z"/>
<path fill="#f6a620" d="M26 9h1v1h-1zM32 15h1v1h-1z"/>
<path fill="#f7a920" d="M26 12h1v1h-1zM26 14h1v1h-1zM27 15h1v1h-1zM29 15h1v1h-1z"/>
<path fill="#f7ac20" d="M26 8h1v1h-1zM31 10h1v1h-1zM26 13h1v1h-1zM28 15h1v1h-1zM33 15h1v1h-1z"/>
<path fill="#f7af22" d="M26 1h1v1h-1zM26 2h1v1h-1zM26 3h1v1h-1zM26 4h1v1h-1zM26 5h1v1h-1zM26 6h1v1h-1zM26 7h1v1h-1zM27 10h1v1h-1zM30 10h1v1h-1zM31 11h1v1h-1zM31 14h1v1h-1zM34 15h7v1h-7z"/>
<path fill="#f7b224" d="M26 -2h1v1h-1zM26 -1h1v1h-1zM26 0h1v1h-1zM27 11h1v1h-1zM30 11h1v1h-1zM30 14h1v1h-1zM41 15h3v1h-3z"/>
<path fill="#f7b526" d="M27 9h1v1h-1zM31 9h1v1h-1zM28 10h2v1h-2zM32 10h1v1h-1zM31 12h1v1h-1zM31 13h1v1h-1zM27 14h1v1h-1zM32 14h1v1h-1z"/>
<path fill="#f6b828" d="M30 9h1v1h-1zM28 11h2v1h-2zM32 11h1v1h-1zM27 12h1v1h-1zM30 12h1v1h-1zM30 13h1v1h-1zM29 14h1v1h-1z"/>
<path fill="#f6bb2a" d="M27 8h1v1h-1zM28 9h1v1h-1zM32 9h1v1h-1zM27 13h1v1h-1zM32 13h1v1h-1zM28 14h1v1h-1zM33 14h1v1h-1z"/>
<path fill="#f6be2c" d="M31 2h1v1h-1zM31 3h1v1h-1zM31 4h1v1h-1zM31 5h1v1h-1zM31 8h1v1h-1zM29 9h1v1h-1zM33 10h1v1h-1zM36 10h4v1h-4zM28 12h2v1h-2zM32 12h1v1h-1zM29 13h1v1h-1z"/>
<path fill="#f6c12e" d="M27 -2h1v1h-1zM31 -2h1v1h-1zM27 -1h1v1h-1zM31 -1h1v1h-1zM27 0h1v1h-1zM31 0h1v1h-1zM27 1h1v1h-1zM31 1h1v1h-1zM27 2h1v1h-1zM27 3h1v1h-1zM27 4h1v1h-1zM27 5h1v1h-1zM27 6h1v1h-1zM31 6h1v1h-1zM27 7h1v1h-1zM31 7h1v1h-1zM32 8h1v1h-1zM33 9h1v1h-1zM34 10h2v1h-2zM40 10h4v1h-4zM28 13h1v1h-1zM34 14h10v1h-10z"/>
<path fill="#f6c430" d="M32 -2h1v1h-1zM32 -1h1v1h-1zM32 0h1v1h-1zM32 1h1v1h-1zM30 2h1v1h-1zM32 2h1v1h-1zM30 3h1v1h-1zM32 3h1v1h-1zM30 4h1v1h-1zM32 4h1v1h-1zM30 5h1v1h-1zM32 5h1v1h-1zM32 6h1v1h-1zM32 7h1v1h-1zM30 8h1v1h-1zM34 9h10v1h-10zM33 11h1v1h-1zM36 11h4v1h-4z"/>
<path fill="#f6c733" d="M30 -2h1v1h-1zM30 -1h1v1h-1zM30 0h1v1h-1zM30 1h1v1h-1zM30 6h1v1h-1zM30 7h1v1h-1zM28 8h2v1h-2zM33 8h1v1h-1zM34 11h2v1h-2zM40 11h4v1h-4zM33 12h1v1h-1zM33 13h1v1h-1z"/>
<path fill="#f5ca37" d="M28 7h1v1h-1zM33 7h1v1h-1zM34 8h1v1h-1zM34 13h1v1h-1z"/>
<path fill="#f4cc3b" d="M28 -2h2v1h-2zM28 -1h2v1h-2zM28 0h2v1h-2zM28 1h2v1h-2zM33 1h1v1h-1zM28 2h2v1h-2zM33 2h1v1h-1zM28 3h2v1h-2zM33 3h1v1h-1zM28 4h2v1h-2zM33 4h1v1h-1zM28 5h2v1h-2zM33 5h1v1h-1zM28 6h2v1h-2zM33 6h1v1h-1zM29 7h1v1h-1zM35 8h6v1h-6zM34 12h10v1h-10zM35 13h9v1h-9z"/>
<path fill="#f4cf3e" d="M33 -2h1v1h-1zM33 -1h1v1h-1zM33 0h1v1h-1zM41 8h3v1h-3z"/>
<path fill="#f4d241" d="M34 7h1v1h-1z"/>
<path fill="#f3d445" d="M34 2h1v1h-1zM34 3h1v1h-1zM34 4h1v1h-1zM34 5h1v1h-1zM34 6h1v1h-1zM35 7h5v1h-5z"/>
<path fill="#f2d749" d="M34 1h1v1h-1zM40 7h1v1h-1z"/>
<path fill="#f2da4c" d="M34 -2h1v1h-1zM34 -1h1v1h-1zM34 0h1v1h-1zM35 3h1v1h-1zM35 4h1v1h-1zM35 5h1v1h-1zM35 6h4v1h-4zM41 7h3v1h-3z"/>
<path fill="#f2dc51" d="M35 2h1v1h-1zM36 4h1v1h-1zM36 5h2v1h-2zM39 6h1v1h-1z"/>
<path fill="#f1de55" d="M35 1h1v1h-1zM36 2h1v1h-1zM36 3h1v1h-1zM38 5h2v1h-2zM40 6h1v1h-1z"/>
<path fill="#f1df5a" d="M35 -2h1v1h-1zM35 -1h1v1h-1zM35 0h1v1h-1zM36 1h2v1h-2zM37 2h1v1h-1zM37 3h1v1h-1zM37 4h4v1h-4zM40 5h1v1h-1zM41 6h3v1h-3z"/>
<path fill="#f0e15f" d="M36 -2h2v1h-2zM36 -1h2v1h-2zM36 0h2v1h-2zM38 1h1v1h-1zM38 2h1v1h-1zM38 3h3v1h-3zM41 4h3v1h-3zM41 5h3v1h-3z"/>
<path fill="#f0e364" d="M38 -2h1v1h-1zM38 -1h1v1h-1zM38 0h1v1h-1zM39 2h1v1h-1zM41 3h3v1h-3z"/>
<path fill="#f0e469" d="M39 1h1v1h-1zM40 2h1v1h-1z"/>
<path fill="#efe66d" d="M39 -2h1v1h-1zM39 -1h1v1h-1zM39 0h1v1h-1zM41 2h3v1h-3z"/>
<path fill="#f0e978" d="M40 -2h1v1h-1zM40 -1h1v1h-1zM40 0h1v1h-1zM40 1h4v1h-4z"/>
<path fill="#f2eb83" d="M41 -2h3v1h-3zM41 -1h3v1h-3zM41 0h3v1h-3z"/>
</g>
<g mask="url(#mkd)">
<rect x="810.72" y="655.9" width="20.58" height="419.75" fill="url(#bv)" opacity="0.42"/>
<rect x="810" y="1054.36" width="420" height="20.58" fill="url(#bh)" opacity="0.42"/>
<rect x="837.18" y="655.9" width="10.69" height="419.75" fill="url(#bv)" opacity="0.14"/>
<rect x="810" y="1037.8" width="420" height="10.69" fill="url(#bh)" opacity="0.14"/>
<rect x="855.87" y="655.9" width="12.97" height="419.75" fill="url(#bv)" opacity="0.31"/>
<rect x="810" y="1016.84" width="420" height="12.97" fill="url(#bh)" opacity="0.31"/>
<rect x="875.48" y="655.9" width="15.02" height="419.75" fill="url(#bv)" opacity="0.31"/>
<rect x="810" y="995.19" width="420" height="15.02" fill="url(#bh)" opacity="0.31"/>
<rect x="899.81" y="655.9" width="17.13" height="419.75" fill="url(#bv)" opacity="0.34"/>
<rect x="810" y="968.77" width="420" height="17.13" fill="url(#bh)" opacity="0.34"/>
<rect x="922.41" y="655.9" width="11.45" height="419.75" fill="url(#bv)" opacity="0.45"/>
<rect x="810" y="951.86" width="420" height="11.45" fill="url(#bh)" opacity="0.45"/>
<rect x="941.09" y="655.9" width="10.5" height="419.75" fill="url(#bv)" opacity="0.16"/>
<rect x="810" y="934.14" width="420" height="10.5" fill="url(#bh)" opacity="0.16"/>
<rect x="970.81" y="655.9" width="9.28" height="419.75" fill="url(#bv)" opacity="0.24"/>
<rect x="810" y="905.66" width="420" height="9.28" fill="url(#bh)" opacity="0.24"/>
<rect x="983.95" y="655.9" width="10.58" height="419.75" fill="url(#bv)" opacity="0.26"/>
<rect x="810" y="891.22" width="420" height="10.58" fill="url(#bh)" opacity="0.26"/>
<rect x="1010.8" y="655.9" width="12.2" height="419.75" fill="url(#bv)" opacity="0.46"/>
<rect x="810" y="862.77" width="420" height="12.2" fill="url(#bh)" opacity="0.46"/>
<rect x="1023.84" y="655.9" width="12.29" height="419.75" fill="url(#bv)" opacity="0.26"/>
<rect x="810" y="849.65" width="420" height="12.29" fill="url(#bh)" opacity="0.26"/>
<rect x="1045.33" y="655.9" width="20.18" height="419.75" fill="url(#bv)" opacity="0.24"/>
<rect x="810" y="820.29" width="420" height="20.18" fill="url(#bh)" opacity="0.24"/>
<rect x="1069.69" y="655.9" width="11.19" height="419.75" fill="url(#bv)" opacity="0.40"/>
<rect x="810" y="804.93" width="420" height="11.19" fill="url(#bh)" opacity="0.40"/>
<rect x="1094.37" y="655.9" width="8.48" height="419.75" fill="url(#bv)" opacity="0.33"/>
<rect x="810" y="782.97" width="420" height="8.48" fill="url(#bh)" opacity="0.33"/>
<rect x="1120.58" y="655.9" width="7.99" height="419.75" fill="url(#bv)" opacity="0.28"/>
<rect x="810" y="757.27" width="420" height="7.99" fill="url(#bh)" opacity="0.28"/>
<rect x="1140.03" y="655.9" width="20.85" height="419.75" fill="url(#bv)" opacity="0.33"/>
<rect x="810" y="724.98" width="420" height="20.85" fill="url(#bh)" opacity="0.33"/>
<rect x="1156.92" y="655.9" width="13.56" height="419.75" fill="url(#bv)" opacity="0.20"/>
<rect x="810" y="715.38" width="420" height="13.56" fill="url(#bh)" opacity="0.20"/>
<rect x="1181.61" y="655.9" width="10.45" height="419.75" fill="url(#bv)" opacity="0.19"/>
<rect x="810" y="693.81" width="420" height="10.45" fill="url(#bh)" opacity="0.19"/>
<rect x="1203.99" y="655.9" width="8.91" height="419.75" fill="url(#bv)" opacity="0.37"/>
<rect x="810" y="672.99" width="420" height="8.91" fill="url(#bh)" opacity="0.37"/>
</g>
</g>
<g clip-path="url(#cpd)" stroke-width="3.3" stroke-linecap="square"><line x1="810" y1="1075.65" x2="1230" y2="655.9" stroke="#e2282b"/><line x1="810" y1="655.9" x2="1230" y2="1075.65" stroke="#fff"/></g>
<path d="M810 655.9H1230V1075.65H810ZM810 1075.65v9.4M810 655.9v-9.4M810 655.9h-9.4M1230 655.9h9.4M915 1075.65v9.4M915 655.9v-9.4M810 760.84h-9.4M1230 760.84h9.4M1020 1075.65v9.4M1020 655.9v-9.4M810 865.78h-9.4M1230 865.78h9.4M1125 1075.65v9.4M1125 655.9v-9.4M810 970.71h-9.4M1230 970.71h9.4M1230 1075.65v9.4M1230 655.9v-9.4M810 1075.65h-9.4M1230 1075.65h9.4" fill="none" stroke="#000" stroke-width="2"/>
<text class="t" x="810" y="1118.15" text-anchor="middle">–5</text>
<text class="t" x="789.4" y="1085.35" text-anchor="end">–5</text>
<text class="t" x="915" y="1118.15" text-anchor="middle">–2.5</text>
<text class="t" x="789.4" y="980.41" text-anchor="end">–2.5</text>
<text class="t" x="1020" y="1118.15" text-anchor="middle">0</text>
<text class="t" x="789.4" y="875.48" text-anchor="end">0</text>
<text class="t" x="1125" y="1118.15" text-anchor="middle">2.5</text>
<text class="t" x="789.4" y="770.54" text-anchor="end">2.5</text>
<text class="t" x="1230" y="1118.15" text-anchor="middle">5</text>
<text class="t" x="789.4" y="665.6" text-anchor="end">5</text>
<text class="l" x="1020" y="1157.25" text-anchor="middle">Position <tspan class="i">x</tspan><tspan class="s" dy="8">1</tspan><tspan dy="-8"> (mm)</tspan></text>
<rect x="1251.7" y="655.9" width="15.5" height="419.75" fill="url(#cb)" stroke="#000" stroke-width="2"/>
<text class="c" x="1278.6" y="664.4">1.2</text>
<text class="c" x="1278.6" y="804.3">1.15</text>
<text class="c" x="1278.6" y="944.2">1.1</text>
<text class="c" x="1278.6" y="1084.15">1.05</text>
<path d="M1267.2 795.8h-10M1267.2 935.7h-10" fill="none" stroke="#000" stroke-width="2"/>
<text class="l i" x="1244.6" y="634.4">g<tspan class="s" dy="8" font-style="normal">2</tspan></text>
<text class="p" x="726.3" y="631.4">d</text>
<path d="M95.5 1232.9H673V1655.9H95.5ZM133.1 1655.9v-24.3M133.1 1232.9v24.3M195.85 1655.9v-13M195.85 1232.9v13M258.6 1655.9v-13M258.6 1232.9v13M321.35 1655.9v-13M321.35 1232.9v13M384.1 1655.9v-24.3M384.1 1232.9v24.3M446.85 1655.9v-13M446.85 1232.9v13M509.6 1655.9v-13M509.6 1232.9v13M572.35 1655.9v-13M572.35 1232.9v13M635.1 1655.9v-24.3M635.1 1232.9v24.3M95.5 1627.7h13M673 1627.7h-13M95.5 1599.5h13M673 1599.5h-13M95.5 1571.3h13M673 1571.3h-13M95.5 1543.1h13M673 1543.1h-13M95.5 1514.9h24.3M673 1514.9h-24.3M95.5 1486.7h13M673 1486.7h-13M95.5 1458.5h13M673 1458.5h-13M95.5 1430.3h13M673 1430.3h-13M95.5 1402.1h13M673 1402.1h-13M95.5 1373.9h24.3M673 1373.9h-24.3M95.5 1345.7h13M673 1345.7h-13M95.5 1317.5h13M673 1317.5h-13M95.5 1289.3h13M673 1289.3h-13M95.5 1261.1h13M673 1261.1h-13" fill="none" stroke="#000" stroke-width="2"/>
<g clip-path="url(#cpe)" fill="none" stroke-linejoin="round">
<path d="M95.5 1656.5L96.1 1656.5L96.7 1656.5L97.3 1656.5L98.0 1656.5L98.6 1656.5L99.2 1656.5L99.8 1656.5L100.5 1656.5L101.1 1656.5L101.7 1656.5L102.4 1656.5L103.0 1656.5L103.6 1656.5L104.2 1656.5L104.9 1656.5L105.5 1656.5L106.1 1656.5L106.7 1656.5L107.4 1656.5L108.0 1656.5L108.6 1656.5L109.3 1656.5L109.9 1656.5L110.5 1656.5L111.1 1656.5L111.8 1656.5L112.4 1656.5L113.0 1656.5L113.6 1656.5L114.3 1656.5L114.9 1656.5L115.5 1656.5L116.2 1656.5L116.8 1656.5L117.4 1656.5L118.0 1656.5L118.7 1656.5L119.3 1656.5L119.9 1656.5L120.6 1656.5L121.2 1656.5L121.8 1656.5L122.4 1656.5L123.1 1656.5L123.7 1656.5L124.3 1656.5L124.9 1656.5L125.6 1656.5L126.2 1656.5L126.8 1656.5L127.5 1656.5L128.1 1656.5L128.7 1656.5L129.3 1656.5L130.0 1656.5L130.6 1656.5L131.2 1656.5L131.8 1656.5L132.5 1656.5L133.1 1656.5L133.7 1656.5L134.4 1656.5L135.0 1656.5L135.6 1656.5L136.2 1656.5L136.9 1656.5L137.5 1656.5L138.1 1656.5L138.7 1656.5L139.4 1656.5L140.0 1656.5L140.6 1656.5L141.3 1656.5L141.9 1656.5L142.5 1656.5L143.1 1656.5L143.8 1656.5L144.4 1656.5L145.0 1656.5L145.7 1656.5L146.3 1656.5L146.9 1656.5L147.5 1656.5L148.2 1656.5L148.8 1656.5L149.4 1656.5L150.0 1656.5L150.7 1656.5L151.3 1656.5L151.9 1656.5L152.6 1656.5L153.2 1656.5L153.8 1656.5L154.4 1656.5L155.1 1656.5L155.7 1656.5L156.3 1656.5L156.9 1656.5L157.6 1656.5L158.2 1656.5L158.8 1656.5L159.5 1656.5L160.1 1656.5L160.7 1656.5L161.3 1656.5L162.0 1656.5L162.6 1656.5L163.2 1656.5L163.8 1656.5L164.5 1656.5L165.1 1656.5L165.7 1656.5L166.4 1656.5L167.0 1656.5L167.6 1656.5L168.2 1656.5L168.9 1656.5L169.5 1656.5L170.1 1656.5L170.8 1656.5L171.4 1656.5L172.0 1656.5L172.6 1656.5L173.3 1656.5L173.9 1656.5L174.5 1656.5L175.1 1656.5L175.8 1656.5L176.4 1656.5L177.0 1656.5L177.7 1656.5L178.3 1656.5L178.9 1656.5L179.5 1656.5L180.2 1656.5L180.8 1656.5L181.4 1656.5L182.0 1656.5L182.7 1656.5L183.3 1656.5L183.9 1656.5L184.6 1656.5L185.2 1656.5L185.8 1656.5L186.4 1656.5L187.1 1656.5L187.7 1656.5L188.3 1656.5L188.9 1656.5L189.6 1656.5L190.2 1656.5L190.8 1656.5L191.5 1656.5L192.1 1656.5L192.7 1656.5L193.3 1656.5L194.0 1656.5L194.6 1656.5L195.2 1656.5L195.9 1656.5L196.5 1656.5L197.1 1656.5L197.7 1656.5L198.4 1656.5L199.0 1656.5L199.6 1656.5L200.2 1656.5L200.9 1656.5L201.5 1656.5L202.1 1656.5L202.8 1656.5L203.4 1656.5L204.0 1656.5L204.6 1656.5L205.3 1656.5L205.9 1656.5L206.5 1656.5L207.1 1656.5L207.8 1656.5L208.4 1656.5L209.0 1656.5L209.7 1656.5L210.3 1656.5L210.9 1656.5L211.5 1656.5L212.2 1656.5L212.8 1656.5L213.4 1656.5L214.0 1656.5L214.7 1656.5L215.3 1656.5L215.9 1656.5L216.6 1656.5L217.2 1656.5L217.8 1656.5L218.4 1656.5L219.1 1656.5L219.7 1656.5L220.3 1656.5L221.0 1656.5L221.6 1656.5L222.2 1656.5L222.8 1656.5L223.5 1656.5L224.1 1656.5L224.7 1656.5L225.3 1656.5L226.0 1656.5L226.6 1656.5L227.2 1656.5L227.9 1656.5L228.5 1656.5L229.1 1656.5L229.7 1656.5L230.4 1656.5L231.0 1656.5L231.6 1656.5L232.2 1656.5L232.9 1656.5L233.5 1656.5L234.1 1656.5L234.8 1656.5L235.4 1656.5L236.0 1656.5L236.6 1656.5L237.3 1656.5L237.9 1656.5L238.5 1656.5L239.1 1656.5L239.8 1656.5L240.4 1656.5L241.0 1656.5L241.7 1656.5L242.3 1656.5L242.9 1656.5L243.5 1656.5L244.2 1656.5L244.8 1656.5L245.4 1656.5L246.1 1656.5L246.7 1656.5L247.3 1656.5L247.9 1656.5L248.6 1656.5L249.2 1656.5L249.8 1656.5L250.4 1656.5L251.1 1656.5L251.7 1656.5L252.3 1656.5L253.0 1656.5L253.6 1656.5L254.2 1656.5L254.8 1656.5L255.5 1656.5L256.1 1656.5L256.7 1656.5L257.3 1656.5L258.0 1656.5L258.6 1656.5L259.2 1656.5L259.9 1656.5L260.5 1656.5L261.1 1656.5L261.7 1656.5L262.4 1656.5L263.0 1656.5L263.6 1656.5L264.2 1656.5L264.9 1656.5L265.5 1656.5L266.1 1656.5L266.8 1656.5L267.4 1656.5L268.0 1656.5L268.6 1656.5L269.3 1656.5L269.9 1656.5L270.5 1656.5L271.1 1656.5L271.8 1656.5L272.4 1656.5L273.0 1656.5L273.7 1656.5L274.3 1656.5L274.9 1656.5L275.5 1656.5L276.2 1656.5L276.8 1656.5L277.4 1656.5L278.1 1656.5L278.7 1656.5L279.3 1656.5L279.9 1656.5L280.6 1656.5L281.2 1656.5L281.8 1656.5L282.4 1656.5L283.1 1656.5L283.7 1656.5L284.3 1656.5L285.0 1656.5L285.6 1656.5L286.2 1656.5L286.8 1656.5L287.5 1656.5L288.1 1656.5L288.7 1656.5L289.3 1656.5L290.0 1656.5L290.6 1656.5L291.2 1656.5L291.9 1656.5L292.5 1656.5L293.1 1656.5L293.7 1656.5L294.4 1656.5L295.0 1656.5L295.6 1656.5L296.2 1656.5L296.9 1656.5L297.5 1656.5L298.1 1656.5L298.8 1656.5L299.4 1656.5L300.0 1656.5L300.6 1656.5L301.3 1656.5L301.9 1656.5L302.5 1656.5L303.2 1656.5L303.8 1656.5L304.4 1656.5L305.0 1656.5L305.7 1656.5L306.3 1656.5L306.9 1656.5L307.5 1656.5L308.2 1656.5L308.8 1656.5L309.4 1656.5L310.1 1656.5L310.7 1656.5L311.3 1656.5L311.9 1656.5L312.6 1656.5L313.2 1656.5L313.8 1656.5L314.4 1656.5L315.1 1656.5L315.7 1656.5L316.3 1656.5L317.0 1656.5L317.6 1656.5L318.2 1656.5L318.8 1656.5L319.5 1656.5L320.1 1656.5L320.7 1656.5L321.4 1656.5L322.0 1656.5L322.6 1656.5L323.2 1656.5L323.9 1656.5L324.5 1656.5L325.1 1656.5L325.7 1656.5L326.4 1656.5L327.0 1656.5L327.6 1656.5L328.3 1656.5L328.9 1656.5L329.5 1656.5L330.1 1656.5L330.8 1656.5L331.4 1656.5L332.0 1656.5L332.6 1656.5L333.3 1656.5L333.9 1656.5L334.5 1656.5L335.2 1656.5L335.8 1656.5L336.4 1656.5L337.0 1656.5L337.7 1656.5L338.3 1656.5L338.9 1656.5L339.5 1656.5L340.2 1656.5L340.8 1656.5L341.4 1656.5L342.1 1656.5L342.7 1656.5L343.3 1656.5L343.9 1656.5L344.6 1656.5L345.2 1656.5L345.8 1656.5L346.5 1656.5L347.1 1656.4L347.7 1656.4L348.3 1656.4L349.0 1656.4L349.6 1656.4L350.2 1656.4L350.8 1656.4L351.5 1656.3L352.1 1656.3L352.7 1656.2L353.4 1656.2L354.0 1656.1L354.6 1656.0L355.2 1655.8L355.9 1655.7L356.5 1655.4L357.1 1655.2L357.7 1654.8L358.4 1654.4L359.0 1653.9L359.6 1653.3L360.3 1652.5L360.9 1651.6L361.5 1650.5L362.1 1649.2L362.8 1647.7L363.4 1645.9L364.0 1643.8L364.6 1641.4L365.3 1638.6L365.9 1635.3L366.5 1631.6L367.2 1627.4L367.8 1622.7L368.4 1617.4L369.0 1611.4L369.7 1604.8L370.3 1597.6L370.9 1589.7L371.6 1581.1L372.2 1571.8L372.8 1561.8L373.4 1551.2L374.1 1540.0L374.7 1528.3L375.3 1516.1L375.9 1503.5L376.6 1490.6L377.2 1477.5L377.8 1464.3L378.5 1451.2L379.1 1438.3L379.7 1425.8L380.3 1413.8L381.0 1402.4L381.6 1391.9L382.2 1382.2L382.8 1373.7L383.5 1366.3L384.1 1360.3L384.7 1355.6L385.4 1352.4L386.0 1350.7L386.6 1350.5L387.2 1351.8L387.9 1354.6L388.5 1358.9L389.1 1364.6L389.7 1371.5L390.4 1379.7L391.0 1388.9L391.6 1399.0L392.3 1409.9L392.9 1421.5L393.5 1433.5L394.1 1445.8L394.8 1458.4L395.4 1470.9L396.0 1483.4L396.6 1495.6L397.3 1507.5L397.9 1519.0L398.5 1530.0L399.2 1540.5L399.8 1550.3L400.4 1559.6L401.0 1568.2L401.7 1576.2L402.3 1583.6L402.9 1590.4L403.6 1596.7L404.2 1602.4L404.8 1607.6L405.4 1612.4L406.1 1616.8L406.7 1620.8L407.3 1624.5L407.9 1627.8L408.6 1630.9L409.2 1633.8L409.8 1636.4L410.5 1638.7L411.1 1640.9L411.7 1642.9L412.3 1644.7L413.0 1646.3L413.6 1647.7L414.2 1649.0L414.8 1650.2L415.5 1651.2L416.1 1652.1L416.7 1652.8L417.4 1653.5L418.0 1654.0L418.6 1654.5L419.2 1654.9L419.9 1655.2L420.5 1655.5L421.1 1655.7L421.8 1655.9L422.4 1656.0L423.0 1656.1L423.6 1656.2L424.3 1656.3L424.9 1656.3L425.5 1656.4L426.1 1656.4L426.8 1656.4L427.4 1656.4L428.0 1656.4L428.7 1656.4L429.3 1656.5L429.9 1656.5L430.5 1656.5L431.2 1656.5L431.8 1656.5L432.4 1656.5L433.0 1656.5L433.7 1656.5L434.3 1656.5L434.9 1656.5L435.6 1656.5L436.2 1656.5L436.8 1656.5L437.4 1656.5L438.1 1656.5L438.7 1656.5L439.3 1656.5L439.9 1656.5L440.6 1656.5L441.2 1656.5L441.8 1656.5L442.5 1656.5L443.1 1656.5L443.7 1656.5L444.3 1656.5L445.0 1656.5L445.6 1656.5L446.2 1656.5L446.8 1656.5L447.5 1656.5L448.1 1656.5L448.7 1656.5L449.4 1656.5L450.0 1656.5L450.6 1656.5L451.2 1656.5L451.9 1656.5L452.5 1656.5L453.1 1656.5L453.8 1656.5L454.4 1656.5L455.0 1656.5L455.6 1656.5L456.3 1656.5L456.9 1656.5L457.5 1656.5L458.1 1656.5L458.8 1656.5L459.4 1656.5L460.0 1656.5L460.7 1656.5L461.3 1656.5L461.9 1656.5L462.5 1656.5L463.2 1656.5L463.8 1656.5L464.4 1656.5L465.0 1656.5L465.7 1656.5L466.3 1656.5L466.9 1656.5L467.6 1656.5L468.2 1656.5L468.8 1656.5L469.4 1656.5L470.1 1656.5L470.7 1656.5L471.3 1656.5L471.9 1656.5L472.6 1656.5L473.2 1656.5L473.8 1656.5L474.5 1656.5L475.1 1656.5L475.7 1656.5L476.3 1656.5L477.0 1656.5L477.6 1656.5L478.2 1656.5L478.9 1656.5L479.5 1656.5L480.1 1656.5L480.7 1656.5L481.4 1656.5L482.0 1656.5L482.6 1656.5L483.2 1656.5L483.9 1656.5L484.5 1656.5L485.1 1656.5L485.8 1656.5L486.4 1656.5L487.0 1656.5L487.6 1656.5L488.3 1656.5L488.9 1656.5L489.5 1656.5L490.1 1656.5L490.8 1656.5L491.4 1656.5L492.0 1656.5L492.7 1656.5L493.3 1656.5L493.9 1656.5L494.5 1656.5L495.2 1656.5L495.8 1656.5L496.4 1656.5L497.0 1656.5L497.7 1656.5L498.3 1656.5L498.9 1656.5L499.6 1656.5L500.2 1656.5L500.8 1656.5L501.4 1656.5L502.1 1656.5L502.7 1656.5L503.3 1656.5L504.0 1656.5L504.6 1656.5L505.2 1656.5L505.8 1656.5L506.5 1656.5L507.1 1656.5L507.7 1656.5L508.3 1656.5L509.0 1656.5L509.6 1656.5L510.2 1656.5L510.9 1656.5L511.5 1656.5L512.1 1656.5L512.7 1656.5L513.4 1656.5L514.0 1656.5L514.6 1656.5L515.2 1656.5L515.9 1656.5L516.5 1656.5L517.1 1656.5L517.8 1656.5L518.4 1656.5L519.0 1656.5L519.6 1656.5L520.3 1656.5L520.9 1656.5L521.5 1656.5L522.1 1656.5L522.8 1656.5L523.4 1656.5L524.0 1656.5L524.7 1656.5L525.3 1656.5L525.9 1656.5L526.5 1656.5L527.2 1656.5L527.8 1656.5L528.4 1656.5L529.1 1656.5L529.7 1656.5L530.3 1656.5L530.9 1656.5L531.6 1656.5L532.2 1656.5L532.8 1656.5L533.4 1656.5L534.1 1656.5L534.7 1656.5L535.3 1656.5L536.0 1656.5L536.6 1656.5L537.2 1656.5L537.8 1656.5L538.5 1656.5L539.1 1656.5L539.7 1656.5L540.3 1656.5L541.0 1656.5L541.6 1656.5L542.2 1656.5L542.9 1656.5L543.5 1656.5L544.1 1656.5L544.7 1656.5L545.4 1656.5L546.0 1656.5L546.6 1656.5L547.2 1656.5L547.9 1656.5L548.5 1656.5L549.1 1656.5L549.8 1656.5L550.4 1656.5L551.0 1656.5L551.6 1656.5L552.3 1656.5L552.9 1656.5L553.5 1656.5L554.2 1656.5L554.8 1656.5L555.4 1656.5L556.0 1656.5L556.7 1656.5L557.3 1656.5L557.9 1656.5L558.5 1656.5L559.2 1656.5L559.8 1656.5L560.4 1656.5L561.1 1656.5L561.7 1656.5L562.3 1656.5L562.9 1656.5L563.6 1656.5L564.2 1656.5L564.8 1656.5L565.4 1656.5L566.1 1656.5L566.7 1656.5L567.3 1656.5L568.0 1656.5L568.6 1656.5L569.2 1656.5L569.8 1656.5L570.5 1656.5L571.1 1656.5L571.7 1656.5L572.3 1656.5L573.0 1656.5L573.6 1656.5L574.2 1656.5L574.9 1656.5L575.5 1656.5L576.1 1656.5L576.7 1656.5L577.4 1656.5L578.0 1656.5L578.6 1656.5L579.3 1656.5L579.9 1656.5L580.5 1656.5L581.1 1656.5L581.8 1656.5L582.4 1656.5L583.0 1656.5L583.6 1656.5L584.3 1656.5L584.9 1656.5L585.5 1656.5L586.2 1656.5L586.8 1656.5L587.4 1656.5L588.0 1656.5L588.7 1656.5L589.3 1656.5L589.9 1656.5L590.5 1656.5L591.2 1656.5L591.8 1656.5L592.4 1656.5L593.1 1656.5L593.7 1656.5L594.3 1656.5L594.9 1656.5L595.6 1656.5L596.2 1656.5L596.8 1656.5L597.5 1656.5L598.1 1656.5L598.7 1656.5L599.3 1656.5L600.0 1656.5L600.6 1656.5L601.2 1656.5L601.8 1656.5L602.5 1656.5L603.1 1656.5L603.7 1656.5L604.4 1656.5L605.0 1656.5L605.6 1656.5L606.2 1656.5L606.9 1656.5L607.5 1656.5L608.1 1656.5L608.7 1656.5L609.4 1656.5L610.0 1656.5L610.6 1656.5L611.3 1656.5L611.9 1656.5L612.5 1656.5L613.1 1656.5L613.8 1656.5L614.4 1656.5L615.0 1656.5L615.6 1656.5L616.3 1656.5L616.9 1656.5L617.5 1656.5L618.2 1656.5L618.8 1656.5L619.4 1656.5L620.0 1656.5L620.7 1656.5L621.3 1656.5L621.9 1656.5L622.5 1656.5L623.2 1656.5L623.8 1656.5L624.4 1656.5L625.1 1656.5L625.7 1656.5L626.3 1656.5L626.9 1656.5L627.6 1656.5L628.2 1656.5L628.8 1656.5L629.5 1656.5L630.1 1656.5L630.7 1656.5L631.3 1656.5L632.0 1656.5L632.6 1656.5L633.2 1656.5L633.8 1656.5L634.5 1656.5L635.1 1656.5L635.7 1656.5L636.4 1656.5L637.0 1656.5L637.6 1656.5L638.2 1656.5L638.9 1656.5L639.5 1656.5L640.1 1656.5L640.7 1656.5L641.4 1656.5L642.0 1656.5L642.6 1656.5L643.3 1656.5L643.9 1656.5L644.5 1656.5L645.1 1656.5L645.8 1656.5L646.4 1656.5L647.0 1656.5L647.6 1656.5L648.3 1656.5L648.9 1656.5L649.5 1656.5L650.2 1656.5L650.8 1656.5L651.4 1656.5L652.0 1656.5L652.7 1656.5L653.3 1656.5L653.9 1656.5L654.6 1656.5L655.2 1656.5L655.8 1656.5L656.4 1656.5L657.1 1656.5L657.7 1656.5L658.3 1656.5L658.9 1656.5L659.6 1656.5L660.2 1656.5L660.8 1656.5L661.5 1656.5L662.1 1656.5L662.7 1656.5L663.3 1656.5L664.0 1656.5L664.6 1656.5L665.2 1656.5L665.8 1656.5L666.5 1656.5L667.1 1656.5L667.7 1656.5L668.4 1656.5L669.0 1656.5L669.6 1656.5L670.2 1656.5L670.9 1656.5L671.5 1656.5L672.1 1656.5L672.8 1656.5" stroke="#6cbfe1" stroke-width="2.2"/>
<path d="M95.5 1655.7L96.1 1655.7L96.7 1655.7L97.3 1655.7L98.0 1655.7L98.6 1655.7L99.2 1655.7L99.8 1655.7L100.5 1655.7L101.1 1655.7L101.7 1655.7L102.4 1655.7L103.0 1655.7L103.6 1655.7L104.2 1655.7L104.9 1655.7L105.5 1655.7L106.1 1655.7L106.7 1655.7L107.4 1655.7L108.0 1655.7L108.6 1655.7L109.3 1655.7L109.9 1655.7L110.5 1655.7L111.1 1655.7L111.8 1655.7L112.4 1655.7L113.0 1655.7L113.6 1655.7L114.3 1655.7L114.9 1655.7L115.5 1655.7L116.2 1655.7L116.8 1655.7L117.4 1655.7L118.0 1655.7L118.7 1655.7L119.3 1655.7L119.9 1655.7L120.6 1655.7L121.2 1655.7L121.8 1655.7L122.4 1655.7L123.1 1655.7L123.7 1655.7L124.3 1655.7L124.9 1655.7L125.6 1655.7L126.2 1655.7L126.8 1655.7L127.5 1655.6L128.1 1655.6L128.7 1655.6L129.3 1655.6L130.0 1655.6L130.6 1655.6L131.2 1655.6L131.8 1655.6L132.5 1655.6L133.1 1655.6L133.7 1655.6L134.4 1655.6L135.0 1655.6L135.6 1655.6L136.2 1655.6L136.9 1655.6L137.5 1655.6L138.1 1655.6L138.7 1655.6L139.4 1655.6L140.0 1655.6L140.6 1655.6L141.3 1655.6L141.9 1655.6L142.5 1655.6L143.1 1655.6L143.8 1655.6L144.4 1655.6L145.0 1655.6L145.7 1655.6L146.3 1655.6L146.9 1655.6L147.5 1655.6L148.2 1655.6L148.8 1655.6L149.4 1655.6L150.0 1655.6L150.7 1655.6L151.3 1655.6L151.9 1655.6L152.6 1655.6L153.2 1655.6L153.8 1655.6L154.4 1655.6L155.1 1655.6L155.7 1655.6L156.3 1655.6L156.9 1655.6L157.6 1655.6L158.2 1655.6L158.8 1655.6L159.5 1655.6L160.1 1655.6L160.7 1655.6L161.3 1655.6L162.0 1655.6L162.6 1655.6L163.2 1655.6L163.8 1655.6L164.5 1655.6L165.1 1655.6L165.7 1655.6L166.4 1655.6L167.0 1655.6L167.6 1655.5L168.2 1655.5L168.9 1655.5L169.5 1655.5L170.1 1655.5L170.8 1655.5L171.4 1655.5L172.0 1655.5L172.6 1655.5L173.3 1655.5L173.9 1655.5L174.5 1655.5L175.1 1655.5L175.8 1655.5L176.4 1655.5L177.0 1655.5L177.7 1655.5L178.3 1655.5L178.9 1655.5L179.5 1655.5L180.2 1655.5L180.8 1655.5L181.4 1655.5L182.0 1655.5L182.7 1655.5L183.3 1655.5L183.9 1655.5L184.6 1655.5L185.2 1655.5L185.8 1655.5L186.4 1655.5L187.1 1655.5L187.7 1655.5L188.3 1655.5L188.9 1655.5L189.6 1655.5L190.2 1655.5L190.8 1655.5L191.5 1655.5L192.1 1655.5L192.7 1655.5L193.3 1655.4L194.0 1655.4L194.6 1655.4L195.2 1655.4L195.9 1655.4L196.5 1655.4L197.1 1655.4L197.7 1655.4L198.4 1655.4L199.0 1655.4L199.6 1655.4L200.2 1655.4L200.9 1655.4L201.5 1655.4L202.1 1655.4L202.8 1655.4L203.4 1655.4L204.0 1655.4L204.6 1655.4L205.3 1655.4L205.9 1655.4L206.5 1655.4L207.1 1655.4L207.8 1655.4L208.4 1655.4L209.0 1655.4L209.7 1655.4L210.3 1655.4L210.9 1655.4L211.5 1655.3L212.2 1655.3L212.8 1655.3L213.4 1655.3L214.0 1655.3L214.7 1655.3L215.3 1655.3L215.9 1655.3L216.6 1655.3L217.2 1655.3L217.8 1655.3L218.4 1655.3L219.1 1655.3L219.7 1655.3L220.3 1655.3L221.0 1655.3L221.6 1655.3L222.2 1655.3L222.8 1655.3L223.5 1655.3L224.1 1655.3L224.7 1655.3L225.3 1655.2L226.0 1655.2L226.6 1655.2L227.2 1655.2L227.9 1655.2L228.5 1655.2L229.1 1655.2L229.7 1655.2L230.4 1655.2L231.0 1655.2L231.6 1655.2L232.2 1655.2L232.9 1655.2L233.5 1655.2L234.1 1655.2L234.8 1655.2L235.4 1655.2L236.0 1655.2L236.6 1655.1L237.3 1655.1L237.9 1655.1L238.5 1655.1L239.1 1655.1L239.8 1655.1L240.4 1655.1L241.0 1655.1L241.7 1655.1L242.3 1655.1L242.9 1655.1L243.5 1655.1L244.2 1655.1L244.8 1655.1L245.4 1655.1L246.1 1655.0L246.7 1655.0L247.3 1655.0L247.9 1655.0L248.6 1655.0L249.2 1655.0L249.8 1655.0L250.4 1655.0L251.1 1655.0L251.7 1655.0L252.3 1655.0L253.0 1655.0L253.6 1654.9L254.2 1654.9L254.8 1654.9L255.5 1654.9L256.1 1654.9L256.7 1654.9L257.3 1654.9L258.0 1654.9L258.6 1654.9L259.2 1654.9L259.9 1654.8L260.5 1654.8L261.1 1654.8L261.7 1654.8L262.4 1654.8L263.0 1654.8L263.6 1654.8L264.2 1654.8L264.9 1654.8L265.5 1654.7L266.1 1654.7L266.8 1654.7L267.4 1654.7L268.0 1654.7L268.6 1654.7L269.3 1654.7L269.9 1654.7L270.5 1654.6L271.1 1654.6L271.8 1654.6L272.4 1654.6L273.0 1654.6L273.7 1654.6L274.3 1654.6L274.9 1654.5L275.5 1654.5L276.2 1654.5L276.8 1654.5L277.4 1654.5L278.1 1654.5L278.7 1654.4L279.3 1654.4L279.9 1654.4L280.6 1654.4L281.2 1654.4L281.8 1654.4L282.4 1654.3L283.1 1654.3L283.7 1654.3L284.3 1654.3L285.0 1654.3L285.6 1654.2L286.2 1654.2L286.8 1654.2L287.5 1654.2L288.1 1654.2L288.7 1654.1L289.3 1654.1L290.0 1654.1L290.6 1654.1L291.2 1654.0L291.9 1654.0L292.5 1654.0L293.1 1654.0L293.7 1653.9L294.4 1653.9L295.0 1653.9L295.6 1653.9L296.2 1653.8L296.9 1653.8L297.5 1653.8L298.1 1653.7L298.8 1653.7L299.4 1653.7L300.0 1653.6L300.6 1653.6L301.3 1653.6L301.9 1653.5L302.5 1653.5L303.2 1653.5L303.8 1653.4L304.4 1653.4L305.0 1653.4L305.7 1653.3L306.3 1653.3L306.9 1653.2L307.5 1653.2L308.2 1653.1L308.8 1653.1L309.4 1653.1L310.1 1653.0L310.7 1653.0L311.3 1652.9L311.9 1652.9L312.6 1652.8L313.2 1652.8L313.8 1652.7L314.4 1652.7L315.1 1652.6L315.7 1652.5L316.3 1652.5L317.0 1652.4L317.6 1652.4L318.2 1652.3L318.8 1652.2L319.5 1652.2L320.1 1652.1L320.7 1652.0L321.4 1651.9L322.0 1651.9L322.6 1651.8L323.2 1651.7L323.9 1651.6L324.5 1651.5L325.1 1651.5L325.7 1651.4L326.4 1651.3L327.0 1651.2L327.6 1651.1L328.3 1651.0L328.9 1650.9L329.5 1650.8L330.1 1650.7L330.8 1650.5L331.4 1650.4L332.0 1650.3L332.6 1650.2L333.3 1650.0L333.9 1649.9L334.5 1649.8L335.2 1649.6L335.8 1649.5L336.4 1649.3L337.0 1649.2L337.7 1649.0L338.3 1648.8L338.9 1648.6L339.5 1648.4L340.2 1648.2L340.8 1648.0L341.4 1647.8L342.1 1647.6L342.7 1647.3L343.3 1647.1L343.9 1646.8L344.6 1646.5L345.2 1646.2L345.8 1645.9L346.5 1645.5L347.1 1645.1L347.7 1644.7L348.3 1644.3L349.0 1643.8L349.6 1643.3L350.2 1642.7L350.8 1642.0L351.5 1641.3L352.1 1640.5L352.7 1639.7L353.4 1638.7L354.0 1637.7L354.6 1636.5L355.2 1635.3L355.9 1633.8L356.5 1632.3L357.1 1630.5L357.7 1628.6L358.4 1626.5L359.0 1624.2L359.6 1621.7L360.3 1618.9L360.9 1615.8L361.5 1612.5L362.1 1608.9L362.8 1605.0L363.4 1600.8L364.0 1596.2L364.6 1591.3L365.3 1586.0L365.9 1580.4L366.5 1574.4L367.2 1568.1L367.8 1561.5L368.4 1554.5L369.0 1547.1L369.7 1539.5L370.3 1531.6L370.9 1523.4L371.6 1515.0L372.2 1506.5L372.8 1497.7L373.4 1489.0L374.1 1480.1L374.7 1471.3L375.3 1462.6L375.9 1454.0L376.6 1445.6L377.2 1437.6L377.8 1429.9L378.5 1422.6L379.1 1415.8L379.7 1409.6L380.3 1404.0L381.0 1399.2L381.6 1395.0L382.2 1391.7L382.8 1389.3L383.5 1387.6L384.1 1386.9L384.7 1387.3L385.4 1388.9L386.0 1391.8L386.6 1395.7L387.2 1400.7L387.9 1406.6L388.5 1413.2L389.1 1420.5L389.7 1428.4L390.4 1436.7L391.0 1445.3L391.6 1454.2L392.3 1463.2L392.9 1472.4L393.5 1481.5L394.1 1490.7L394.8 1499.8L395.4 1508.8L396.0 1517.6L396.6 1526.3L397.3 1534.7L397.9 1542.8L398.5 1550.7L399.2 1558.3L399.8 1565.5L400.4 1572.5L401.0 1579.0L401.7 1585.2L402.3 1591.1L402.9 1596.6L403.6 1601.7L404.2 1606.5L404.8 1610.9L405.4 1615.0L406.1 1618.8L406.7 1622.3L407.3 1625.4L407.9 1628.3L408.6 1631.0L409.2 1633.4L409.8 1635.5L410.5 1637.5L411.1 1639.2L411.7 1640.8L412.3 1642.2L413.0 1643.4L413.6 1644.5L414.2 1645.5L414.8 1646.4L415.5 1647.2L416.1 1647.9L416.7 1648.5L417.4 1649.0L418.0 1649.5L418.6 1649.9L419.2 1650.3L419.9 1650.6L420.5 1650.9L421.1 1651.2L421.8 1651.4L422.4 1651.7L423.0 1651.9L423.6 1652.0L424.3 1652.2L424.9 1652.3L425.5 1652.5L426.1 1652.6L426.8 1652.7L427.4 1652.8L428.0 1652.9L428.7 1653.0L429.3 1653.1L429.9 1653.1L430.5 1653.2L431.2 1653.3L431.8 1653.4L432.4 1653.4L433.0 1653.5L433.7 1653.6L434.3 1653.6L434.9 1653.7L435.6 1653.7L436.2 1653.8L436.8 1653.8L437.4 1653.9L438.1 1653.9L438.7 1654.0L439.3 1654.0L439.9 1654.0L440.6 1654.1L441.2 1654.1L441.8 1654.2L442.5 1654.2L443.1 1654.2L443.7 1654.3L444.3 1654.3L445.0 1654.3L445.6 1654.4L446.2 1654.4L446.8 1654.4L447.5 1654.4L448.1 1654.5L448.7 1654.5L449.4 1654.5L450.0 1654.6L450.6 1654.6L451.2 1654.6L451.9 1654.6L452.5 1654.6L453.1 1654.7L453.8 1654.7L454.4 1654.7L455.0 1654.7L455.6 1654.8L456.3 1654.8L456.9 1654.8L457.5 1654.8L458.1 1654.8L458.8 1654.8L459.4 1654.9L460.0 1654.9L460.7 1654.9L461.3 1654.9L461.9 1654.9L462.5 1654.9L463.2 1655.0L463.8 1655.0L464.4 1655.0L465.0 1655.0L465.7 1655.0L466.3 1655.0L466.9 1655.0L467.6 1655.1L468.2 1655.1L468.8 1655.1L469.4 1655.1L470.1 1655.1L470.7 1655.1L471.3 1655.1L471.9 1655.1L472.6 1655.1L473.2 1655.2L473.8 1655.2L474.5 1655.2L475.1 1655.2L475.7 1655.2L476.3 1655.2L477.0 1655.2L477.6 1655.2L478.2 1655.2L478.9 1655.2L479.5 1655.3L480.1 1655.3L480.7 1655.3L481.4 1655.3L482.0 1655.3L482.6 1655.3L483.2 1655.3L483.9 1655.3L484.5 1655.3L485.1 1655.3L485.8 1655.3L486.4 1655.3L487.0 1655.3L487.6 1655.3L488.3 1655.4L488.9 1655.4L489.5 1655.4L490.1 1655.4L490.8 1655.4L491.4 1655.4L492.0 1655.4L492.7 1655.4L493.3 1655.4L493.9 1655.4L494.5 1655.4L495.2 1655.4L495.8 1655.4L496.4 1655.4L497.0 1655.4L497.7 1655.4L498.3 1655.4L498.9 1655.5L499.6 1655.5L500.2 1655.5L500.8 1655.5L501.4 1655.5L502.1 1655.5L502.7 1655.5L503.3 1655.5L504.0 1655.5L504.6 1655.5L505.2 1655.5L505.8 1655.5L506.5 1655.5L507.1 1655.5L507.7 1655.5L508.3 1655.5L509.0 1655.5L509.6 1655.5L510.2 1655.5L510.9 1655.5L511.5 1655.5L512.1 1655.5L512.7 1655.5L513.4 1655.5L514.0 1655.5L514.6 1655.6L515.2 1655.6L515.9 1655.6L516.5 1655.6L517.1 1655.6L517.8 1655.6L518.4 1655.6L519.0 1655.6L519.6 1655.6L520.3 1655.6L520.9 1655.6L521.5 1655.6L522.1 1655.6L522.8 1655.6L523.4 1655.6L524.0 1655.6L524.7 1655.6L525.3 1655.6L525.9 1655.6L526.5 1655.6L527.2 1655.6L527.8 1655.6L528.4 1655.6L529.1 1655.6L529.7 1655.6L530.3 1655.6L530.9 1655.6L531.6 1655.6L532.2 1655.6L532.8 1655.6L533.4 1655.6L534.1 1655.6L534.7 1655.6L535.3 1655.6L536.0 1655.6L536.6 1655.6L537.2 1655.6L537.8 1655.6L538.5 1655.7L539.1 1655.7L539.7 1655.7L540.3 1655.7L541.0 1655.7L541.6 1655.7L542.2 1655.7L542.9 1655.7L543.5 1655.7L544.1 1655.7L544.7 1655.7L545.4 1655.7L546.0 1655.7L546.6 1655.7L547.2 1655.7L547.9 1655.7L548.5 1655.7L549.1 1655.7L549.8 1655.7L550.4 1655.7L551.0 1655.7L551.6 1655.7L552.3 1655.7L552.9 1655.7L553.5 1655.7L554.2 1655.7L554.8 1655.7L555.4 1655.7L556.0 1655.7L556.7 1655.7L557.3 1655.7L557.9 1655.7L558.5 1655.7L559.2 1655.7L559.8 1655.7L560.4 1655.7L561.1 1655.7L561.7 1655.7L562.3 1655.7L562.9 1655.7L563.6 1655.7L564.2 1655.7L564.8 1655.7L565.4 1655.7L566.1 1655.7L566.7 1655.7L567.3 1655.7L568.0 1655.7L568.6 1655.7L569.2 1655.7L569.8 1655.7L570.5 1655.7L571.1 1655.7L571.7 1655.7L572.3 1655.7L573.0 1655.7L573.6 1655.7L574.2 1655.7L574.9 1655.7L575.5 1655.7L576.1 1655.7L576.7 1655.7L577.4 1655.7L578.0 1655.7L578.6 1655.7L579.3 1655.7L579.9 1655.7L580.5 1655.7L581.1 1655.7L581.8 1655.7L582.4 1655.7L583.0 1655.7L583.6 1655.8L584.3 1655.8L584.9 1655.8L585.5 1655.8L586.2 1655.8L586.8 1655.8L587.4 1655.8L588.0 1655.8L588.7 1655.8L589.3 1655.8L589.9 1655.8L590.5 1655.8L591.2 1655.8L591.8 1655.8L592.4 1655.8L593.1 1655.8L593.7 1655.8L594.3 1655.8L594.9 1655.8L595.6 1655.8L596.2 1655.8L596.8 1655.8L597.5 1655.8L598.1 1655.8L598.7 1655.8L599.3 1655.8L600.0 1655.8L600.6 1655.8L601.2 1655.8L601.8 1655.8L602.5 1655.8L603.1 1655.8L603.7 1655.8L604.4 1655.8L605.0 1655.8L605.6 1655.8L606.2 1655.8L606.9 1655.8L607.5 1655.8L608.1 1655.8L608.7 1655.8L609.4 1655.8L610.0 1655.8L610.6 1655.8L611.3 1655.8L611.9 1655.8L612.5 1655.8L613.1 1655.8L613.8 1655.8L614.4 1655.8L615.0 1655.8L615.6 1655.8L616.3 1655.8L616.9 1655.8L617.5 1655.8L618.2 1655.8L618.8 1655.8L619.4 1655.8L620.0 1655.8L620.7 1655.8L621.3 1655.8L621.9 1655.8L622.5 1655.8L623.2 1655.8L623.8 1655.8L624.4 1655.8L625.1 1655.8L625.7 1655.8L626.3 1655.8L626.9 1655.8L627.6 1655.8L628.2 1655.8L628.8 1655.8L629.5 1655.8L630.1 1655.8L630.7 1655.8L631.3 1655.8L632.0 1655.8L632.6 1655.8L633.2 1655.8L633.8 1655.8L634.5 1655.8L635.1 1655.8L635.7 1655.8L636.4 1655.8L637.0 1655.8L637.6 1655.8L638.2 1655.8L638.9 1655.8L639.5 1655.8L640.1 1655.8L640.7 1655.8L641.4 1655.8L642.0 1655.8L642.6 1655.8L643.3 1655.8L643.9 1655.8L644.5 1655.8L645.1 1655.8L645.8 1655.8L646.4 1655.8L647.0 1655.8L647.6 1655.8L648.3 1655.8L648.9 1655.8L649.5 1655.8L650.2 1655.8L650.8 1655.8L651.4 1655.8L652.0 1655.8L652.7 1655.8L653.3 1655.8L653.9 1655.8L654.6 1655.8L655.2 1655.8L655.8 1655.8L656.4 1655.8L657.1 1655.8L657.7 1655.8L658.3 1655.8L658.9 1655.8L659.6 1655.8L660.2 1655.8L660.8 1655.8L661.5 1655.8L662.1 1655.8L662.7 1655.8L663.3 1655.8L664.0 1655.8L664.6 1655.8L665.2 1655.8L665.8 1655.8L666.5 1655.8L667.1 1655.8L667.7 1655.8L668.4 1655.8L669.0 1655.8L669.6 1655.8L670.2 1655.8L670.9 1655.8L671.5 1655.8L672.1 1655.8L672.8 1655.8" stroke="#000" stroke-width="2.2"/>
<path d="M95.5 1655.9L96.1 1655.9L96.7 1655.9L97.3 1655.9L98.0 1655.9L98.6 1655.9L99.2 1655.9L99.8 1655.9L100.5 1655.9L101.1 1655.9L101.7 1655.9L102.4 1655.9L103.0 1655.9L103.6 1655.9L104.2 1655.9L104.9 1655.9L105.5 1655.9L106.1 1655.9L106.7 1655.9L107.4 1655.9L108.0 1655.9L108.6 1655.9L109.3 1655.9L109.9 1655.9L110.5 1655.9L111.1 1655.9L111.8 1655.9L112.4 1655.9L113.0 1655.9L113.6 1655.9L114.3 1655.9L114.9 1655.9L115.5 1655.9L116.2 1655.9L116.8 1655.9L117.4 1655.9L118.0 1655.9L118.7 1655.9L119.3 1655.9L119.9 1655.9L120.6 1655.9L121.2 1655.9L121.8 1655.9L122.4 1655.9L123.1 1655.9L123.7 1655.9L124.3 1655.9L124.9 1655.9L125.6 1655.9L126.2 1655.9L126.8 1655.9L127.5 1655.9L128.1 1655.9L128.7 1655.9L129.3 1655.9L130.0 1655.9L130.6 1655.9L131.2 1655.9L131.8 1655.9L132.5 1655.9L133.1 1655.9L133.7 1655.9L134.4 1655.9L135.0 1655.9L135.6 1655.9L136.2 1655.9L136.9 1655.9L137.5 1655.9L138.1 1655.9L138.7 1655.9L139.4 1655.9L140.0 1655.9L140.6 1655.9L141.3 1655.9L141.9 1655.9L142.5 1655.9L143.1 1655.9L143.8 1655.9L144.4 1655.9L145.0 1655.9L145.7 1655.9L146.3 1655.9L146.9 1655.9L147.5 1655.9L148.2 1655.9L148.8 1655.9L149.4 1655.9L150.0 1655.9L150.7 1655.9L151.3 1655.9L151.9 1655.9L152.6 1655.9L153.2 1655.9L153.8 1655.9L154.4 1655.9L155.1 1655.9L155.7 1655.9L156.3 1655.9L156.9 1655.9L157.6 1655.9L158.2 1655.9L158.8 1655.9L159.5 1655.9L160.1 1655.9L160.7 1655.9L161.3 1655.9L162.0 1655.9L162.6 1655.9L163.2 1655.9L163.8 1655.9L164.5 1655.9L165.1 1655.9L165.7 1655.9L166.4 1655.9L167.0 1655.9L167.6 1655.9L168.2 1655.9L168.9 1655.9L169.5 1655.9L170.1 1655.9L170.8 1655.9L171.4 1655.9L172.0 1655.9L172.6 1655.9L173.3 1655.9L173.9 1655.9L174.5 1655.9L175.1 1655.9L175.8 1655.9L176.4 1655.9L177.0 1655.9L177.7 1655.9L178.3 1655.9L178.9 1655.9L179.5 1655.9L180.2 1655.9L180.8 1655.9L181.4 1655.9L182.0 1655.9L182.7 1655.9L183.3 1655.9L183.9 1655.9L184.6 1655.9L185.2 1655.9L185.8 1655.9L186.4 1655.9L187.1 1655.9L187.7 1655.9L188.3 1655.9L188.9 1655.9L189.6 1655.9L190.2 1655.9L190.8 1655.9L191.5 1655.9L192.1 1655.9L192.7 1655.9L193.3 1655.9L194.0 1655.9L194.6 1655.9L195.2 1655.9L195.9 1655.9L196.5 1655.9L197.1 1655.9L197.7 1655.9L198.4 1655.9L199.0 1655.9L199.6 1655.9L200.2 1655.9L200.9 1655.9L201.5 1655.9L202.1 1655.9L202.8 1655.9L203.4 1655.9L204.0 1655.9L204.6 1655.9L205.3 1655.9L205.9 1655.9L206.5 1655.9L207.1 1655.9L207.8 1655.9L208.4 1655.9L209.0 1655.9L209.7 1655.9L210.3 1655.9L210.9 1655.9L211.5 1655.9L212.2 1655.9L212.8 1655.9L213.4 1655.9L214.0 1655.9L214.7 1655.9L215.3 1655.9L215.9 1655.9L216.6 1655.9L217.2 1655.9L217.8 1655.9L218.4 1655.9L219.1 1655.9L219.7 1655.9L220.3 1655.9L221.0 1655.9L221.6 1655.9L222.2 1655.9L222.8 1655.9L223.5 1655.9L224.1 1655.9L224.7 1655.9L225.3 1655.9L226.0 1655.9L226.6 1655.9L227.2 1655.9L227.9 1655.9L228.5 1655.9L229.1 1655.9L229.7 1655.9L230.4 1655.9L231.0 1655.9L231.6 1655.9L232.2 1655.9L232.9 1655.9L233.5 1655.9L234.1 1655.9L234.8 1655.9L235.4 1655.9L236.0 1655.9L236.6 1655.9L237.3 1655.9L237.9 1655.9L238.5 1655.9L239.1 1655.9L239.8 1655.9L240.4 1655.9L241.0 1655.9L241.7 1655.9L242.3 1655.9L242.9 1655.9L243.5 1655.9L244.2 1655.9L244.8 1655.9L245.4 1655.9L246.1 1655.9L246.7 1655.9L247.3 1655.9L247.9 1655.9L248.6 1655.9L249.2 1655.9L249.8 1655.9L250.4 1655.9L251.1 1655.9L251.7 1655.9L252.3 1655.9L253.0 1655.9L253.6 1655.9L254.2 1655.9L254.8 1655.9L255.5 1655.9L256.1 1655.9L256.7 1655.9L257.3 1655.9L258.0 1655.9L258.6 1655.9L259.2 1655.9L259.9 1655.9L260.5 1655.9L261.1 1655.9L261.7 1655.9L262.4 1655.9L263.0 1655.9L263.6 1655.9L264.2 1655.9L264.9 1655.9L265.5 1655.9L266.1 1655.9L266.8 1655.9L267.4 1655.9L268.0 1655.9L268.6 1655.9L269.3 1655.9L269.9 1655.9L270.5 1655.9L271.1 1655.9L271.8 1655.9L272.4 1655.9L273.0 1655.9L273.7 1655.9L274.3 1655.9L274.9 1655.9L275.5 1655.9L276.2 1655.9L276.8 1655.9L277.4 1655.9L278.1 1655.9L278.7 1655.9L279.3 1655.9L279.9 1655.9L280.6 1655.9L281.2 1655.9L281.8 1655.9L282.4 1655.9L283.1 1655.9L283.7 1655.9L284.3 1655.9L285.0 1655.9L285.6 1655.9L286.2 1655.9L286.8 1655.9L287.5 1655.9L288.1 1655.9L288.7 1655.9L289.3 1655.9L290.0 1655.9L290.6 1655.9L291.2 1655.9L291.9 1655.9L292.5 1655.9L293.1 1655.9L293.7 1655.9L294.4 1655.9L295.0 1655.9L295.6 1655.9L296.2 1655.9L296.9 1655.9L297.5 1655.9L298.1 1655.9L298.8 1655.9L299.4 1655.9L300.0 1655.9L300.6 1655.9L301.3 1655.9L301.9 1655.9L302.5 1655.9L303.2 1655.9L303.8 1655.9L304.4 1655.9L305.0 1655.9L305.7 1655.9L306.3 1655.9L306.9 1655.9L307.5 1655.9L308.2 1655.9L308.8 1655.9L309.4 1655.9L310.1 1655.9L310.7 1655.9L311.3 1655.9L311.9 1655.9L312.6 1655.9L313.2 1655.9L313.8 1655.9L314.4 1655.9L315.1 1655.9L315.7 1655.9L316.3 1655.9L317.0 1655.9L317.6 1655.9L318.2 1655.9L318.8 1655.9L319.5 1655.9L320.1 1655.9L320.7 1655.9L321.4 1655.9L322.0 1655.9L322.6 1655.9L323.2 1655.9L323.9 1655.9L324.5 1655.9L325.1 1655.9L325.7 1655.9L326.4 1655.9L327.0 1655.9L327.6 1655.9L328.3 1655.9L328.9 1655.9L329.5 1655.9L330.1 1655.9L330.8 1655.9L331.4 1655.9L332.0 1655.9L332.6 1655.9L333.3 1655.9L333.9 1655.9L334.5 1655.9L335.2 1655.9L335.8 1655.9L336.4 1655.9L337.0 1655.9L337.7 1655.8L338.3 1655.8L338.9 1655.8L339.5 1655.8L340.2 1655.8L340.8 1655.7L341.4 1655.7L342.1 1655.6L342.7 1655.6L343.3 1655.5L343.9 1655.4L344.6 1655.3L345.2 1655.2L345.8 1655.0L346.5 1654.8L347.1 1654.6L347.7 1654.4L348.3 1654.1L349.0 1653.7L349.6 1653.3L350.2 1652.8L350.8 1652.3L351.5 1651.6L352.1 1650.9L352.7 1650.1L353.4 1649.1L354.0 1648.0L354.6 1646.8L355.2 1645.3L355.9 1643.8L356.5 1642.0L357.1 1640.0L357.7 1637.7L358.4 1635.3L359.0 1632.5L359.6 1629.5L360.3 1626.1L360.9 1622.5L361.5 1618.5L362.1 1614.2L362.8 1609.5L363.4 1604.4L364.0 1599.0L364.6 1593.2L365.3 1587.0L365.9 1580.4L366.5 1573.5L367.2 1566.2L367.8 1558.5L368.4 1550.6L369.0 1542.3L369.7 1533.7L370.3 1525.0L370.9 1516.0L371.6 1506.8L372.2 1497.6L372.8 1488.3L373.4 1479.0L374.1 1469.7L374.7 1460.6L375.3 1451.7L375.9 1443.0L376.6 1434.6L377.2 1426.6L377.8 1419.1L378.5 1412.0L379.1 1405.5L379.7 1399.7L380.3 1394.5L381.0 1390.0L381.6 1386.3L382.2 1383.4L382.8 1381.2L383.5 1380.0L384.1 1379.5L384.7 1380.0L385.4 1381.2L386.0 1383.4L386.6 1386.3L387.2 1390.0L387.9 1394.5L388.5 1399.7L389.1 1405.5L389.7 1412.0L390.4 1419.1L391.0 1426.6L391.6 1434.6L392.3 1443.0L392.9 1451.7L393.5 1460.6L394.1 1469.7L394.8 1479.0L395.4 1488.3L396.0 1497.6L396.6 1506.8L397.3 1516.0L397.9 1525.0L398.5 1533.7L399.2 1542.3L399.8 1550.6L400.4 1558.5L401.0 1566.2L401.7 1573.5L402.3 1580.4L402.9 1587.0L403.6 1593.2L404.2 1599.0L404.8 1604.4L405.4 1609.5L406.1 1614.2L406.7 1618.5L407.3 1622.5L407.9 1626.1L408.6 1629.5L409.2 1632.5L409.8 1635.3L410.5 1637.7L411.1 1640.0L411.7 1642.0L412.3 1643.8L413.0 1645.3L413.6 1646.8L414.2 1648.0L414.8 1649.1L415.5 1650.1L416.1 1650.9L416.7 1651.6L417.4 1652.3L418.0 1652.8L418.6 1653.3L419.2 1653.7L419.9 1654.1L420.5 1654.4L421.1 1654.6L421.8 1654.8L422.4 1655.0L423.0 1655.2L423.6 1655.3L424.3 1655.4L424.9 1655.5L425.5 1655.6L426.1 1655.6L426.8 1655.7L427.4 1655.7L428.0 1655.8L428.7 1655.8L429.3 1655.8L429.9 1655.8L430.5 1655.8L431.2 1655.9L431.8 1655.9L432.4 1655.9L433.0 1655.9L433.7 1655.9L434.3 1655.9L434.9 1655.9L435.6 1655.9L436.2 1655.9L436.8 1655.9L437.4 1655.9L438.1 1655.9L438.7 1655.9L439.3 1655.9L439.9 1655.9L440.6 1655.9L441.2 1655.9L441.8 1655.9L442.5 1655.9L443.1 1655.9L443.7 1655.9L444.3 1655.9L445.0 1655.9L445.6 1655.9L446.2 1655.9L446.8 1655.9L447.5 1655.9L448.1 1655.9L448.7 1655.9L449.4 1655.9L450.0 1655.9L450.6 1655.9L451.2 1655.9L451.9 1655.9L452.5 1655.9L453.1 1655.9L453.8 1655.9L454.4 1655.9L455.0 1655.9L455.6 1655.9L456.3 1655.9L456.9 1655.9L457.5 1655.9L458.1 1655.9L458.8 1655.9L459.4 1655.9L460.0 1655.9L460.7 1655.9L461.3 1655.9L461.9 1655.9L462.5 1655.9L463.2 1655.9L463.8 1655.9L464.4 1655.9L465.0 1655.9L465.7 1655.9L466.3 1655.9L466.9 1655.9L467.6 1655.9L468.2 1655.9L468.8 1655.9L469.4 1655.9L470.1 1655.9L470.7 1655.9L471.3 1655.9L471.9 1655.9L472.6 1655.9L473.2 1655.9L473.8 1655.9L474.5 1655.9L475.1 1655.9L475.7 1655.9L476.3 1655.9L477.0 1655.9L477.6 1655.9L478.2 1655.9L478.9 1655.9L479.5 1655.9L480.1 1655.9L480.7 1655.9L481.4 1655.9L482.0 1655.9L482.6 1655.9L483.2 1655.9L483.9 1655.9L484.5 1655.9L485.1 1655.9L485.8 1655.9L486.4 1655.9L487.0 1655.9L487.6 1655.9L488.3 1655.9L488.9 1655.9L489.5 1655.9L490.1 1655.9L490.8 1655.9L491.4 1655.9L492.0 1655.9L492.7 1655.9L493.3 1655.9L493.9 1655.9L494.5 1655.9L495.2 1655.9L495.8 1655.9L496.4 1655.9L497.0 1655.9L497.7 1655.9L498.3 1655.9L498.9 1655.9L499.6 1655.9L500.2 1655.9L500.8 1655.9L501.4 1655.9L502.1 1655.9L502.7 1655.9L503.3 1655.9L504.0 1655.9L504.6 1655.9L505.2 1655.9L505.8 1655.9L506.5 1655.9L507.1 1655.9L507.7 1655.9L508.3 1655.9L509.0 1655.9L509.6 1655.9L510.2 1655.9L510.9 1655.9L511.5 1655.9L512.1 1655.9L512.7 1655.9L513.4 1655.9L514.0 1655.9L514.6 1655.9L515.2 1655.9L515.9 1655.9L516.5 1655.9L517.1 1655.9L517.8 1655.9L518.4 1655.9L519.0 1655.9L519.6 1655.9L520.3 1655.9L520.9 1655.9L521.5 1655.9L522.1 1655.9L522.8 1655.9L523.4 1655.9L524.0 1655.9L524.7 1655.9L525.3 1655.9L525.9 1655.9L526.5 1655.9L527.2 1655.9L527.8 1655.9L528.4 1655.9L529.1 1655.9L529.7 1655.9L530.3 1655.9L530.9 1655.9L531.6 1655.9L532.2 1655.9L532.8 1655.9L533.4 1655.9L534.1 1655.9L534.7 1655.9L535.3 1655.9L536.0 1655.9L536.6 1655.9L537.2 1655.9L537.8 1655.9L538.5 1655.9L539.1 1655.9L539.7 1655.9L540.3 1655.9L541.0 1655.9L541.6 1655.9L542.2 1655.9L542.9 1655.9L543.5 1655.9L544.1 1655.9L544.7 1655.9L545.4 1655.9L546.0 1655.9L546.6 1655.9L547.2 1655.9L547.9 1655.9L548.5 1655.9L549.1 1655.9L549.8 1655.9L550.4 1655.9L551.0 1655.9L551.6 1655.9L552.3 1655.9L552.9 1655.9L553.5 1655.9L554.2 1655.9L554.8 1655.9L555.4 1655.9L556.0 1655.9L556.7 1655.9L557.3 1655.9L557.9 1655.9L558.5 1655.9L559.2 1655.9L559.8 1655.9L560.4 1655.9L561.1 1655.9L561.7 1655.9L562.3 1655.9L562.9 1655.9L563.6 1655.9L564.2 1655.9L564.8 1655.9L565.4 1655.9L566.1 1655.9L566.7 1655.9L567.3 1655.9L568.0 1655.9L568.6 1655.9L569.2 1655.9L569.8 1655.9L570.5 1655.9L571.1 1655.9L571.7 1655.9L572.3 1655.9L573.0 1655.9L573.6 1655.9L574.2 1655.9L574.9 1655.9L575.5 1655.9L576.1 1655.9L576.7 1655.9L577.4 1655.9L578.0 1655.9L578.6 1655.9L579.3 1655.9L579.9 1655.9L580.5 1655.9L581.1 1655.9L581.8 1655.9L582.4 1655.9L583.0 1655.9L583.6 1655.9L584.3 1655.9L584.9 1655.9L585.5 1655.9L586.2 1655.9L586.8 1655.9L587.4 1655.9L588.0 1655.9L588.7 1655.9L589.3 1655.9L589.9 1655.9L590.5 1655.9L591.2 1655.9L591.8 1655.9L592.4 1655.9L593.1 1655.9L593.7 1655.9L594.3 1655.9L594.9 1655.9L595.6 1655.9L596.2 1655.9L596.8 1655.9L597.5 1655.9L598.1 1655.9L598.7 1655.9L599.3 1655.9L600.0 1655.9L600.6 1655.9L601.2 1655.9L601.8 1655.9L602.5 1655.9L603.1 1655.9L603.7 1655.9L604.4 1655.9L605.0 1655.9L605.6 1655.9L606.2 1655.9L606.9 1655.9L607.5 1655.9L608.1 1655.9L608.7 1655.9L609.4 1655.9L610.0 1655.9L610.6 1655.9L611.3 1655.9L611.9 1655.9L612.5 1655.9L613.1 1655.9L613.8 1655.9L614.4 1655.9L615.0 1655.9L615.6 1655.9L616.3 1655.9L616.9 1655.9L617.5 1655.9L618.2 1655.9L618.8 1655.9L619.4 1655.9L620.0 1655.9L620.7 1655.9L621.3 1655.9L621.9 1655.9L622.5 1655.9L623.2 1655.9L623.8 1655.9L624.4 1655.9L625.1 1655.9L625.7 1655.9L626.3 1655.9L626.9 1655.9L627.6 1655.9L628.2 1655.9L628.8 1655.9L629.5 1655.9L630.1 1655.9L630.7 1655.9L631.3 1655.9L632.0 1655.9L632.6 1655.9L633.2 1655.9L633.8 1655.9L634.5 1655.9L635.1 1655.9L635.7 1655.9L636.4 1655.9L637.0 1655.9L637.6 1655.9L638.2 1655.9L638.9 1655.9L639.5 1655.9L640.1 1655.9L640.7 1655.9L641.4 1655.9L642.0 1655.9L642.6 1655.9L643.3 1655.9L643.9 1655.9L644.5 1655.9L645.1 1655.9L645.8 1655.9L646.4 1655.9L647.0 1655.9L647.6 1655.9L648.3 1655.9L648.9 1655.9L649.5 1655.9L650.2 1655.9L650.8 1655.9L651.4 1655.9L652.0 1655.9L652.7 1655.9L653.3 1655.9L653.9 1655.9L654.6 1655.9L655.2 1655.9L655.8 1655.9L656.4 1655.9L657.1 1655.9L657.7 1655.9L658.3 1655.9L658.9 1655.9L659.6 1655.9L660.2 1655.9L660.8 1655.9L661.5 1655.9L662.1 1655.9L662.7 1655.9L663.3 1655.9L664.0 1655.9L664.6 1655.9L665.2 1655.9L665.8 1655.9L666.5 1655.9L667.1 1655.9L667.7 1655.9L668.4 1655.9L669.0 1655.9L669.6 1655.9L670.2 1655.9L670.9 1655.9L671.5 1655.9L672.1 1655.9L672.8 1655.9" stroke="#de2b2b" stroke-width="3.4" stroke-dasharray="12.6 12.5"/>
</g>
<text class="t" x="133.1" y="1690.9" text-anchor="middle">–2</text>
<text class="t" x="384.1" y="1690.9" text-anchor="middle">0</text>
<text class="t" x="635.1" y="1690.9" text-anchor="middle">2</text>
<text class="t" x="82.9" y="1665.4" text-anchor="end">0</text>
<text class="t" x="82.9" y="1524.4" text-anchor="end">0.5</text>
<text class="t" x="82.9" y="1383.4" text-anchor="end">1</text>
<text class="t" x="82.9" y="1242.4" text-anchor="end">1.5</text>
<text class="l" x="384.25" y="1733.9" text-anchor="middle">Frequency <tspan class="w">ω</tspan> – <tspan class="w">ω</tspan><tspan class="s" dy="8">0</tspan><tspan dy="-8"> (fs</tspan><tspan class="s" dy="-11">–1</tspan><tspan dy="11">)</tspan></text>
<text class="l" transform="translate(21.6,1444.4) rotate(-90)" text-anchor="middle"><tspan class="i">S</tspan> (<tspan class="w">ω</tspan>) (arb. units)</text>
<text class="p" x="1.5" y="1234.8">e</text>
<path d="M779.45 1232.9H1356.8V1655.9H779.45ZM817.3 1655.9v-24.3M817.3 1232.9v24.3M880.05 1655.9v-13M880.05 1232.9v13M942.8 1655.9v-13M942.8 1232.9v13M1005.55 1655.9v-13M1005.55 1232.9v13M1068.3 1655.9v-24.3M1068.3 1232.9v24.3M1131.05 1655.9v-13M1131.05 1232.9v13M1193.8 1655.9v-13M1193.8 1232.9v13M1256.55 1655.9v-13M1256.55 1232.9v13M1319.3 1655.9v-24.3M1319.3 1232.9v24.3M779.45 1634.75h13M1356.8 1634.75h-13M779.45 1613.6h13M1356.8 1613.6h-13M779.45 1592.45h13M1356.8 1592.45h-13M779.45 1571.3h13M1356.8 1571.3h-13M779.45 1550.15h24.3M1356.8 1550.15h-24.3M779.45 1529h13M1356.8 1529h-13M779.45 1507.85h13M1356.8 1507.85h-13M779.45 1486.7h13M1356.8 1486.7h-13M779.45 1465.55h13M1356.8 1465.55h-13M779.45 1444.4h24.3M1356.8 1444.4h-24.3M779.45 1423.25h13M1356.8 1423.25h-13M779.45 1402.1h13M1356.8 1402.1h-13M779.45 1380.95h13M1356.8 1380.95h-13M779.45 1359.8h13M1356.8 1359.8h-13M779.45 1338.65h24.3M1356.8 1338.65h-24.3M779.45 1317.5h13M1356.8 1317.5h-13M779.45 1296.35h13M1356.8 1296.35h-13M779.45 1275.2h13M1356.8 1275.2h-13M779.45 1254.05h13M1356.8 1254.05h-13" fill="none" stroke="#000" stroke-width="2"/>
<g clip-path="url(#cpf)" fill="none" stroke-linejoin="round">
<path d="M779.6 1643.1L781.3 1646.1L783.0 1648.0L784.7 1646.6L786.4 1648.5L788.1 1648.5L789.8 1647.4L791.5 1651.0L793.2 1647.7L794.9 1644.8L796.6 1647.9L798.3 1648.6L800.0 1646.6L801.7 1647.3L803.4 1648.3L805.1 1650.7L806.8 1648.3L808.5 1646.4L810.1 1646.7L811.8 1650.2L813.5 1646.2L815.2 1644.9L816.9 1648.0L818.6 1643.8L820.3 1644.8L822.0 1650.4L823.7 1650.2L825.4 1652.6L827.1 1648.4L828.8 1646.9L830.5 1649.5L832.2 1646.3L833.9 1649.3L835.6 1648.6L837.3 1650.9L838.9 1651.6L840.6 1650.8L842.3 1646.1L844.0 1641.9L845.7 1645.7L847.4 1646.2L849.1 1646.7L850.8 1646.5L852.5 1648.2L854.2 1651.9L855.9 1653.4L857.6 1649.1L859.3 1642.4L861.0 1643.9L862.7 1648.1L864.4 1644.3L866.1 1644.4L867.8 1646.9L869.4 1646.8L871.1 1647.3L872.8 1648.2L874.5 1650.7L876.2 1648.2L877.9 1646.8L879.6 1645.0L881.3 1646.4L883.0 1651.6L884.7 1650.0L886.4 1643.8L888.1 1645.6L889.8 1649.4L891.5 1650.7L893.2 1650.8L894.9 1649.1L896.6 1649.8L898.2 1645.5L899.9 1645.5L901.6 1647.1L903.3 1643.8L905.0 1641.9L906.7 1645.2L908.4 1646.4L910.1 1644.8L911.8 1646.2L913.5 1650.6L915.2 1647.8L916.9 1644.0L918.6 1644.6L920.3 1647.9L922.0 1648.3L923.7 1648.0L925.4 1648.0L927.0 1644.3L928.7 1641.6L930.4 1643.0L932.1 1644.4L933.8 1644.3L935.5 1645.5L937.2 1646.3L938.9 1646.9L940.6 1645.8L942.3 1639.6L944.0 1638.7L945.7 1642.3L947.4 1643.6L949.1 1643.9L950.8 1642.5L952.5 1641.4L954.2 1645.6L955.9 1644.8L957.5 1644.9L959.2 1642.8L960.9 1643.3L962.6 1641.9L964.3 1644.0L966.0 1646.5L967.7 1644.8L969.4 1642.3L971.1 1642.1L972.8 1646.2L974.5 1645.6L976.2 1643.8L977.9 1644.8L979.6 1645.6L981.3 1640.9L983.0 1642.0L984.7 1645.7L986.3 1643.3L988.0 1642.2L989.7 1643.3L991.4 1641.8L993.1 1641.2L994.8 1642.0L996.5 1641.1L998.2 1641.8L999.9 1644.7L1001.6 1645.5L1003.3 1645.6L1005.0 1644.5L1006.7 1645.6L1008.4 1648.0L1010.1 1644.2L1011.8 1643.6L1013.5 1645.9L1015.2 1641.1L1016.8 1639.3L1018.5 1637.4L1020.2 1636.7L1021.9 1638.1L1023.6 1638.0L1025.3 1635.6L1027.0 1633.0L1028.7 1632.6L1030.4 1632.0L1032.1 1634.1L1033.8 1632.9L1035.5 1634.8L1037.2 1634.3L1038.9 1630.4L1040.0 1630.7L1044.0 1629.4L1048.0 1628.0L1049.9 1617.4L1051.9 1616.1L1053.3 1597.5L1054.6 1549.8L1055.6 1520.6L1057.2 1525.9L1059.9 1547.1L1061.9 1576.3L1063.6 1596.9L1065.2 1576.3L1066.5 1536.5L1067.8 1470.2L1068.9 1430.4L1068.9 1389.8L1070.0 1342.7L1071.6 1284.3L1073.0 1366.1L1073.8 1430.4L1074.7 1483.5L1075.8 1549.8L1077.4 1582.9L1079.1 1569.7L1081.1 1543.2L1082.2 1537.2L1083.1 1549.8L1085.1 1550.4L1086.7 1555.1L1088.0 1523.3L1089.7 1476.8L1091.0 1496.7L1092.4 1549.8L1093.7 1571.0L1095.0 1536.5L1096.3 1470.2L1097.0 1430.4L1097.2 1407.6L1097.7 1404.6L1098.9 1426.3L1100.1 1389.8L1101.6 1342.7L1103.0 1389.8L1103.6 1430.4L1104.3 1450.3L1105.0 1475.5L1106.3 1450.3L1107.6 1445.7L1108.9 1463.6L1110.3 1523.3L1111.8 1558.4L1113.2 1523.3L1114.5 1456.9L1115.6 1430.4L1115.9 1406.3L1116.4 1405.3L1116.8 1416.9L1118.9 1369.7L1120.4 1407.4L1121.1 1425.2L1121.5 1434.7L1122.3 1424.5L1122.8 1437.0L1123.8 1470.2L1125.5 1549.8L1126.8 1593.6L1128.5 1549.8L1130.1 1483.5L1131.5 1458.9L1132.8 1483.5L1134.4 1536.5L1135.7 1543.2L1137.4 1533.9L1138.8 1532.5L1140.1 1543.2L1141.8 1553.8L1143.4 1510.0L1144.7 1463.6L1145.6 1452.3L1146.7 1483.5L1148.0 1533.9L1149.4 1528.6L1150.7 1549.8L1152.4 1575.0L1153.7 1549.8L1154.9 1543.2L1156.4 1563.0L1158.0 1586.9L1159.3 1582.9L1161.3 1576.3L1163.0 1564.4L1164.6 1579.0L1166.6 1582.9L1167.9 1580.3L1169.2 1596.2L1170.6 1616.1L1171.9 1629.4L1173.2 1602.8L1174.5 1576.3L1175.5 1571.0L1177.2 1586.9L1178.5 1602.8L1180.2 1620.1L1182.5 1605.5L1184.5 1601.5L1185.8 1616.1L1187.1 1624.7L1189.1 1622.7L1191.1 1621.4L1192.4 1602.8L1193.8 1582.9L1195.1 1580.3L1196.4 1579.0L1198.4 1593.6L1200.4 1606.8L1202.0 1612.1L1203.7 1602.8L1205.7 1609.5L1207.7 1618.8L1209.7 1625.4L1211.7 1629.4L1213.6 1634.7L1215.0 1637.3L1217.0 1629.4L1218.3 1614.8L1220.0 1613.5L1222.0 1626.6L1223.9 1635.8L1225.9 1635.2L1227.9 1628.0L1229.8 1628.0L1231.8 1634.5L1233.8 1641.1L1235.7 1638.5L1237.7 1641.7L1239.7 1641.1L1241.6 1633.2L1243.6 1631.9L1244.9 1626.0L1246.2 1633.2L1248.2 1641.7L1250.2 1641.1L1252.1 1644.4L1254.1 1639.8L1256.1 1637.1L1258.7 1635.2L1260.7 1636.5L1262.0 1646.3L1263.9 1641.1L1265.9 1646.3L1267.9 1645.7L1270.5 1638.5L1273.1 1637.8L1275.1 1641.1L1278.3 1643.7L1281.0 1650.3L1283.6 1645.7L1286.2 1643.0L1288.8 1641.1L1291.5 1643.7L1295.4 1639.8L1298.0 1643.7L1300.6 1647.6L1303.9 1646.3L1305.9 1648.3L1308.5 1645.0L1311.1 1640.4L1313.1 1643.7L1314.0 1652.2L1315.7 1641.1L1317.4 1635.8L1319.2 1641.1L1321.0 1638.5L1322.9 1645.7L1324.9 1647.6L1326.9 1641.1L1328.2 1637.1L1329.5 1648.9L1331.4 1643.0L1333.4 1641.7L1336.0 1638.5L1338.0 1641.1L1340.6 1641.7L1342.6 1649.6L1344.5 1647.6L1347.2 1651.6L1349.1 1643.7L1351.1 1639.1L1352.4 1638.5L1354.4 1643.7L1356.3 1648.9L1357.3 1647.0" stroke="#6cbfe1" stroke-width="2.3"/>
<path d="M780.3 1652.8L781.5 1652.8L782.8 1652.8L784.0 1652.7L785.3 1652.7L786.6 1652.7L787.8 1652.7L789.1 1652.7L790.3 1652.7L791.6 1652.6L792.8 1652.6L794.1 1652.6L795.3 1652.6L796.6 1652.5L797.8 1652.5L799.1 1652.5L800.4 1652.5L801.6 1652.4L802.9 1652.4L804.1 1652.4L805.4 1652.4L806.6 1652.3L807.9 1652.3L809.1 1652.3L810.4 1652.2L811.7 1652.2L812.9 1652.2L814.2 1652.2L815.4 1652.1L816.7 1652.1L817.9 1652.1L819.2 1652.0L820.4 1652.0L821.7 1652.0L822.9 1651.9L824.2 1651.9L825.5 1651.9L826.7 1651.8L828.0 1651.8L829.2 1651.8L830.5 1651.7L831.7 1651.7L833.0 1651.6L834.2 1651.6L835.5 1651.6L836.8 1651.5L838.0 1651.5L839.3 1651.4L840.5 1651.4L841.8 1651.4L843.0 1651.3L844.3 1651.3L845.5 1651.2L846.8 1651.2L848.0 1651.1L849.3 1651.1L850.6 1651.0L851.8 1651.0L853.1 1650.9L854.3 1650.9L855.6 1650.8L856.8 1650.8L858.1 1650.7L859.3 1650.6L860.6 1650.6L861.9 1650.5L863.1 1650.5L864.4 1650.4L865.6 1650.3L866.9 1650.3L868.1 1650.2L869.4 1650.1L870.6 1650.1L871.9 1650.0L873.1 1649.9L874.4 1649.9L875.7 1649.8L876.9 1649.7L878.2 1649.6L879.4 1649.6L880.7 1649.5L881.9 1649.4L883.2 1649.3L884.4 1649.2L885.7 1649.1L887.0 1649.0L888.2 1648.9L889.5 1648.8L890.7 1648.7L892.0 1648.5L893.2 1648.4L894.5 1648.3L895.7 1648.1L897.0 1648.0L898.2 1647.8L899.5 1647.7L900.8 1647.5L902.0 1647.3L903.3 1647.2L904.5 1647.0L905.8 1646.8L907.0 1646.6L908.3 1646.4L909.5 1646.2L910.8 1646.0L912.1 1645.8L913.3 1645.6L914.6 1645.3L915.8 1645.0L917.1 1644.8L918.3 1644.5L919.6 1644.2L920.8 1643.9L922.1 1643.6L923.3 1643.2L924.6 1642.9L925.9 1642.5L927.1 1642.2L928.4 1641.8L929.6 1641.4L930.9 1641.0L932.1 1640.6L933.4 1640.1L934.6 1639.7L935.9 1639.2L937.2 1638.6L938.4 1638.1L939.7 1637.6L940.9 1637.0L942.2 1636.4L943.4 1635.9L944.7 1635.3L945.9 1634.7L947.2 1634.1L948.4 1633.5L949.7 1632.8L951.0 1632.2L952.2 1631.5L953.5 1630.8L954.7 1630.1L956.0 1629.3L957.2 1628.4L958.5 1627.6L959.7 1626.6L961.0 1625.6L962.3 1624.6L963.5 1623.5L964.8 1622.3L966.0 1621.1L967.3 1619.8L968.5 1618.5L969.8 1617.2L971.0 1615.8L972.3 1614.4L973.5 1613.0L974.8 1611.5L976.1 1610.0L977.3 1608.4L978.6 1606.8L979.8 1605.1L981.1 1603.4L982.3 1601.6L983.6 1599.8L984.8 1597.9L986.1 1596.0L987.4 1594.0L988.6 1592.0L989.9 1589.9L991.1 1587.7L992.4 1585.5L993.6 1583.2L994.9 1580.8L996.1 1578.4L997.4 1575.8L998.6 1573.2L999.9 1570.5L1001.2 1567.7L1002.4 1564.8L1003.7 1561.7L1004.9 1558.6L1006.2 1555.4L1007.4 1552.2L1008.7 1548.9L1009.9 1545.5L1011.2 1542.2L1012.5 1538.8L1013.7 1535.4L1015.0 1532.0L1016.2 1528.6L1017.5 1525.3L1018.7 1522.0L1020.0 1518.8L1021.2 1515.6L1022.5 1512.4L1023.7 1509.2L1025.0 1506.1L1026.3 1502.9L1027.5 1499.8L1028.8 1496.8L1030.0 1493.8L1031.3 1490.8L1032.5 1487.9L1033.8 1485.1L1035.0 1482.4L1036.3 1479.8L1037.6 1477.3L1038.8 1474.8L1040.1 1472.5L1041.3 1470.2L1042.6 1468.1L1043.8 1466.1L1045.1 1464.2L1046.3 1462.6L1047.6 1461.1L1048.8 1459.7L1050.1 1458.4L1051.4 1457.1L1052.6 1455.8L1053.9 1454.6L1055.1 1453.3L1056.4 1452.1L1057.6 1451.0L1058.9 1449.9L1060.1 1448.9L1061.4 1448.1L1062.7 1447.5L1063.9 1447.1L1065.2 1446.9L1066.4 1447.1L1067.7 1447.4L1068.9 1448.0L1070.2 1448.7L1071.4 1449.5L1072.7 1450.3L1073.9 1451.1L1075.2 1451.8L1076.5 1452.6L1077.7 1453.3L1079.0 1454.2L1080.2 1455.1L1081.5 1456.3L1082.7 1457.6L1084.0 1459.1L1085.2 1460.8L1086.5 1462.6L1087.8 1464.6L1089.0 1466.6L1090.3 1468.7L1091.5 1470.8L1092.8 1472.9L1094.0 1474.9L1095.3 1476.7L1096.5 1478.6L1097.8 1480.3L1099.0 1482.1L1100.3 1483.8L1101.6 1485.6L1102.8 1487.3L1104.1 1489.2L1105.3 1491.1L1106.6 1493.1L1107.8 1495.2L1109.1 1497.3L1110.3 1499.6L1111.6 1501.8L1112.9 1504.1L1114.1 1506.4L1115.4 1508.7L1116.6 1510.9L1117.9 1513.2L1119.1 1515.5L1120.4 1517.7L1121.6 1520.0L1122.9 1522.2L1124.1 1524.5L1125.4 1526.9L1126.7 1529.2L1127.9 1531.7L1129.2 1534.2L1130.4 1536.7L1131.7 1539.3L1132.9 1542.0L1134.2 1544.7L1135.4 1547.4L1136.7 1550.1L1138.0 1552.8L1139.2 1555.4L1140.5 1557.9L1141.7 1560.3L1143.0 1562.6L1144.2 1564.8L1145.5 1567.0L1146.7 1569.1L1148.0 1571.2L1149.2 1573.2L1150.5 1575.3L1151.8 1577.3L1153.0 1579.3L1154.3 1581.4L1155.5 1583.4L1156.8 1585.3L1158.0 1587.2L1159.3 1589.0L1160.5 1590.7L1161.8 1592.4L1163.1 1593.9L1164.3 1595.4L1165.6 1596.9L1166.8 1598.3L1168.1 1599.8L1169.3 1601.2L1170.6 1602.5L1171.8 1603.9L1173.1 1605.1L1174.3 1606.4L1175.6 1607.5L1176.9 1608.7L1178.1 1609.8L1179.4 1610.9L1180.6 1611.9L1181.9 1612.9L1183.1 1613.9L1184.4 1614.9L1185.6 1615.9L1186.9 1616.8L1188.2 1617.7L1189.4 1618.6L1190.7 1619.5L1191.9 1620.3L1193.2 1621.2L1194.4 1622.0L1195.7 1622.8L1196.9 1623.6L1198.2 1624.3L1199.4 1624.9L1200.7 1625.6L1202.0 1626.1L1203.2 1626.7L1204.5 1627.2L1205.7 1627.7L1207.0 1628.2L1208.2 1628.7L1209.5 1629.2L1210.7 1629.7L1212.0 1630.1L1213.3 1630.5L1214.5 1630.9L1215.8 1631.2L1217.0 1631.5L1218.3 1631.8L1219.5 1632.1L1220.8 1632.4L1222.0 1632.6L1223.3 1632.9L1224.5 1633.1L1225.8 1633.4L1227.1 1633.6L1228.3 1633.9L1229.6 1634.1L1230.8 1634.4L1232.1 1634.6L1233.3 1634.8L1234.6 1635.0L1235.8 1635.3L1237.1 1635.5L1238.4 1635.7L1239.6 1635.9L1240.9 1636.1L1242.1 1636.3L1243.4 1636.5L1244.6 1636.6L1245.9 1636.8L1247.1 1637.0L1248.4 1637.2L1249.6 1637.3L1250.9 1637.5L1252.2 1637.6L1253.4 1637.8L1254.7 1637.9L1255.9 1638.1L1257.2 1638.2L1258.4 1638.3L1259.7 1638.4L1260.9 1638.6L1262.2 1638.7L1263.5 1638.8L1264.7 1638.9L1266.0 1639.0L1267.2 1639.1L1268.5 1639.2L1269.7 1639.3L1271.0 1639.4L1272.2 1639.5L1273.5 1639.6L1274.7 1639.7L1276.0 1639.8L1277.3 1639.8L1278.5 1639.9L1279.8 1640.0L1281.0 1640.1L1282.3 1640.2L1283.5 1640.3L1284.8 1640.4L1286.0 1640.4L1287.3 1640.5L1288.6 1640.6L1289.8 1640.7L1291.1 1640.8L1292.3 1640.9L1293.6 1641.0L1294.8 1641.1L1296.1 1641.2L1297.3 1641.3L1298.6 1641.3L1299.8 1641.4L1301.1 1641.5L1302.4 1641.6L1303.6 1641.6L1304.9 1641.7L1306.1 1641.8L1307.4 1641.9L1308.6 1641.9L1309.9 1642.0L1311.1 1642.1L1312.4 1642.2L1313.7 1642.3L1314.9 1642.4L1316.2 1642.5L1317.4 1642.6L1318.7 1642.7L1319.9 1642.8L1321.2 1643.0L1322.4 1643.1L1323.7 1643.3L1324.9 1643.5L1326.2 1643.7L1327.5 1643.9L1328.7 1644.0L1330.0 1644.2L1331.2 1644.4L1332.5 1644.6L1333.7 1644.7L1335.0 1644.9L1336.2 1645.1L1337.5 1645.2L1338.8 1645.4L1340.0 1645.6L1341.3 1645.7L1342.5 1645.9L1343.8 1646.0L1345.0 1646.2L1346.3 1646.3L1347.5 1646.4L1348.8 1646.6L1350.0 1646.7L1351.3 1646.8L1352.6 1647.0L1353.8 1647.1L1355.1 1647.2L1356.3 1647.3" stroke="#000" stroke-width="2.3"/>
<path d="M779.6 1655.9L780.3 1655.9L780.9 1655.9L781.5 1655.9L782.2 1655.9L782.8 1655.9L783.4 1655.9L784.0 1655.9L784.7 1655.9L785.3 1655.9L785.9 1655.9L786.6 1655.9L787.2 1655.9L787.8 1655.9L788.4 1655.9L789.1 1655.9L789.7 1655.9L790.3 1655.9L790.9 1655.9L791.6 1655.9L792.2 1655.9L792.8 1655.9L793.5 1655.9L794.1 1655.9L794.7 1655.9L795.3 1655.9L796.0 1655.9L796.6 1655.9L797.2 1655.9L797.8 1655.9L798.5 1655.9L799.1 1655.9L799.7 1655.9L800.4 1655.9L801.0 1655.9L801.6 1655.9L802.2 1655.9L802.9 1655.9L803.5 1655.9L804.1 1655.9L804.8 1655.9L805.4 1655.9L806.0 1655.9L806.6 1655.9L807.3 1655.9L807.9 1655.9L808.5 1655.9L809.1 1655.9L809.8 1655.9L810.4 1655.9L811.0 1655.9L811.7 1655.9L812.3 1655.9L812.9 1655.9L813.5 1655.9L814.2 1655.9L814.8 1655.9L815.4 1655.9L816.0 1655.9L816.7 1655.9L817.3 1655.9L817.9 1655.9L818.6 1655.9L819.2 1655.9L819.8 1655.9L820.4 1655.9L821.1 1655.9L821.7 1655.9L822.3 1655.9L822.9 1655.9L823.6 1655.9L824.2 1655.9L824.8 1655.9L825.5 1655.9L826.1 1655.9L826.7 1655.9L827.3 1655.9L828.0 1655.9L828.6 1655.9L829.2 1655.9L829.8 1655.9L830.5 1655.9L831.1 1655.9L831.7 1655.9L832.4 1655.9L833.0 1655.9L833.6 1655.9L834.2 1655.9L834.9 1655.9L835.5 1655.9L836.1 1655.9L836.8 1655.9L837.4 1655.9L838.0 1655.9L838.6 1655.9L839.3 1655.9L839.9 1655.9L840.5 1655.9L841.1 1655.9L841.8 1655.9L842.4 1655.9L843.0 1655.9L843.7 1655.9L844.3 1655.9L844.9 1655.9L845.5 1655.9L846.2 1655.9L846.8 1655.9L847.4 1655.9L848.0 1655.9L848.7 1655.9L849.3 1655.9L849.9 1655.9L850.6 1655.9L851.2 1655.9L851.8 1655.9L852.4 1655.9L853.1 1655.9L853.7 1655.9L854.3 1655.9L854.9 1655.9L855.6 1655.9L856.2 1655.9L856.8 1655.8L857.5 1655.8L858.1 1655.8L858.7 1655.8L859.3 1655.8L860.0 1655.8L860.6 1655.8L861.2 1655.8L861.9 1655.8L862.5 1655.8L863.1 1655.8L863.7 1655.8L864.4 1655.8L865.0 1655.8L865.6 1655.8L866.2 1655.8L866.9 1655.8L867.5 1655.8L868.1 1655.8L868.8 1655.8L869.4 1655.8L870.0 1655.8L870.6 1655.8L871.3 1655.7L871.9 1655.7L872.5 1655.7L873.1 1655.7L873.8 1655.7L874.4 1655.7L875.0 1655.7L875.7 1655.7L876.3 1655.7L876.9 1655.7L877.5 1655.7L878.2 1655.6L878.8 1655.6L879.4 1655.6L880.0 1655.6L880.7 1655.6L881.3 1655.6L881.9 1655.6L882.6 1655.6L883.2 1655.5L883.8 1655.5L884.4 1655.5L885.1 1655.5L885.7 1655.5L886.3 1655.5L887.0 1655.4L887.6 1655.4L888.2 1655.4L888.8 1655.4L889.5 1655.3L890.1 1655.3L890.7 1655.3L891.3 1655.3L892.0 1655.2L892.6 1655.2L893.2 1655.2L893.9 1655.2L894.5 1655.1L895.1 1655.1L895.7 1655.1L896.4 1655.0L897.0 1655.0L897.6 1655.0L898.2 1654.9L898.9 1654.9L899.5 1654.8L900.1 1654.8L900.8 1654.8L901.4 1654.7L902.0 1654.7L902.6 1654.6L903.3 1654.6L903.9 1654.5L904.5 1654.5L905.1 1654.4L905.8 1654.3L906.4 1654.3L907.0 1654.2L907.7 1654.2L908.3 1654.1L908.9 1654.0L909.5 1654.0L910.2 1653.9L910.8 1653.8L911.4 1653.7L912.1 1653.6L912.7 1653.6L913.3 1653.5L913.9 1653.4L914.6 1653.3L915.2 1653.2L915.8 1653.1L916.4 1653.0L917.1 1652.9L917.7 1652.8L918.3 1652.7L919.0 1652.6L919.6 1652.5L920.2 1652.3L920.8 1652.2L921.5 1652.1L922.1 1651.9L922.7 1651.8L923.3 1651.7L924.0 1651.5L924.6 1651.4L925.2 1651.2L925.9 1651.1L926.5 1650.9L927.1 1650.7L927.7 1650.6L928.4 1650.4L929.0 1650.2L929.6 1650.0L930.2 1649.8L930.9 1649.6L931.5 1649.4L932.1 1649.2L932.8 1649.0L933.4 1648.8L934.0 1648.6L934.6 1648.3L935.3 1648.1L935.9 1647.8L936.5 1647.6L937.2 1647.3L937.8 1647.1L938.4 1646.8L939.0 1646.5L939.7 1646.2L940.3 1645.9L940.9 1645.6L941.5 1645.3L942.2 1645.0L942.8 1644.7L943.4 1644.4L944.1 1644.0L944.7 1643.7L945.3 1643.3L945.9 1643.0L946.6 1642.6L947.2 1642.2L947.8 1641.8L948.4 1641.4L949.1 1641.0L949.7 1640.6L950.3 1640.2L951.0 1639.7L951.6 1639.3L952.2 1638.8L952.8 1638.4L953.5 1637.9L954.1 1637.4L954.7 1636.9L955.3 1636.4L956.0 1635.9L956.6 1635.3L957.2 1634.8L957.9 1634.3L958.5 1633.7L959.1 1633.1L959.7 1632.5L960.4 1631.9L961.0 1631.3L961.6 1630.7L962.3 1630.1L962.9 1629.4L963.5 1628.8L964.1 1628.1L964.8 1627.4L965.4 1626.7L966.0 1626.0L966.6 1625.3L967.3 1624.6L967.9 1623.9L968.5 1623.1L969.2 1622.3L969.8 1621.6L970.4 1620.8L971.0 1620.0L971.7 1619.1L972.3 1618.3L972.9 1617.5L973.5 1616.6L974.2 1615.7L974.8 1614.8L975.4 1613.9L976.1 1613.0L976.7 1612.1L977.3 1611.2L977.9 1610.2L978.6 1609.3L979.2 1608.3L979.8 1607.3L980.4 1606.3L981.1 1605.3L981.7 1604.2L982.3 1603.2L983.0 1602.1L983.6 1601.0L984.2 1599.9L984.8 1598.8L985.5 1597.7L986.1 1596.6L986.7 1595.5L987.4 1594.3L988.0 1593.2L988.6 1592.0L989.2 1590.8L989.9 1589.6L990.5 1588.4L991.1 1587.1L991.7 1585.9L992.4 1584.6L993.0 1583.4L993.6 1582.1L994.3 1580.8L994.9 1579.5L995.5 1578.2L996.1 1576.9L996.8 1575.6L997.4 1574.2L998.0 1572.9L998.6 1571.5L999.3 1570.1L999.9 1568.8L1000.5 1567.4L1001.2 1566.0L1001.8 1564.6L1002.4 1563.1L1003.0 1561.7L1003.7 1560.3L1004.3 1558.8L1004.9 1557.4L1005.5 1555.9L1006.2 1554.5L1006.8 1553.0L1007.4 1551.5L1008.1 1550.1L1008.7 1548.6L1009.3 1547.1L1009.9 1545.6L1010.6 1544.1L1011.2 1542.6L1011.8 1541.1L1012.5 1539.6L1013.1 1538.1L1013.7 1536.6L1014.3 1535.0L1015.0 1533.5L1015.6 1532.0L1016.2 1530.5L1016.8 1529.0L1017.5 1527.5L1018.1 1525.9L1018.7 1524.4L1019.4 1522.9L1020.0 1521.4L1020.6 1519.9L1021.2 1518.4L1021.9 1516.9L1022.5 1515.4L1023.1 1513.9L1023.7 1512.4L1024.4 1510.9L1025.0 1509.4L1025.6 1508.0L1026.3 1506.5L1026.9 1505.0L1027.5 1503.6L1028.1 1502.2L1028.8 1500.7L1029.4 1499.3L1030.0 1497.9L1030.6 1496.5L1031.3 1495.1L1031.9 1493.7L1032.5 1492.4L1033.2 1491.0L1033.8 1489.7L1034.4 1488.3L1035.0 1487.0L1035.7 1485.7L1036.3 1484.4L1036.9 1483.2L1037.6 1481.9L1038.2 1480.7L1038.8 1479.5L1039.4 1478.3L1040.1 1477.1L1040.7 1475.9L1041.3 1474.8L1041.9 1473.7L1042.6 1472.5L1043.2 1471.5L1043.8 1470.4L1044.5 1469.3L1045.1 1468.3L1045.7 1467.3L1046.3 1466.3L1047.0 1465.4L1047.6 1464.5L1048.2 1463.5L1048.8 1462.7L1049.5 1461.8L1050.1 1461.0L1050.7 1460.1L1051.4 1459.4L1052.0 1458.6L1052.6 1457.9L1053.2 1457.2L1053.9 1456.5L1054.5 1455.8L1055.1 1455.2L1055.8 1454.6L1056.4 1454.0L1057.0 1453.5L1057.6 1453.0L1058.3 1452.5L1058.9 1452.0L1059.5 1451.6L1060.1 1451.2L1060.8 1450.8L1061.4 1450.5L1062.0 1450.1L1062.7 1449.9L1063.3 1449.6L1063.9 1449.4L1064.5 1449.2L1065.2 1449.0L1065.8 1448.9L1066.4 1448.8L1067.0 1448.7L1067.7 1448.6L1068.3 1448.6L1068.9 1448.6L1069.6 1448.7L1070.2 1448.7L1070.8 1448.8L1071.4 1448.9L1072.1 1449.1L1072.7 1449.3L1073.3 1449.4L1073.9 1449.7L1074.6 1449.9L1075.2 1450.2L1075.8 1450.5L1076.5 1450.8L1077.1 1451.1L1077.7 1451.5L1078.3 1451.9L1079.0 1452.3L1079.6 1452.7L1080.2 1453.2L1080.8 1453.7L1081.5 1454.2L1082.1 1454.7L1082.7 1455.3L1083.4 1455.8L1084.0 1456.4L1084.6 1457.1L1085.2 1457.7L1085.9 1458.4L1086.5 1459.1L1087.1 1459.8L1087.8 1460.5L1088.4 1461.3L1089.0 1462.0L1089.6 1462.8L1090.3 1463.7L1090.9 1464.5L1091.5 1465.4L1092.1 1466.2L1092.8 1467.1L1093.4 1468.0L1094.0 1469.0L1094.7 1469.9L1095.3 1470.9L1095.9 1471.9L1096.5 1472.9L1097.2 1473.9L1097.8 1474.9L1098.4 1476.0L1099.0 1477.1L1099.7 1478.1L1100.3 1479.2L1100.9 1480.4L1101.6 1481.5L1102.2 1482.6L1102.8 1483.8L1103.4 1485.0L1104.1 1486.1L1104.7 1487.3L1105.3 1488.5L1105.9 1489.8L1106.6 1491.0L1107.2 1492.2L1107.8 1493.5L1108.5 1494.8L1109.1 1496.0L1109.7 1497.3L1110.3 1498.6L1111.0 1499.9L1111.6 1501.2L1112.2 1502.5L1112.9 1503.8L1113.5 1505.2L1114.1 1506.5L1114.7 1507.9L1115.4 1509.2L1116.0 1510.6L1116.6 1511.9L1117.2 1513.3L1117.9 1514.7L1118.5 1516.0L1119.1 1517.4L1119.8 1518.8L1120.4 1520.2L1121.0 1521.6L1121.6 1522.9L1122.3 1524.3L1122.9 1525.7L1123.5 1527.1L1124.1 1528.5L1124.8 1529.9L1125.4 1531.3L1126.0 1532.7L1126.7 1534.1L1127.3 1535.5L1127.9 1536.9L1128.5 1538.3L1129.2 1539.6L1129.8 1541.0L1130.4 1542.4L1131.0 1543.8L1131.7 1545.2L1132.3 1546.5L1132.9 1547.9L1133.6 1549.3L1134.2 1550.6L1134.8 1552.0L1135.4 1553.3L1136.1 1554.7L1136.7 1556.0L1137.3 1557.4L1138.0 1558.7L1138.6 1560.0L1139.2 1561.3L1139.8 1562.6L1140.5 1563.9L1141.1 1565.2L1141.7 1566.5L1142.3 1567.8L1143.0 1569.1L1143.6 1570.4L1144.2 1571.6L1144.9 1572.9L1145.5 1574.1L1146.1 1575.3L1146.7 1576.6L1147.4 1577.8L1148.0 1579.0L1148.6 1580.2L1149.2 1581.4L1149.9 1582.5L1150.5 1583.7L1151.1 1584.9L1151.8 1586.0L1152.4 1587.1L1153.0 1588.3L1153.6 1589.4L1154.3 1590.5L1154.9 1591.6L1155.5 1592.7L1156.1 1593.8L1156.8 1594.8L1157.4 1595.9L1158.0 1596.9L1158.7 1597.9L1159.3 1599.0L1159.9 1600.0L1160.5 1601.0L1161.2 1602.0L1161.8 1602.9L1162.4 1603.9L1163.1 1604.9L1163.7 1605.8L1164.3 1606.7L1164.9 1607.6L1165.6 1608.5L1166.2 1609.4L1166.8 1610.3L1167.4 1611.2L1168.1 1612.1L1168.7 1612.9L1169.3 1613.8L1170.0 1614.6L1170.6 1615.4L1171.2 1616.2L1171.8 1617.0L1172.5 1617.8L1173.1 1618.6L1173.7 1619.3L1174.3 1620.1L1175.0 1620.8L1175.6 1621.5L1176.2 1622.3L1176.9 1623.0L1177.5 1623.7L1178.1 1624.3L1178.7 1625.0L1179.4 1625.7L1180.0 1626.3L1180.6 1627.0L1181.2 1627.6L1181.9 1628.2L1182.5 1628.8L1183.1 1629.4L1183.8 1630.0L1184.4 1630.6L1185.0 1631.2L1185.6 1631.7L1186.3 1632.3L1186.9 1632.8L1187.5 1633.4L1188.2 1633.9L1188.8 1634.4L1189.4 1634.9L1190.0 1635.4L1190.7 1635.9L1191.3 1636.3L1191.9 1636.8L1192.5 1637.3L1193.2 1637.7L1193.8 1638.2L1194.4 1638.6L1195.1 1639.0L1195.7 1639.4L1196.3 1639.8L1196.9 1640.2L1197.6 1640.6L1198.2 1641.0L1198.8 1641.4L1199.4 1641.8L1200.1 1642.1L1200.7 1642.5L1201.3 1642.8L1202.0 1643.1L1202.6 1643.5L1203.2 1643.8L1203.8 1644.1L1204.5 1644.4L1205.1 1644.7L1205.7 1645.0L1206.3 1645.3L1207.0 1645.6L1207.6 1645.9L1208.2 1646.1L1208.9 1646.4L1209.5 1646.7L1210.1 1646.9L1210.7 1647.2L1211.4 1647.4L1212.0 1647.6L1212.6 1647.9L1213.3 1648.1L1213.9 1648.3L1214.5 1648.5L1215.1 1648.7L1215.8 1648.9L1216.4 1649.1L1217.0 1649.3L1217.6 1649.5L1218.3 1649.7L1218.9 1649.9L1219.5 1650.1L1220.2 1650.2L1220.8 1650.4L1221.4 1650.6L1222.0 1650.7L1222.7 1650.9L1223.3 1651.0L1223.9 1651.2L1224.5 1651.3L1225.2 1651.4L1225.8 1651.6L1226.4 1651.7L1227.1 1651.8L1227.7 1652.0L1228.3 1652.1L1228.9 1652.2L1229.6 1652.3L1230.2 1652.4L1230.8 1652.5L1231.4 1652.6L1232.1 1652.7L1232.7 1652.8L1233.3 1652.9L1234.0 1653.0L1234.6 1653.1L1235.2 1653.2L1235.8 1653.3L1236.5 1653.4L1237.1 1653.5L1237.7 1653.6L1238.4 1653.6L1239.0 1653.7L1239.6 1653.8L1240.2 1653.8L1240.9 1653.9L1241.5 1654.0L1242.1 1654.0L1242.7 1654.1L1243.4 1654.2L1244.0 1654.2L1244.6 1654.3L1245.3 1654.3L1245.9 1654.4L1246.5 1654.4L1247.1 1654.5L1247.8 1654.5L1248.4 1654.6L1249.0 1654.6L1249.6 1654.7L1250.3 1654.7L1250.9 1654.8L1251.5 1654.8L1252.2 1654.8L1252.8 1654.9L1253.4 1654.9L1254.0 1654.9L1254.7 1655.0L1255.3 1655.0L1255.9 1655.0L1256.5 1655.1L1257.2 1655.1L1257.8 1655.1L1258.4 1655.2L1259.1 1655.2L1259.7 1655.2L1260.3 1655.2L1260.9 1655.3L1261.6 1655.3L1262.2 1655.3L1262.8 1655.3L1263.5 1655.4L1264.1 1655.4L1264.7 1655.4L1265.3 1655.4L1266.0 1655.4L1266.6 1655.5L1267.2 1655.5L1267.8 1655.5L1268.5 1655.5L1269.1 1655.5L1269.7 1655.5L1270.4 1655.5L1271.0 1655.6L1271.6 1655.6L1272.2 1655.6L1272.9 1655.6L1273.5 1655.6L1274.1 1655.6L1274.7 1655.6L1275.4 1655.6L1276.0 1655.7L1276.6 1655.7L1277.3 1655.7L1277.9 1655.7L1278.5 1655.7L1279.1 1655.7L1279.8 1655.7L1280.4 1655.7L1281.0 1655.7L1281.6 1655.7L1282.3 1655.7L1282.9 1655.7L1283.5 1655.7L1284.2 1655.8L1284.8 1655.8L1285.4 1655.8L1286.0 1655.8L1286.7 1655.8L1287.3 1655.8L1287.9 1655.8L1288.6 1655.8L1289.2 1655.8L1289.8 1655.8L1290.4 1655.8L1291.1 1655.8L1291.7 1655.8L1292.3 1655.8L1292.9 1655.8L1293.6 1655.8L1294.2 1655.8L1294.8 1655.8L1295.5 1655.8L1296.1 1655.8L1296.7 1655.8L1297.3 1655.8L1298.0 1655.8L1298.6 1655.8L1299.2 1655.8L1299.8 1655.9L1300.5 1655.9L1301.1 1655.9L1301.7 1655.9L1302.4 1655.9L1303.0 1655.9L1303.6 1655.9L1304.2 1655.9L1304.9 1655.9L1305.5 1655.9L1306.1 1655.9L1306.8 1655.9L1307.4 1655.9L1308.0 1655.9L1308.6 1655.9L1309.3 1655.9L1309.9 1655.9L1310.5 1655.9L1311.1 1655.9L1311.8 1655.9L1312.4 1655.9L1313.0 1655.9L1313.7 1655.9L1314.3 1655.9L1314.9 1655.9L1315.5 1655.9L1316.2 1655.9L1316.8 1655.9L1317.4 1655.9L1318.0 1655.9L1318.7 1655.9L1319.3 1655.9L1319.9 1655.9L1320.6 1655.9L1321.2 1655.9L1321.8 1655.9L1322.4 1655.9L1323.1 1655.9L1323.7 1655.9L1324.3 1655.9L1324.9 1655.9L1325.6 1655.9L1326.2 1655.9L1326.8 1655.9L1327.5 1655.9L1328.1 1655.9L1328.7 1655.9L1329.3 1655.9L1330.0 1655.9L1330.6 1655.9L1331.2 1655.9L1331.8 1655.9L1332.5 1655.9L1333.1 1655.9L1333.7 1655.9L1334.4 1655.9L1335.0 1655.9L1335.6 1655.9L1336.2 1655.9L1336.9 1655.9L1337.5 1655.9L1338.1 1655.9L1338.8 1655.9L1339.4 1655.9L1340.0 1655.9L1340.6 1655.9L1341.3 1655.9L1341.9 1655.9L1342.5 1655.9L1343.1 1655.9L1343.8 1655.9L1344.4 1655.9L1345.0 1655.9L1345.7 1655.9L1346.3 1655.9L1346.9 1655.9L1347.5 1655.9L1348.2 1655.9L1348.8 1655.9L1349.4 1655.9L1350.0 1655.9L1350.7 1655.9L1351.3 1655.9L1351.9 1655.9L1352.6 1655.9L1353.2 1655.9L1353.8 1655.9L1354.4 1655.9L1355.1 1655.9L1355.7 1655.9L1356.3 1655.9L1356.9 1655.9" stroke="#de2b2b" stroke-width="3.4" stroke-dasharray="12.6 12.5"/>
</g>
<text class="t" x="817.3" y="1690.9" text-anchor="middle">–2</text>
<text class="t" x="1068.3" y="1690.9" text-anchor="middle">0</text>
<text class="t" x="1319.3" y="1690.9" text-anchor="middle">2</text>
<text class="t" x="768.3" y="1665.4" text-anchor="end">0</text>
<text class="t" x="768.3" y="1559.65" text-anchor="end">0.5</text>
<text class="t" x="768.3" y="1453.9" text-anchor="end">1</text>
<text class="t" x="768.3" y="1348.15" text-anchor="end">1.5</text>
<text class="t" x="768.7" y="1240.8" text-anchor="end">2</text>
<text class="l" x="1068.12" y="1733.9" text-anchor="middle">Frequency <tspan class="w">ω</tspan> – <tspan class="w">ω</tspan><tspan class="s" dy="8">0</tspan><tspan dy="-8"> (fs</tspan><tspan class="s" dy="-11">–1</tspan><tspan dy="11">)</tspan></text>
<text class="p" x="727.3" y="1233.8">f</text>
</svg></body></html>
